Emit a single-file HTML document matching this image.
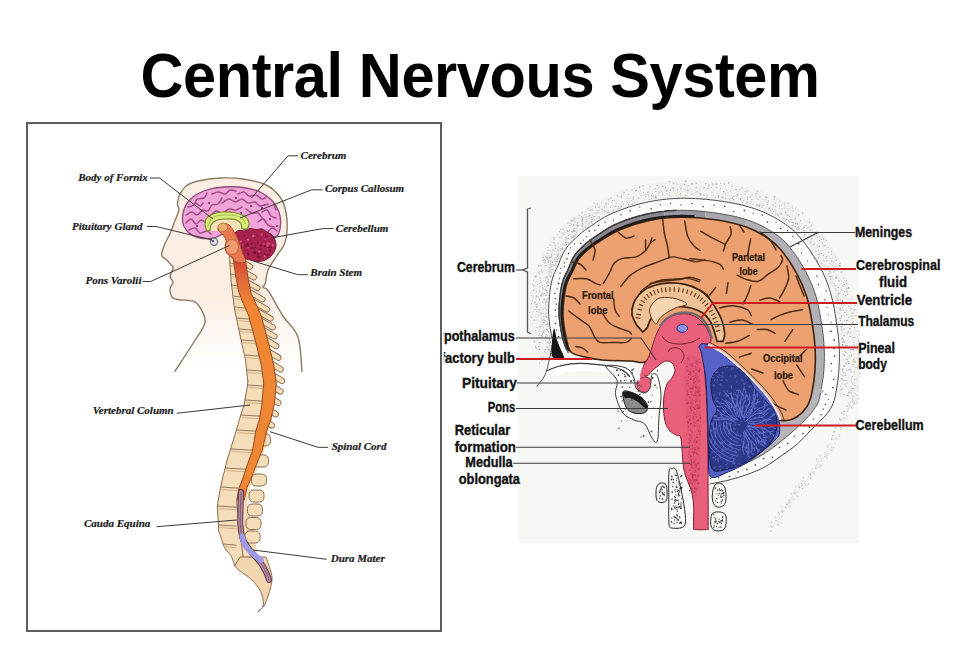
<!DOCTYPE html>
<html><head><meta charset="utf-8">
<style>
html,body{margin:0;padding:0;background:#fff;}
body{width:960px;height:659px;position:relative;overflow:hidden;font-family:"Liberation Sans",sans-serif;}
#title{position:absolute;left:0;top:49.5px;width:960px;text-align:center;font-weight:bold;font-size:59.5px;line-height:59px;letter-spacing:-0.4px;transform:scaleY(1.07);transform-origin:0 96px;color:#000;white-space:nowrap;}
svg{position:absolute;left:0;top:0;}
.li{font-family:"Liberation Serif",serif;font-style:italic;font-weight:bold;font-size:11px;fill:#1a1a1a;stroke:#1a1a1a;stroke-width:0.2px;}
.ri{font-family:"Liberation Sans",sans-serif;font-weight:bold;font-size:14.2px;fill:#111;stroke:#111;stroke-width:0.35px;}
.rs{font-family:"Liberation Sans",sans-serif;font-weight:bold;font-size:11px;fill:#2a1808;stroke:#2a1808;stroke-width:0.25px;}
</style></head>
<body>
<div id="title">Central Nervous System</div>
<svg width="960" height="659" viewBox="0 0 960 659">
<g id="right">
<rect x="518" y="176" width="341" height="367" fill="#f7f8f4"/>
<path d="M539.7 363.1 L539.5 362.6 L539.2 361.8 L538.7 360.6 L538.1 359.0 L537.4 357.2 L536.6 355.0 L535.8 352.7 L535.0 350.1 L534.2 347.3 L533.5 344.4 L532.9 341.8 L532.4 339.4 L531.9 336.8 L531.5 334.2 L531.1 331.5 L530.7 328.8 L530.3 326.1 L530.0 323.3 L529.7 320.5 L529.5 317.7 L529.4 314.8 L529.4 312.0 L529.4 309.3 L529.5 306.8 L529.6 304.3 L529.8 302.0 L530.0 299.8 L530.2 297.7 L530.4 295.8 L530.6 293.9 L530.8 292.0 L531.1 290.0 L531.4 287.9 L531.7 285.8 L532.1 283.7 L532.5 281.6 L533.0 279.4 L533.5 277.1 L534.2 274.8 L534.9 272.4 L535.8 269.7 L536.8 267.2 L537.9 264.8 L538.8 262.8 L539.7 261.0 L540.5 259.6 L541.1 258.3 L541.6 257.4 L542.0 256.6 L542.2 256.1 L542.4 255.6 L542.7 254.9 L543.1 253.9 L543.7 252.5 L544.3 250.9 L545.2 249.0 L546.2 246.7 L547.5 244.3 L549.1 241.6 L550.9 238.9 L552.7 236.4 L554.5 234.2 L556.2 232.3 L557.9 230.5 L559.5 228.8 L561.1 227.3 L562.6 226.0 L564.0 224.7 L565.3 223.6 L566.6 222.5 L568.0 221.3 L569.5 220.1 L571.0 218.9 L572.6 217.7 L574.1 216.5 L575.7 215.4 L577.4 214.3 L579.0 213.2 L580.7 212.1 L582.2 211.1 L583.6 210.2 L585.1 209.2 L586.9 208.0 L588.9 206.7 L591.3 205.2 L593.8 203.7 L596.7 202.1 L599.7 200.5 L603.0 198.8 L606.4 197.2 L609.6 195.9 L612.8 194.6 L616.1 193.3 L619.6 192.0 L623.1 190.7 L626.8 189.5 L630.5 188.4 L634.3 187.3 L638.2 186.2 L642.1 185.3 L645.9 184.4 L649.7 183.7 L653.4 183.0 L657.2 182.4 L661.0 181.9 L664.8 181.4 L668.6 181.0 L672.4 180.7 L676.3 180.5 L680.2 180.3 L684.2 180.2 L688.3 180.2 L692.4 180.3 L696.5 180.4 L700.6 180.6 L704.6 180.9 L708.6 181.2 L712.6 181.6 L716.5 182.0 L720.3 182.4 L724.1 183.0 L727.9 183.5 L731.7 184.0 L735.5 184.7 L739.2 185.3 L742.9 186.1 L746.6 186.9 L750.3 187.8 L753.9 188.7 L757.5 189.8 L761.1 190.9 L764.7 192.2 L768.1 193.5 L771.4 194.8 L774.6 196.2 L777.6 197.6 L780.4 199.0 L783.2 200.4 L785.7 201.8 L788.1 203.1 L790.5 204.4 L792.9 205.9 L795.4 207.4 L798.0 209.2 L800.6 211.1 L803.3 213.2 L805.9 215.5 L808.5 217.8 L810.9 220.2 L813.4 222.8 L815.8 225.5 L818.3 228.3 L820.6 231.2 L822.9 234.1 L825.0 237.1 L827.1 240.1 L829.2 243.2 L831.2 246.2 L833.1 249.3 L835.0 252.4 L836.8 255.5 L838.5 258.6 L840.1 261.7 L841.6 264.8 L843.1 267.9 L844.4 271.0 L845.7 274.1 L846.8 277.1 L847.9 280.2 L849.0 283.3 L850.1 286.6 L851.1 289.9 L851.9 293.2 L852.7 296.3 L853.4 299.3 L854.0 302.2 L854.5 305.0 L855.0 307.6 L855.5 310.2 L856.0 312.8 L856.5 315.6 L857.0 318.6 L857.5 321.6 L858.0 324.8 L858.4 327.9 L858.9 331.1 L859.3 334.3 L859.6 337.6 L859.9 340.8 L860.1 344.0 L860.3 347.0 L860.4 350.0 L860.5 352.9 L860.6 355.8 L860.6 358.7 L860.6 361.6 L860.5 364.5 L860.4 367.4 L860.3 370.3 L860.1 373.2 L859.8 376.3 L859.5 379.4 L859.2 382.5 L858.8 385.6 L858.4 388.7 L858.0 391.7 L857.5 394.7 L857.0 397.7 L856.4 400.6 L835.2 396.3 L835.7 393.8 L836.2 391.1 L836.7 388.4 L837.1 385.7 L837.5 382.9 L837.9 380.1 L838.2 377.2 L838.5 374.4 L838.7 371.7 L838.9 369.1 L839.1 366.5 L839.2 363.9 L839.3 361.3 L839.4 358.7 L839.4 356.1 L839.4 353.5 L839.3 350.8 L839.2 348.1 L839.1 345.4 L838.9 342.5 L838.6 339.5 L838.4 336.5 L838.0 333.5 L837.6 330.5 L837.2 327.5 L836.8 324.6 L836.4 321.7 L835.9 318.8 L835.5 316.1 L835.0 313.6 L834.6 311.1 L834.2 308.6 L833.7 306.0 L833.2 303.4 L832.6 300.7 L831.9 298.0 L831.2 295.2 L830.4 292.4 L829.5 289.5 L828.6 286.8 L827.6 284.0 L826.6 281.3 L825.5 278.6 L824.3 275.8 L823.1 273.1 L821.7 270.3 L820.3 267.6 L818.8 264.8 L817.3 262.1 L815.7 259.3 L813.9 256.6 L812.1 253.8 L810.3 251.0 L808.4 248.2 L806.4 245.5 L804.4 242.9 L802.4 240.3 L800.3 237.9 L798.2 235.5 L796.2 233.4 L794.2 231.4 L792.1 229.5 L790.0 227.7 L787.9 226.1 L785.8 224.5 L783.8 223.1 L781.7 221.8 L779.6 220.5 L777.5 219.3 L775.4 218.1 L773.2 216.9 L770.8 215.6 L768.4 214.4 L765.8 213.2 L763.1 212.0 L760.4 210.9 L757.5 209.8 L754.5 208.7 L751.4 207.7 L748.3 206.7 L745.1 205.9 L741.8 205.0 L738.5 204.3 L735.1 203.6 L731.7 202.9 L728.2 202.3 L724.7 201.7 L721.2 201.2 L717.7 200.7 L714.2 200.2 L710.5 199.8 L706.8 199.4 L703.0 199.1 L699.2 198.8 L695.4 198.6 L691.6 198.4 L687.8 198.3 L684.1 198.2 L680.4 198.3 L676.8 198.4 L673.3 198.6 L669.7 198.8 L666.3 199.2 L662.8 199.5 L659.3 200.0 L655.9 200.5 L652.5 201.1 L649.1 201.7 L645.7 202.5 L642.2 203.3 L638.7 204.2 L635.2 205.1 L631.8 206.2 L628.4 207.2 L625.1 208.4 L621.9 209.5 L618.8 210.7 L615.9 211.8 L613.0 213.0 L610.1 214.3 L607.3 215.7 L604.7 217.1 L602.3 218.5 L600.1 219.9 L598.0 221.2 L596.1 222.5 L594.4 223.7 L592.9 224.7 L591.4 225.7 L589.9 226.7 L588.4 227.8 L586.9 228.8 L585.5 229.8 L584.2 230.8 L582.8 231.8 L581.5 232.9 L580.3 233.9 L579.0 235.0 L577.8 236.0 L576.6 237.1 L575.5 238.2 L574.3 239.3 L573.1 240.4 L571.8 241.7 L570.6 243.0 L569.3 244.4 L568.0 245.9 L566.8 247.5 L565.5 249.3 L564.3 251.2 L563.2 253.1 L562.3 254.9 L561.6 256.7 L560.9 258.2 L560.3 259.7 L559.8 261.0 L559.4 262.2 L559.0 263.2 L558.7 264.1 L558.3 265.0 L557.8 266.0 L557.3 267.1 L556.7 268.3 L556.1 269.6 L555.4 271.1 L554.7 272.7 L553.9 274.4 L553.2 276.3 L552.6 278.2 L552.1 280.1 L551.6 281.9 L551.2 283.7 L550.9 285.5 L550.5 287.3 L550.3 289.1 L550.0 290.9 L549.8 292.7 L549.6 294.4 L549.4 296.2 L549.3 298.0 L549.1 299.8 L549.0 301.7 L548.8 303.6 L548.7 305.6 L548.7 307.7 L548.6 309.9 L548.6 312.1 L548.7 314.4 L548.8 316.7 L549.0 319.1 L549.3 321.5 L549.6 323.9 L549.9 326.3 L550.3 328.7 L550.8 331.1 L551.2 333.4 L551.7 335.7 L552.1 337.9 L552.7 340.0 L553.2 342.3 L553.9 344.5 L554.6 346.6 L555.3 348.6 L556.0 350.4 L556.7 352.1 L557.3 353.5 L557.9 354.8 L558.3 355.7 L558.6 356.4 Z" fill="#f2f2ef" stroke="none"/>
<path d="M552.1 358.8h0.7M549.2 358.8h1.0M555.5 356.6h0.7M552.0 358.2h0.8M548.7 360.4h0.9M539.2 363.1h0.8M553.8 356.7h1.3M554.4 357.4h0.9M548.1 358.2h0.8M546.4 359.6h1.1M549.8 358.3h1.2M553.3 356.6h1.3M544.8 360.5h0.7M551.3 356.8h1.0M555.3 356.4h1.1M541.2 359.9h1.1M547.5 357.9h1.4M549.7 355.7h1.2M547.3 358.4h0.8M551.1 355.1h1.0M552.1 352.6h1.2M552.7 353.2h1.3M553.5 353.4h1.3M542.9 357.1h0.9M551.3 355.3h0.7M551.5 351.3h1.0M545.6 353.0h0.9M549.8 353.6h1.2M547.6 353.9h0.6M540.3 357.1h1.2M548.4 350.1h1.1M551.4 349.0h0.7M548.5 349.6h0.7M551.8 348.8h1.3M544.2 351.7h0.9M547.5 349.3h1.4M546.7 348.3h0.7M548.1 349.2h0.7M552.7 347.6h0.7M544.5 349.6h1.4M538.6 348.7h0.9M550.5 345.7h1.2M547.5 346.9h1.4M539.0 349.7h1.2M549.4 345.6h0.6M549.9 342.6h1.2M535.1 347.9h1.4M535.0 346.4h0.8M548.4 343.6h1.3M537.9 346.6h1.2M549.7 341.6h1.2M539.1 342.5h1.2M547.3 342.4h0.9M546.5 342.1h0.7M548.3 341.7h1.2M549.0 339.6h1.1M546.0 338.4h0.6M533.9 341.7h1.3M545.3 340.1h0.8M546.8 338.4h1.1M546.4 335.9h1.3M545.2 337.1h1.3M545.1 337.1h1.0M541.6 337.3h0.7M549.4 335.6h1.0M538.3 335.4h1.0M542.1 334.3h1.0M545.8 334.8h1.0M541.9 336.0h1.0M540.5 335.3h1.2M542.9 332.3h1.4M539.0 334.0h0.8M541.9 333.3h0.7M547.0 330.8h0.8M547.9 332.2h1.3M546.9 329.6h0.7M534.8 330.6h1.4M543.3 330.7h1.3M546.2 329.3h0.9M545.7 329.8h0.6M540.2 326.6h0.9M539.0 326.9h1.4M536.5 327.4h0.8M547.5 326.2h0.7M543.4 327.9h0.8M546.6 324.5h1.2M545.4 324.6h0.9M547.3 324.5h1.2M547.0 323.4h1.3M541.4 324.9h1.3M543.4 322.0h0.8M545.1 320.9h0.8M543.1 322.5h0.8M540.0 322.0h0.6M543.4 322.4h1.0M544.7 320.3h0.7M533.8 320.2h1.3M542.1 320.0h1.4M543.5 320.0h1.1M541.6 318.7h0.7M546.1 316.4h0.7M546.2 317.6h1.1M543.0 316.6h1.0M544.8 316.4h1.4M530.3 317.2h1.4M542.7 313.5h0.9M540.5 314.0h1.0M545.3 313.6h0.9M544.7 314.1h0.8M538.5 315.1h1.1M536.6 311.8h0.9M529.1 312.5h1.1M546.3 312.9h1.1M536.1 311.3h1.0M540.6 312.7h1.3M539.2 310.0h1.2M543.0 309.0h0.9M545.9 309.9h1.1M538.0 309.6h0.6M534.6 309.5h1.0M536.2 307.6h0.8M545.0 308.0h0.8M536.4 307.1h0.9M540.7 307.8h1.1M536.5 306.5h0.8M535.1 304.9h0.6M545.2 305.8h1.2M536.4 304.8h1.0M539.9 305.9h0.8M531.0 303.4h1.0M534.9 302.2h0.8M545.3 302.7h1.1M545.2 304.2h0.7M534.0 303.1h1.2M545.0 303.2h0.6M546.1 301.3h0.8M545.0 300.9h1.3M546.6 302.1h0.7M532.2 300.8h0.8M542.2 302.0h1.1M542.6 298.6h0.6M546.4 299.0h1.3M543.8 299.3h0.8M543.5 299.8h1.2M539.0 299.5h1.0M535.7 297.0h1.0M536.2 296.0h0.6M531.4 295.9h0.9M544.3 298.3h0.8M537.5 296.8h0.9M544.8 295.1h1.3M540.4 296.0h1.4M541.1 294.7h0.7M542.6 294.9h0.8M540.5 295.5h0.9M542.6 293.3h0.9M546.1 295.0h0.7M541.3 294.0h0.8M544.0 293.6h1.0M532.6 292.9h0.6M547.3 293.0h1.0M538.8 291.0h1.3M535.8 291.5h0.8M545.7 292.2h1.1M532.9 290.4h1.2M542.4 288.7h1.2M546.3 290.4h0.8M546.0 290.6h1.2M545.8 290.4h1.1M542.8 290.0h0.6M544.8 289.1h1.1M534.3 285.8h0.8M533.0 285.6h0.6M542.3 287.5h0.8M539.7 286.5h0.6M544.5 286.5h0.8M537.1 284.6h0.8M532.4 284.5h0.8M546.7 286.0h1.4M541.7 285.1h0.9M540.5 282.4h0.9M547.5 283.9h0.6M547.7 285.7h1.3M539.3 283.7h0.9M547.7 285.1h0.6M539.9 280.8h0.9M546.4 282.4h0.9M533.3 280.5h0.8M545.8 282.9h0.9M548.3 282.8h1.3M547.3 281.6h0.6M545.5 280.6h0.6M547.9 282.0h0.8M539.8 278.2h0.8M534.7 276.9h1.2M546.2 277.5h1.2M536.3 276.3h0.6M547.6 279.7h1.4M545.2 278.1h1.0M535.1 275.9h1.2M539.3 273.9h0.9M547.0 277.0h0.7M549.1 276.4h0.7M550.0 277.0h1.4M538.4 272.8h0.7M550.2 275.6h1.0M548.8 274.9h1.1M541.7 272.0h0.7M538.8 271.1h0.9M540.6 271.3h0.8M551.3 273.1h0.9M548.7 271.8h0.8M541.1 269.8h0.7M547.3 272.0h1.3M550.8 272.5h0.8M538.6 266.0h0.9M540.5 265.7h1.2M538.2 265.6h1.1M550.4 270.1h0.8M550.5 271.0h0.8M552.5 270.2h0.7M549.8 269.2h1.0M551.9 269.5h1.0M544.9 265.6h1.2M548.8 267.6h1.4M551.3 266.8h0.9M543.4 262.2h0.8M544.4 262.8h1.3M550.4 266.1h1.3M548.6 265.1h1.0M548.0 262.4h1.1M551.2 264.6h0.8M549.9 263.4h1.0M545.3 261.0h0.7M542.6 260.1h0.6M542.4 259.9h1.1M543.9 260.8h0.8M552.0 264.5h0.7M553.3 265.1h0.9M553.8 265.9h1.3M555.4 265.2h0.6M544.1 259.3h1.0M548.2 260.9h1.1M551.9 262.6h1.0M555.6 264.7h0.8M547.1 258.9h0.7M550.5 260.7h0.9M555.3 263.6h0.6M548.0 260.6h1.2M549.9 261.2h0.9M542.5 257.3h1.4M548.1 258.1h1.4M552.3 261.4h0.7M547.3 257.3h0.9M546.3 259.2h0.8M545.4 257.3h1.3M554.7 261.5h0.9M555.8 261.4h1.3M549.4 257.8h1.2M556.0 262.1h0.9M545.4 256.2h1.3M557.4 261.2h0.9M546.3 257.7h1.1M554.3 259.6h0.7M546.9 257.8h0.8M551.0 257.0h1.1M553.8 258.0h0.7M550.3 257.0h1.3M556.1 260.0h0.6M557.0 259.2h0.9M556.5 258.2h0.8M550.8 254.9h1.3M555.4 257.1h1.1M546.9 253.5h0.8M558.1 258.7h0.9M551.0 254.8h1.2M557.5 255.5h1.0M554.2 254.6h1.2M558.5 258.0h0.7M557.4 256.6h1.1M548.2 250.3h0.8M559.7 256.0h1.2M559.8 256.0h1.0M550.1 250.8h0.7M556.6 254.4h1.2M552.7 250.1h0.8M554.1 251.4h1.0M558.3 253.7h0.8M547.6 247.5h0.8M552.0 249.7h0.9M549.5 245.1h1.3M554.6 248.4h1.4M557.3 249.8h1.3M557.5 249.8h0.8M559.8 250.2h1.3M560.4 248.5h1.3M558.7 247.2h0.6M554.8 245.4h1.2M562.0 249.4h1.3M553.2 242.8h1.3M553.4 239.2h0.8M561.9 248.1h1.2M557.7 243.5h0.8M562.1 248.0h0.8M560.9 245.2h0.8M563.3 244.2h0.9M553.4 237.6h1.1M564.4 245.7h1.2M562.6 244.0h0.8M554.3 238.9h0.7M565.4 244.7h1.4M566.0 244.2h1.2M565.1 243.1h1.3M565.3 242.4h0.8M559.2 237.6h1.1M567.6 242.8h1.2M561.5 237.3h0.9M557.2 234.7h0.6M565.8 242.4h1.0M565.5 239.7h1.0M565.0 237.5h1.1M566.1 238.3h1.3M563.3 234.7h1.0M561.5 233.1h1.0M559.2 231.6h0.8M564.5 232.6h0.7M568.3 238.5h0.7M567.4 238.7h1.2M570.6 238.6h0.9M560.4 229.6h0.9M570.7 236.7h0.8M567.9 235.6h1.2M565.4 232.3h1.0M570.9 237.7h1.2M562.3 229.0h1.2M569.3 234.6h1.3M566.2 230.3h1.1M567.3 231.1h1.1M572.1 237.5h1.2M567.1 231.5h1.0M568.8 230.9h1.3M573.3 235.8h0.9M571.4 231.3h1.0M573.7 236.3h1.0M573.6 235.9h1.2M571.7 231.5h1.0M573.3 231.5h1.1M573.1 231.5h1.4M572.0 232.2h0.9M574.8 234.9h1.2M573.7 231.0h1.2M567.5 222.9h1.2M573.2 230.4h1.2M569.4 225.5h1.0M576.0 232.5h1.1M571.0 224.2h0.8M572.8 228.9h0.9M569.5 223.5h0.8M574.1 228.7h1.2M575.5 230.8h1.0M576.4 228.8h0.9M571.2 220.4h1.3M571.3 221.0h1.3M573.1 224.9h1.4M573.3 224.8h0.7M579.5 229.1h0.7M572.9 219.9h1.3M576.3 225.4h1.3M574.4 221.8h1.2M577.0 226.0h1.3M577.2 224.2h0.7M577.4 225.5h0.7M578.3 225.6h1.3M582.0 229.6h1.1M577.2 222.9h0.9M573.8 217.5h1.1M582.8 229.0h1.3M582.0 226.4h1.0M574.5 218.8h1.1M581.7 226.0h1.0M581.4 222.4h0.9M581.9 224.9h0.8M577.6 218.4h0.8M582.0 223.5h1.2M582.1 224.9h1.1M581.9 219.5h1.2M578.8 215.4h0.8M584.9 227.4h1.1M581.7 220.8h1.1M581.8 221.0h1.1M581.9 218.9h1.0M580.9 216.7h0.6M582.4 217.4h0.9M581.6 216.5h0.8M585.5 223.2h0.9M585.3 217.2h1.1M587.7 225.1h1.1M581.5 212.6h0.9M585.8 219.8h1.0M585.6 221.5h0.8M588.6 221.8h1.1M590.6 222.2h1.3M588.7 223.4h0.8M584.5 214.8h1.2M586.0 216.5h0.7M588.0 216.3h1.3M591.4 221.4h0.6M591.8 223.2h0.7M590.6 219.7h1.3M587.9 218.1h1.1M591.1 217.2h1.2M591.6 219.1h0.9M591.7 219.4h1.2M589.2 215.4h1.4M589.0 213.9h1.1M587.8 208.6h0.8M593.3 216.6h1.1M591.9 215.2h0.8M594.3 220.2h1.1M589.7 210.3h1.3M591.8 210.2h0.8M591.2 209.7h1.3M594.2 216.6h1.2M596.5 218.8h0.8M593.4 213.1h0.8M598.3 216.7h1.0M599.2 217.9h0.8M596.2 213.0h1.0M596.5 213.0h0.8M598.6 216.5h1.1M599.2 212.4h0.6M593.6 203.0h1.1M595.3 207.7h0.9M597.4 210.6h1.4M595.2 206.3h0.8M598.7 207.0h1.2M599.4 204.9h0.6M602.3 212.9h0.6M601.4 209.5h1.4M596.7 204.0h0.9M606.8 212.4h1.1M603.8 207.1h0.9M603.6 210.4h1.4M604.6 211.6h0.9M601.5 203.0h0.6M605.3 203.1h1.4M608.3 212.3h1.4M605.3 204.8h1.2M608.5 211.0h0.7M606.4 207.0h0.7M607.9 203.6h0.8M612.8 210.0h1.3M608.3 199.1h1.0M612.7 210.9h1.1M610.0 207.2h1.0M611.6 202.1h0.6M611.9 200.5h1.3M614.0 206.9h0.8M610.5 198.3h1.0M614.8 206.2h1.4M618.7 208.4h0.8M615.8 203.2h0.8M617.8 206.2h1.3M617.4 208.6h0.6M614.4 200.7h0.6M617.2 196.3h0.6M617.4 196.0h0.9M616.2 195.2h0.7M621.2 206.4h0.8M620.1 207.0h1.0M623.0 204.1h1.2M621.0 195.1h0.7M621.1 197.6h0.6M620.5 196.4h1.3M621.7 201.9h1.0M623.5 192.7h1.3M625.9 201.4h1.1M627.6 204.7h1.0M627.9 204.8h1.3M627.2 202.0h1.2M631.7 204.4h1.0M629.5 198.5h0.6M626.4 189.6h0.7M631.1 201.0h0.7M627.9 194.4h1.1M632.8 196.8h0.7M631.7 190.2h0.7M633.1 197.2h0.7M632.7 199.1h1.3M634.4 202.3h0.7M636.1 190.6h0.9M635.2 190.4h1.4M635.2 191.3h0.9M637.9 198.1h1.3M636.0 190.2h1.0M639.3 186.6h0.9M639.6 193.5h0.7M640.6 195.6h0.7M638.9 187.8h1.1M639.9 190.9h0.6M643.1 192.7h0.8M644.8 194.3h0.8M643.9 195.3h0.8M644.9 196.7h1.1M642.4 185.8h1.0M646.9 192.6h0.7M648.0 196.4h0.8M648.6 199.4h1.1M647.8 192.2h1.2M647.9 194.8h1.0M651.1 195.3h1.0M651.7 194.0h0.9M649.6 186.7h1.0M652.7 195.8h1.2M651.1 198.3h1.0M655.3 197.5h1.2M654.9 198.3h1.2M655.1 196.7h1.1M655.2 191.3h1.0M654.7 188.9h1.0M658.2 187.8h0.7M656.6 185.7h1.1M659.3 192.2h0.9M658.5 187.2h0.9M658.4 193.2h0.8M662.3 193.0h0.9M662.2 186.4h1.0M662.0 195.0h1.1M661.0 191.1h0.9M662.0 186.2h0.8M666.5 191.3h0.6M665.5 190.9h1.2M666.5 190.6h1.0M665.1 187.7h1.1M666.7 193.7h1.0M669.3 195.5h1.0M669.9 190.5h1.0M669.5 192.7h0.9M669.8 189.7h0.9M669.3 181.5h0.7M672.9 183.7h1.4M672.4 182.5h0.8M672.9 189.7h0.7M673.0 188.0h1.4M671.9 188.0h1.2M677.0 192.1h0.8M676.6 184.3h0.8M676.7 189.9h1.1M677.5 189.9h0.9M676.0 195.6h0.7M679.7 195.1h1.3M680.9 187.3h0.6M679.9 185.7h0.9M679.9 193.7h1.3M680.0 188.7h0.9M684.9 195.5h1.4M684.4 190.6h0.6M684.9 181.4h1.3M683.8 184.4h1.4M685.0 189.7h0.9M687.6 185.8h1.3M688.6 189.9h0.7M687.4 193.2h0.8M687.3 189.2h0.9M687.1 190.9h1.3M691.4 191.9h0.8M690.9 194.2h0.9M692.2 193.9h0.8M691.5 183.8h1.3M691.5 184.3h1.2M696.7 191.7h1.4M695.4 190.2h0.7M695.6 187.5h1.1M695.3 192.6h0.8M695.6 183.3h1.0M700.1 193.7h1.1M699.5 189.3h0.7M700.2 194.6h1.1M699.6 195.3h1.0M698.8 193.2h0.8M703.8 195.2h0.9M705.0 183.7h1.3M702.9 194.7h1.1M703.7 187.8h1.1M703.6 188.0h0.9M707.2 188.2h1.3M708.5 186.0h0.6M706.6 195.3h0.9M706.7 196.9h0.7M708.4 185.2h0.8M711.7 192.3h0.6M712.7 184.8h0.6M712.4 183.9h0.8M711.5 195.9h1.3M711.1 187.4h0.9M716.5 187.0h0.7M716.2 184.1h1.2M716.4 187.9h1.0M714.9 197.2h1.0M715.5 184.1h0.6M720.0 188.3h1.0M720.5 183.2h0.8M717.9 197.6h0.8M717.8 195.7h1.1M717.8 196.2h1.0M723.6 184.0h1.3M721.9 197.3h1.3M723.2 191.5h1.1M722.7 191.8h1.3M721.3 197.6h0.8M724.8 198.2h1.2M725.3 194.0h1.0M725.1 194.7h0.6M728.4 182.8h1.2M728.0 183.1h1.0M729.0 195.2h0.6M731.7 186.1h1.3M729.8 190.9h0.7M729.3 200.2h0.8M729.3 199.0h1.3M733.1 199.8h1.2M732.2 197.9h0.9M733.1 196.4h1.3M731.7 198.5h1.1M735.1 189.5h1.4M737.0 194.8h0.8M736.4 194.3h0.7M737.7 195.4h0.6M736.1 196.8h0.6M739.1 189.5h0.9M740.1 199.3h0.9M739.8 198.8h1.3M741.7 187.9h1.0M740.5 194.4h0.7M739.8 199.6h1.3M746.8 190.8h1.1M744.6 191.4h1.1M743.3 200.7h1.0M744.3 194.0h1.3M741.9 202.6h1.0M746.3 202.5h1.1M747.1 199.2h0.9M745.4 203.3h1.0M746.8 202.1h0.7M747.1 197.2h1.0M749.8 201.6h1.0M750.4 196.9h0.7M751.2 199.7h1.2M751.5 194.9h1.2M749.9 203.3h0.7M757.3 191.2h0.7M755.0 194.1h0.9M752.5 204.4h0.8M755.3 196.7h1.1M756.7 193.4h1.3M756.4 204.7h1.2M759.3 196.8h0.9M760.0 196.9h0.6M757.3 199.1h1.2M756.5 205.8h0.8M759.0 206.6h1.1M757.8 205.8h1.2M759.2 205.5h1.1M759.3 204.4h1.0M762.7 199.5h0.6M762.2 205.3h1.3M765.3 197.0h1.3M765.0 199.9h0.7M766.4 197.5h1.1M761.3 207.4h1.3M766.7 202.2h0.9M766.8 204.5h0.9M764.5 209.1h0.6M767.5 204.0h0.7M767.8 200.9h1.0M768.3 208.8h1.4M773.6 196.5h1.2M773.7 199.1h1.1M768.3 208.1h1.3M774.3 197.1h1.2M774.8 203.1h0.9M772.8 205.2h0.9M772.2 209.2h0.9M770.2 209.9h0.7M770.5 211.8h1.0M775.4 206.4h0.7M773.2 211.2h1.0M779.4 201.1h1.1M771.8 213.0h1.4M774.6 210.0h1.3M774.8 214.9h0.8M774.8 211.9h0.8M779.1 205.9h0.8M779.4 208.1h0.8M780.9 205.8h0.7M784.1 205.2h0.7M777.7 215.3h1.1M784.1 203.0h1.2M781.3 208.7h0.9M776.9 214.5h1.1M780.9 214.4h0.8M781.0 213.4h1.1M787.1 203.6h1.2M780.0 213.6h0.7M784.4 208.2h0.9M785.1 212.8h1.1M785.2 212.2h0.8M787.3 210.5h0.8M788.5 208.7h0.8M785.6 212.2h0.6M786.8 215.5h0.9M792.2 206.6h0.7M782.7 218.4h1.0M786.7 214.7h0.9M783.3 219.1h1.3M785.2 220.4h0.8M795.1 208.1h0.9M792.5 210.9h1.3M786.3 219.4h1.1M788.7 216.5h1.1M791.2 219.7h1.1M788.3 220.4h0.9M788.2 221.3h1.1M790.3 219.5h1.1M789.0 222.2h0.8M797.5 215.1h0.9M794.3 218.9h1.1M794.7 218.1h1.3M791.6 222.3h1.2M797.9 214.4h1.4M792.9 222.8h1.4M792.9 224.8h1.2M791.7 225.5h0.7M795.1 223.5h1.3M802.0 213.1h1.2M800.0 220.6h0.8M796.7 223.1h1.4M797.0 224.5h1.0M794.6 226.2h1.1M795.3 226.7h0.7M798.8 227.8h0.9M798.4 229.0h1.2M797.4 227.2h0.7M796.4 229.1h1.0M798.0 227.2h1.1M803.5 227.3h1.4M809.1 222.1h0.9M802.7 228.2h0.9M801.0 229.5h0.6M805.2 225.6h1.1M803.0 230.5h0.7M811.0 226.0h0.6M807.6 227.6h1.0M803.7 230.7h1.2M810.7 225.3h1.4M804.4 235.3h0.9M810.4 229.7h1.1M809.6 230.4h1.0M804.2 234.4h1.3M807.4 232.6h1.0M805.4 238.3h1.0M809.9 235.3h0.8M806.4 237.7h1.1M815.7 231.6h0.6M808.6 236.7h0.7M807.2 239.7h0.9M816.8 233.9h0.7M811.2 239.0h1.0M812.0 238.3h0.7M814.3 235.6h0.8M811.7 241.4h0.6M810.3 242.0h0.7M816.9 237.5h0.8M818.7 236.7h1.3M810.0 243.5h1.1M813.2 244.3h0.9M819.0 240.7h1.1M820.9 239.4h1.1M822.8 239.1h1.2M814.4 244.1h0.7M822.0 243.3h1.0M825.6 240.5h1.1M817.2 247.1h0.9M818.3 246.2h1.0M818.7 246.3h1.2M817.5 250.2h1.0M825.0 245.3h0.8M815.6 251.2h0.7M824.3 245.4h1.1M823.4 245.9h1.2M820.7 253.6h1.3M827.8 247.5h1.0M817.5 254.6h0.8M818.6 254.2h1.0M821.7 250.9h0.8M830.9 251.7h0.8M818.7 257.1h0.9M822.9 255.3h0.9M828.3 252.6h1.0M818.1 257.8h0.9M826.0 256.7h1.2M822.7 259.9h1.1M825.4 258.0h1.3M820.0 260.8h0.6M831.1 254.2h0.7M835.1 257.0h1.0M830.3 258.6h0.8M832.5 258.2h0.8M821.2 263.7h1.4M825.9 260.8h1.3M831.1 261.0h1.2M823.8 265.8h0.8M829.5 263.0h0.7M836.1 260.3h0.7M835.0 260.6h0.6M828.4 266.8h1.0M824.9 269.3h0.9M832.4 265.6h0.7M839.3 263.4h1.0M826.6 268.4h1.0M839.2 265.5h1.3M833.2 267.8h0.7M828.9 271.5h0.8M838.9 265.8h1.4M829.9 270.7h0.6M830.1 272.8h1.2M828.9 273.7h0.7M833.0 271.9h1.2M834.4 270.6h1.0M827.9 273.7h1.1M831.5 276.4h0.7M830.3 276.6h1.3M841.4 271.5h0.7M840.8 272.1h1.0M828.9 276.5h1.0M835.0 277.4h0.9M830.2 279.1h1.3M836.0 277.1h1.4M835.6 278.3h1.2M831.7 278.9h0.8M830.4 283.0h0.8M843.4 278.2h0.8M838.6 280.7h0.6M832.7 283.3h0.6M838.8 280.8h0.9M843.4 282.5h0.6M846.3 280.5h0.7M833.9 285.4h0.7M834.1 284.0h0.8M835.6 285.7h1.2M837.9 287.4h1.3M843.5 284.5h1.1M845.9 283.7h1.2M835.2 288.4h1.1M842.4 285.8h1.3M848.2 287.9h1.2M840.8 289.9h1.2M846.5 288.4h1.0M848.0 287.9h1.2M836.1 290.3h0.8M838.9 293.0h1.3M844.2 291.7h1.2M846.5 292.1h1.3M837.7 293.6h1.3M837.7 294.2h1.2M834.9 296.3h0.7M847.2 294.5h1.0M837.7 296.2h1.3M842.8 294.5h0.8M844.8 295.2h1.2M836.7 299.0h1.3M836.5 300.7h0.9M838.2 299.9h1.3M839.8 300.0h1.0M851.8 297.0h0.7M841.8 300.8h1.4M842.1 301.2h0.9M836.8 303.4h1.0M841.0 302.8h1.1M836.8 302.6h1.4M840.8 305.0h0.9M843.6 305.0h1.0M841.5 303.8h1.3M846.6 303.5h1.2M851.7 303.2h0.6M839.7 308.4h1.3M838.3 308.0h0.6M842.0 307.6h0.8M848.3 306.1h0.9M854.3 305.7h1.1M842.7 310.3h1.2M839.5 310.3h1.3M849.7 307.8h1.0M851.3 308.6h0.7M839.8 309.6h0.9M855.6 309.7h0.8M853.5 310.1h1.0M838.3 312.8h0.9M854.1 309.7h1.3M844.0 312.5h1.2M840.9 315.6h1.0M846.2 314.9h0.8M843.2 315.1h0.8M846.8 314.7h0.6M851.8 313.2h1.4M840.9 317.1h1.0M850.8 316.4h1.2M839.3 318.5h1.4M848.2 317.5h0.9M855.4 315.5h0.9M851.8 318.7h1.3M846.3 320.5h1.3M840.0 320.2h0.9M846.4 320.6h1.1M844.1 320.1h1.3M852.9 321.7h1.1M851.4 323.3h1.3M851.8 322.8h1.3M841.2 324.4h1.1M841.6 324.0h1.3M842.3 326.2h0.7M851.1 326.4h0.9M849.8 326.4h0.9M840.6 326.4h0.8M840.5 327.2h1.2M841.6 329.3h0.8M849.3 328.7h1.1M843.1 329.3h1.3M853.7 327.6h1.2M840.9 330.0h0.7M850.5 332.3h0.9M847.8 331.9h1.3M859.3 332.1h0.9M857.6 331.1h0.7M846.9 333.0h1.0M844.4 335.6h0.8M843.5 336.1h1.0M843.5 335.4h0.8M849.4 336.4h1.2M858.7 334.9h1.2M841.5 338.2h1.3M853.0 337.7h0.9M843.2 340.1h0.8M841.3 338.9h1.3M854.5 337.2h0.7M843.7 342.1h1.4M858.1 340.9h1.3M842.1 342.3h1.0M843.2 341.1h1.3M853.6 342.3h0.9M853.2 345.0h1.3M842.1 344.5h1.1M845.4 345.6h1.2M846.9 345.6h1.0M842.2 345.4h1.3M848.7 347.1h0.8M857.6 346.3h1.1M842.6 347.8h1.1M851.9 347.4h0.7M852.5 347.3h0.9M852.8 349.8h1.1M852.7 349.6h1.3M849.9 349.8h1.4M844.2 351.2h1.3M852.0 349.4h0.7M860.5 352.0h0.6M845.5 352.8h1.1M859.0 353.8h0.8M842.6 353.9h0.7M860.2 352.3h1.2M843.8 355.3h1.2M858.5 354.8h1.3M850.7 356.0h1.1M851.4 355.1h0.6M849.4 355.8h0.6M853.2 359.4h1.2M847.4 359.0h0.8M846.9 359.7h1.0M845.5 359.2h1.3M855.9 358.4h0.8M853.8 361.7h1.4M853.7 360.7h0.7M853.1 361.5h1.0M847.4 361.7h1.3M854.4 362.3h1.3M852.5 364.7h1.3M848.3 363.5h1.4M848.2 363.6h0.8M845.8 363.3h1.0M860.3 365.4h1.2M857.2 367.7h0.8M844.4 365.8h0.8M858.3 366.9h1.2M855.4 367.7h1.0M843.6 366.3h1.1M846.3 370.4h0.7M849.5 369.7h1.4M847.7 369.9h1.4M842.1 368.9h1.3M841.7 369.7h1.4M843.2 372.4h1.2M854.1 372.3h0.8M842.4 371.4h0.8M859.4 373.4h1.1M850.7 372.1h0.7M841.0 374.5h0.7M842.4 375.7h1.2M844.8 374.3h0.7M844.5 375.4h1.0M852.2 376.6h0.9M854.2 379.6h0.8M856.4 379.4h0.8M840.8 378.4h0.7M851.3 378.9h0.7M841.6 378.6h0.9M850.8 381.0h0.7M841.8 379.7h1.4M845.5 380.2h1.2M843.1 380.7h0.7M843.9 380.3h0.9M852.3 384.2h0.8M844.7 384.1h1.0M854.5 385.5h1.3M841.8 383.4h0.7M846.8 383.2h0.7M845.7 386.4h1.0M840.2 386.0h1.0M856.8 387.6h0.8M852.1 388.5h1.4M853.9 389.0h1.0M841.3 390.0h0.8M839.8 389.9h1.0M850.3 390.6h0.9M841.9 388.9h0.7M857.5 391.0h0.6M849.0 392.3h1.0M851.0 393.1h1.0M848.2 392.4h1.2M856.5 395.2h0.9M854.3 393.7h1.1M853.5 396.6h0.6M843.4 394.7h1.2M847.8 395.6h1.1M839.8 393.8h1.0M846.4 395.5h1.4" stroke="#8a8a88" stroke-width="0.9" opacity="0.7"/>
<path d="M558.6 356.4 L558.3 355.7 L557.9 354.8 L557.3 353.5 L556.7 352.1 L556.0 350.4 L555.3 348.6 L554.6 346.6 L553.9 344.5 L553.2 342.3 L552.7 340.0 L552.1 337.9 L551.7 335.7 L551.2 333.4 L550.8 331.1 L550.3 328.7 L549.9 326.3 L549.6 323.9 L549.3 321.5 L549.0 319.1 L548.8 316.7 L548.7 314.4 L548.6 312.1 L548.6 309.9 L548.7 307.7 L548.7 305.6 L548.8 303.6 L549.0 301.7 L549.1 299.8 L549.3 298.0 L549.4 296.2 L549.6 294.4 L549.8 292.7 L550.0 290.9 L550.3 289.1 L550.5 287.3 L550.9 285.5 L551.2 283.7 L551.6 281.9 L552.1 280.1 L552.6 278.2 L553.2 276.3 L553.9 274.4 L554.7 272.7 L555.4 271.1 L556.1 269.6 L556.7 268.3 L557.3 267.1 L557.8 266.0 L558.3 265.0 L558.7 264.1 L559.0 263.2 L559.4 262.2 L559.8 261.0 L560.3 259.7 L560.9 258.2 L561.6 256.7 L562.3 254.9 L563.2 253.1 L564.3 251.2 L565.5 249.3 L566.8 247.5 L568.0 245.9 L569.3 244.4 L570.6 243.0 L571.8 241.7 L573.1 240.4 L574.3 239.3 L575.5 238.2 L576.6 237.1 L577.8 236.0 L579.0 235.0 L580.3 233.9 L581.5 232.9 L582.8 231.8 L584.2 230.8 L585.5 229.8 L586.9 228.8 L588.4 227.8 L589.9 226.7 L591.4 225.7 L592.9 224.7 L594.4 223.7 L596.1 222.5 L598.0 221.2 L600.1 219.9 L602.3 218.5 L604.7 217.1 L607.3 215.7 L610.1 214.3 L613.0 213.0 L615.9 211.8 L618.8 210.7 L621.9 209.5 L625.1 208.4 L628.4 207.2 L631.8 206.2 L635.2 205.1 L638.7 204.2 L642.2 203.3 L645.7 202.5 L649.1 201.7 L652.5 201.1 L655.9 200.5 L659.3 200.0 L662.8 199.5 L666.3 199.2 L669.7 198.8 L673.3 198.6 L676.8 198.4 L680.4 198.3 L684.1 198.2 L687.8 198.3 L691.6 198.4 L695.4 198.6 L699.2 198.8 L703.0 199.1 L706.8 199.4 L710.5 199.8 L714.2 200.2 L717.7 200.7 L721.2 201.2 L724.7 201.7 L728.2 202.3 L731.7 202.9 L735.1 203.6 L738.5 204.3 L741.8 205.0 L745.1 205.9 L748.3 206.7 L751.4 207.7 L754.5 208.7 L757.5 209.8 L760.4 210.9 L763.1 212.0 L765.8 213.2 L768.4 214.4 L770.8 215.6 L773.2 216.9 L775.4 218.1 L777.5 219.3 L779.6 220.5 L781.7 221.8 L783.8 223.1 L785.8 224.5 L787.9 226.1 L790.0 227.7 L792.1 229.5 L794.2 231.4 L796.2 233.4 L798.2 235.5 L800.3 237.9 L802.4 240.3 L804.4 242.9 L806.4 245.5 L808.4 248.2 L810.3 251.0 L812.1 253.8 L813.9 256.6 L815.7 259.3 L817.3 262.1 L818.8 264.8 L820.3 267.6 L821.7 270.3 L823.1 273.1 L824.3 275.8 L825.5 278.6 L826.6 281.3 L827.6 284.0 L828.6 286.8 L829.5 289.5 L830.4 292.4 L831.2 295.2 L831.9 298.0 L832.6 300.7 L833.2 303.4 L833.7 306.0 L834.2 308.6 L834.6 311.1 L835.0 313.6 L835.5 316.1 L835.9 318.8 L836.4 321.7 L836.8 324.6 L837.2 327.5 L837.6 330.5 L838.0 333.5 L838.4 336.5 L838.6 339.5 L838.9 342.5 L839.1 345.4 L839.2 348.1 L839.3 350.8 L839.4 353.5 L839.4 356.1 L839.4 358.7 L839.3 361.3 L839.2 363.9 L839.1 366.5 L838.9 369.1 L838.7 371.7 L838.5 374.4 L838.2 377.2 L837.9 380.1 L837.5 382.9 L837.1 385.7 L836.7 388.4 L836.2 391.1 L835.7 393.8 L835.2 396.3 L820.5 393.3 L820.9 391.1 L821.4 388.7 L821.8 386.2 L822.2 383.6 L822.6 381.0 L823.0 378.4 L823.3 375.7 L823.6 373.1 L823.8 370.6 L824.0 368.2 L824.1 365.8 L824.2 363.4 L824.3 361.1 L824.4 358.7 L824.4 356.3 L824.4 353.9 L824.3 351.5 L824.2 349.0 L824.1 346.4 L823.9 343.7 L823.7 340.9 L823.5 338.1 L823.1 335.2 L822.8 332.4 L822.4 329.5 L822.0 326.7 L821.5 323.9 L821.1 321.1 L820.7 318.5 L820.2 316.0 L819.8 313.6 L819.4 311.2 L818.9 308.8 L818.5 306.4 L817.9 304.0 L817.4 301.5 L816.7 299.1 L816.0 296.6 L815.2 294.1 L814.4 291.6 L813.5 289.1 L812.6 286.6 L811.6 284.1 L810.5 281.7 L809.4 279.2 L808.3 276.7 L807.0 274.2 L805.8 271.7 L804.4 269.2 L803.0 266.6 L801.4 264.1 L799.8 261.4 L798.1 258.8 L796.4 256.2 L794.7 253.7 L792.8 251.2 L791.0 248.9 L789.2 246.7 L787.4 244.6 L785.7 242.7 L784.0 241.0 L782.4 239.4 L780.7 238.0 L779.0 236.6 L777.3 235.3 L775.6 234.1 L773.9 232.9 L772.1 231.8 L770.2 230.6 L768.2 229.4 L766.2 228.3 L764.1 227.1 L762.0 226.0 L759.8 224.9 L757.5 223.8 L755.0 222.8 L752.5 221.8 L749.9 220.8 L747.2 219.9 L744.4 219.0 L741.6 218.2 L738.6 217.4 L735.5 216.6 L732.3 215.9 L729.1 215.3 L725.9 214.7 L722.6 214.1 L719.3 213.6 L716.0 213.0 L712.6 212.6 L709.1 212.1 L705.6 211.7 L702.0 211.3 L698.4 211.0 L694.7 210.7 L691.1 210.5 L687.5 210.4 L684.0 210.3 L680.5 210.3 L677.1 210.4 L673.8 210.5 L670.5 210.7 L667.2 210.9 L664.0 211.3 L660.8 211.6 L657.6 212.1 L654.4 212.6 L651.2 213.1 L648.0 213.8 L644.8 214.5 L641.5 215.3 L638.3 216.2 L635.1 217.1 L631.9 218.1 L628.8 219.2 L625.7 220.2 L622.8 221.3 L620.1 222.4 L617.4 223.5 L614.8 224.6 L612.4 225.8 L610.1 227.1 L607.9 228.3 L605.9 229.6 L604.0 230.8 L602.2 232.0 L600.5 233.1 L598.9 234.2 L597.3 235.2 L595.8 236.2 L594.4 237.2 L593.1 238.1 L591.8 239.0 L590.6 239.9 L589.4 240.8 L588.2 241.7 L587.1 242.7 L586.0 243.6 L584.9 244.6 L583.8 245.5 L582.7 246.5 L581.6 247.5 L580.5 248.6 L579.4 249.6 L578.4 250.7 L577.3 251.9 L576.3 253.1 L575.3 254.3 L574.4 255.6 L573.5 257.0 L572.7 258.5 L572.0 259.9 L571.4 261.3 L570.8 262.6 L570.3 264.0 L569.8 265.3 L569.3 266.5 L568.8 267.7 L568.3 268.8 L567.8 269.9 L567.3 271.1 L566.7 272.2 L566.1 273.4 L565.5 274.6 L564.9 275.9 L564.3 277.2 L563.7 278.6 L563.2 280.1 L562.7 281.6 L562.2 283.1 L561.8 284.6 L561.5 286.2 L561.2 287.7 L560.9 289.3 L560.6 290.9 L560.4 292.5 L560.2 294.1 L560.0 295.8 L559.8 297.5 L559.6 299.2 L559.5 300.9 L559.3 302.7 L559.2 304.5 L559.1 306.3 L559.0 308.2 L559.0 310.2 L559.0 312.1 L559.0 314.2 L559.1 316.2 L559.3 318.3 L559.5 320.5 L559.8 322.7 L560.1 325.0 L560.5 327.2 L560.8 329.5 L561.2 331.7 L561.7 333.8 L562.1 335.8 L562.5 337.8 L563.0 339.7 L563.6 341.6 L564.2 343.5 L564.9 345.3 L565.5 347.0 L566.1 348.5 L566.7 350.0 L567.2 351.2 L567.7 352.2 L568.0 353.1 Z" fill="#fcfcfa" stroke="none"/>
<path d="M561.6 353.3h0.8M559.0 349.3h0.8M556.3 343.8h1.0M557.7 336.7h1.5M556.0 330.2h1.0M554.8 323.3h1.2M555.4 316.4h0.9M554.7 310.1h1.3M555.6 304.2h1.1M554.9 298.6h1.0M554.2 293.3h1.2M556.7 288.5h0.8M557.8 283.5h1.5M559.1 278.5h0.7M559.6 273.2h1.1M560.1 268.6h0.7M564.0 266.7h0.8M564.0 262.8h1.0M566.3 258.9h1.4M567.8 253.5h1.4M570.2 247.8h0.8M573.9 243.9h1.0M580.0 243.4h1.4M583.2 240.2h0.6M586.3 236.6h0.9M588.5 231.2h1.4M594.3 230.3h1.1M598.0 225.4h1.3M604.5 222.3h1.1M613.0 220.5h0.8M620.4 214.8h1.1M629.5 210.8h1.4M639.4 207.1h0.8M650.4 208.8h1.4M659.9 204.9h0.8M670.0 203.3h0.8M680.5 204.9h0.9M691.4 203.7h1.2M702.4 206.7h1.3M713.5 205.2h1.0M723.9 206.4h1.3M733.3 211.6h1.0M743.7 210.5h1.2M752.7 213.4h0.8M761.6 215.2h1.3M767.1 222.0h1.0M775.6 222.3h0.8M779.8 228.4h1.5M787.3 230.7h0.8M792.5 236.7h0.9M798.0 243.6h1.3M801.2 253.0h0.8M806.9 260.8h0.8M810.5 269.2h0.7M816.4 276.0h1.0M817.9 284.6h1.1M825.6 290.8h1.1M824.5 299.8h1.2M826.7 307.3h0.8M828.3 314.7h0.6M830.7 322.5h0.7M830.2 331.4h1.5M833.5 340.0h1.4M833.3 348.5h1.2M833.9 356.2h1.5M830.7 363.6h1.3M830.8 371.1h0.8M833.1 379.5h1.1M832.1 387.7h1.4" stroke="#333" stroke-width="1.3"/>
<path d="M558.6 356.4 L558.3 355.7 L557.9 354.8 L557.3 353.5 L556.7 352.1 L556.0 350.4 L555.3 348.6 L554.6 346.6 L553.9 344.5 L553.2 342.3 L552.7 340.0 L552.1 337.9 L551.7 335.7 L551.2 333.4 L550.8 331.1 L550.3 328.7 L549.9 326.3 L549.6 323.9 L549.3 321.5 L549.0 319.1 L548.8 316.7 L548.7 314.4 L548.6 312.1 L548.6 309.9 L548.7 307.7 L548.7 305.6 L548.8 303.6 L549.0 301.7 L549.1 299.8 L549.3 298.0 L549.4 296.2 L549.6 294.4 L549.8 292.7 L550.0 290.9 L550.3 289.1 L550.5 287.3 L550.9 285.5 L551.2 283.7 L551.6 281.9 L552.1 280.1 L552.6 278.2 L553.2 276.3 L553.9 274.4 L554.7 272.7 L555.4 271.1 L556.1 269.6 L556.7 268.3 L557.3 267.1 L557.8 266.0 L558.3 265.0 L558.7 264.1 L559.0 263.2 L559.4 262.2 L559.8 261.0 L560.3 259.7 L560.9 258.2 L561.6 256.7 L562.3 254.9 L563.2 253.1 L564.3 251.2 L565.5 249.3 L566.8 247.5 L568.0 245.9 L569.3 244.4 L570.6 243.0 L571.8 241.7 L573.1 240.4 L574.3 239.3 L575.5 238.2 L576.6 237.1 L577.8 236.0 L579.0 235.0 L580.3 233.9 L581.5 232.9 L582.8 231.8 L584.2 230.8 L585.5 229.8 L586.9 228.8 L588.4 227.8 L589.9 226.7 L591.4 225.7 L592.9 224.7 L594.4 223.7 L596.1 222.5 L598.0 221.2 L600.1 219.9 L602.3 218.5 L604.7 217.1 L607.3 215.7 L610.1 214.3 L613.0 213.0 L615.9 211.8 L618.8 210.7 L621.9 209.5 L625.1 208.4 L628.4 207.2 L631.8 206.2 L635.2 205.1 L638.7 204.2 L642.2 203.3 L645.7 202.5 L649.1 201.7 L652.5 201.1 L655.9 200.5 L659.3 200.0 L662.8 199.5 L666.3 199.2 L669.7 198.8 L673.3 198.6 L676.8 198.4 L680.4 198.3 L684.1 198.2 L687.8 198.3 L691.6 198.4 L695.4 198.6 L699.2 198.8 L703.0 199.1 L706.8 199.4 L710.5 199.8 L714.2 200.2 L717.7 200.7 L721.2 201.2 L724.7 201.7 L728.2 202.3 L731.7 202.9 L735.1 203.6 L738.5 204.3 L741.8 205.0 L745.1 205.9 L748.3 206.7 L751.4 207.7 L754.5 208.7 L757.5 209.8 L760.4 210.9 L763.1 212.0 L765.8 213.2 L768.4 214.4 L770.8 215.6 L773.2 216.9 L775.4 218.1 L777.5 219.3 L779.6 220.5 L781.7 221.8 L783.8 223.1 L785.8 224.5 L787.9 226.1 L790.0 227.7 L792.1 229.5 L794.2 231.4 L796.2 233.4 L798.2 235.5 L800.3 237.9 L802.4 240.3 L804.4 242.9 L806.4 245.5 L808.4 248.2 L810.3 251.0 L812.1 253.8 L813.9 256.6 L815.7 259.3 L817.3 262.1 L818.8 264.8 L820.3 267.6 L821.7 270.3 L823.1 273.1 L824.3 275.8 L825.5 278.6 L826.6 281.3 L827.6 284.0 L828.6 286.8 L829.5 289.5 L830.4 292.4 L831.2 295.2 L831.9 298.0 L832.6 300.7 L833.2 303.4 L833.7 306.0 L834.2 308.6 L834.6 311.1 L835.0 313.6 L835.5 316.1 L835.9 318.8 L836.4 321.7 L836.8 324.6 L837.2 327.5 L837.6 330.5 L838.0 333.5 L838.4 336.5 L838.6 339.5 L838.9 342.5 L839.1 345.4 L839.2 348.1 L839.3 350.8 L839.4 353.5 L839.4 356.1 L839.4 358.7 L839.3 361.3 L839.2 363.9 L839.1 366.5 L838.9 369.1 L838.7 371.7 L838.5 374.4 L838.2 377.2 L837.9 380.1 L837.5 382.9 L837.1 385.7 L836.7 388.4 L836.2 391.1 L835.7 393.8 L835.2 396.3" fill="none" stroke="#4a4a4a" stroke-width="1"/>
<path d="M568.0 353.1 L567.7 352.2 L567.2 351.2 L566.7 350.0 L566.1 348.5 L565.5 347.0 L564.9 345.3 L564.2 343.5 L563.6 341.6 L563.0 339.7 L562.5 337.8 L562.1 335.8 L561.7 333.8 L561.2 331.7 L560.8 329.5 L560.5 327.2 L560.1 325.0 L559.8 322.7 L559.5 320.5 L559.3 318.3 L559.1 316.2 L559.0 314.2 L559.0 312.1 L559.0 310.2 L559.0 308.2 L559.1 306.3 L559.2 304.5 L559.3 302.7 L559.5 300.9 L559.6 299.2 L559.8 297.5 L560.0 295.8 L560.2 294.1 L560.4 292.5 L560.6 290.9 L560.9 289.3 L561.2 287.7 L561.5 286.2 L561.8 284.6 L562.2 283.1 L562.7 281.6 L563.2 280.1 L563.7 278.6 L564.3 277.2 L564.9 275.9 L565.5 274.6 L566.1 273.4 L566.7 272.2 L567.3 271.1 L567.8 269.9 L568.3 268.8 L568.8 267.7 L569.3 266.5 L569.8 265.3 L570.3 264.0 L570.8 262.6 L571.4 261.3 L572.0 259.9 L572.7 258.5 L573.5 257.0 L574.4 255.6 L575.3 254.3 L576.3 253.1 L577.3 251.9 L578.4 250.7 L579.4 249.6 L580.5 248.6 L581.6 247.5 L582.7 246.5 L583.8 245.5 L584.9 244.6 L586.0 243.6 L587.1 242.7 L588.2 241.7 L589.4 240.8 L590.6 239.9 L591.8 239.0 L593.1 238.1 L594.4 237.2 L595.8 236.2 L597.3 235.2 L598.9 234.2 L600.5 233.1 L602.2 232.0 L604.0 230.8 L605.9 229.6 L607.9 228.3 L610.1 227.1 L612.4 225.8 L614.8 224.6 L617.4 223.5 L620.1 222.4 L622.8 221.3 L625.7 220.2 L628.8 219.2 L631.9 218.1 L635.1 217.1 L638.3 216.2 L641.5 215.3 L644.8 214.5 L648.0 213.8 L651.2 213.1 L654.4 212.6 L657.6 212.1 L660.8 211.6 L664.0 211.3 L664.7 218.2 L661.6 218.5 L658.5 218.9 L655.5 219.4 L652.4 219.9 L649.4 220.5 L646.3 221.2 L643.2 221.9 L640.1 222.8 L637.0 223.7 L634.0 224.6 L630.9 225.6 L628.0 226.6 L625.2 227.7 L622.5 228.7 L620.0 229.7 L617.6 230.7 L615.4 231.8 L613.2 232.9 L611.2 234.1 L609.3 235.2 L607.4 236.3 L605.6 237.5 L603.9 238.5 L602.3 239.6 L600.7 240.6 L599.2 241.5 L597.8 242.4 L596.5 243.3 L595.2 244.1 L594.1 244.9 L592.9 245.7 L591.8 246.5 L590.8 247.4 L589.7 248.2 L588.6 249.1 L587.5 250.0 L586.4 250.9 L585.4 251.8 L584.3 252.8 L583.3 253.7 L582.3 254.7 L581.4 255.7 L580.5 256.7 L579.6 257.7 L578.8 258.8 L578.0 259.9 L577.4 261.1 L576.7 262.3 L576.1 263.5 L575.5 264.8 L575.0 266.0 L574.5 267.3 L573.9 268.5 L573.4 269.8 L572.8 271.0 L572.2 272.2 L571.6 273.4 L571.0 274.5 L570.3 275.7 L569.7 276.8 L569.1 278.0 L568.5 279.2 L568.0 280.4 L567.5 281.7 L567.0 283.0 L566.6 284.4 L566.2 285.8 L565.8 287.2 L565.5 288.6 L565.2 290.1 L564.9 291.6 L564.7 293.2 L564.4 294.8 L564.2 296.4 L564.0 298.0 L563.8 299.7 L563.6 301.4 L563.4 303.1 L563.3 304.8 L563.1 306.6 L563.0 308.4 L562.9 310.3 L562.9 312.2 L562.9 314.1 L563.0 316.0 L563.1 318.0 L563.3 320.1 L563.5 322.3 L563.8 324.5 L564.1 326.7 L564.5 328.9 L564.8 331.0 L565.2 333.1 L565.6 335.1 L566.0 337.0 L566.4 338.8 L567.0 340.6 L567.5 342.4 L568.1 344.2 L568.7 345.8 L569.3 347.4 L569.8 348.8 L570.3 350.1 L570.7 351.1 L571.0 352.0 Z" fill="#8c8892" stroke="none"/>
<path d="M664.0 211.3 L667.2 210.9 L670.5 210.7 L673.8 210.5 L677.1 210.4 L680.5 210.3 L684.0 210.3 L687.5 210.4 L691.1 210.5 L694.7 210.7 L698.4 211.0 L702.0 211.3 L705.6 211.7 L704.9 218.5 L701.4 218.2 L697.9 217.9 L694.3 217.6 L690.8 217.5 L687.3 217.4 L683.9 217.3 L680.6 217.3 L677.3 217.4 L674.1 217.5 L670.9 217.7 L667.8 217.9 L664.7 218.2 Z" fill="#9a96a0" stroke="none"/>
<path d="M705.6 211.7 L709.1 212.1 L712.6 212.6 L716.0 213.0 L719.3 213.6 L722.6 214.1 L725.9 214.7 L729.1 215.3 L732.3 215.9 L735.5 216.6 L738.6 217.4 L741.6 218.2 L744.4 219.0 L747.2 219.9 L745.0 226.5 L742.4 225.7 L739.6 224.8 L736.8 224.0 L733.9 223.3 L730.8 222.6 L727.7 221.9 L724.6 221.3 L721.4 220.7 L718.2 220.2 L715.0 219.7 L711.7 219.3 L708.4 218.8 L704.9 218.5 Z" fill="#a8a6ac" stroke="none"/>
<path d="M747.2 219.9 L749.9 220.8 L752.5 221.8 L755.0 222.8 L757.5 223.8 L759.8 224.9 L762.0 226.0 L764.1 227.1 L766.2 228.3 L768.2 229.4 L770.2 230.6 L772.1 231.8 L773.9 232.9 L775.6 234.1 L777.3 235.3 L779.0 236.6 L780.7 238.0 L782.4 239.4 L784.0 241.0 L785.7 242.7 L787.4 244.6 L789.2 246.7 L791.0 248.9 L792.8 251.2 L794.7 253.7 L796.4 256.2 L798.1 258.8 L799.8 261.4 L801.4 264.1 L803.0 266.6 L804.4 269.2 L805.8 271.7 L807.0 274.2 L808.3 276.7 L809.4 279.2 L810.5 281.7 L811.6 284.1 L812.6 286.6 L813.5 289.1 L814.4 291.6 L815.2 294.1 L816.0 296.6 L816.7 299.1 L817.4 301.5 L817.9 304.0 L818.5 306.4 L818.9 308.8 L819.4 311.2 L819.8 313.6 L820.2 316.0 L820.7 318.5 L821.1 321.1 L821.5 323.9 L822.0 326.7 L822.4 329.5 L822.8 332.4 L823.1 335.2 L823.5 338.1 L823.7 340.9 L823.9 343.7 L824.1 346.4 L824.2 349.0 L824.3 351.5 L824.4 353.9 L824.4 356.3 L824.4 358.7 L824.3 361.1 L824.2 363.4 L824.1 365.8 L824.0 368.2 L823.8 370.6 L823.6 373.1 L823.3 375.7 L823.0 378.4 L822.6 381.0 L822.2 383.6 L821.8 386.2 L821.4 388.7 L820.9 391.1 L820.5 393.3 L812.1 391.7 L812.5 389.5 L812.9 387.3 L813.3 384.9 L813.7 382.4 L814.0 379.9 L814.3 377.4 L814.6 374.8 L814.8 372.4 L815.0 370.0 L815.1 367.7 L815.3 365.4 L815.3 363.2 L815.4 360.9 L815.4 358.7 L815.4 356.5 L815.3 354.2 L815.3 351.8 L815.1 349.5 L815.0 347.0 L814.8 344.4 L814.6 341.8 L814.3 339.1 L814.0 336.3 L813.7 333.5 L813.3 330.7 L812.9 327.9 L812.5 325.2 L812.1 322.6 L811.7 320.0 L811.3 317.5 L810.9 315.1 L810.5 312.8 L810.1 310.5 L809.6 308.2 L809.1 305.9 L808.6 303.7 L808.0 301.4 L807.4 299.1 L806.7 296.8 L805.9 294.5 L805.1 292.1 L804.2 289.8 L803.3 287.5 L802.4 285.1 L801.4 282.8 L800.3 280.4 L799.1 278.1 L798.0 275.7 L796.7 273.4 L795.4 271.0 L793.9 268.6 L792.4 266.1 L790.8 263.5 L789.2 261.1 L787.5 258.6 L785.8 256.3 L784.2 254.0 L782.6 251.9 L781.0 250.0 L779.5 248.3 L778.1 246.7 L776.6 245.3 L775.2 243.9 L773.8 242.7 L772.4 241.5 L770.9 240.4 L769.4 239.3 L767.7 238.2 L766.0 237.0 L764.2 235.8 L762.3 234.7 L760.4 233.5 L758.5 232.4 L756.4 231.4 L754.3 230.3 L752.2 229.3 L749.9 228.3 L747.5 227.4 L745.0 226.5 Z" fill="#b2b0b4" stroke="none"/>
<path d="M566.7 350.0 L566.1 348.5 L565.5 347.0 L564.9 345.3 L564.2 343.5 L563.6 341.6 L563.0 339.7 L562.5 337.8 L562.1 335.8 L561.7 333.8 L561.2 331.7 L560.8 329.5 L560.5 327.2 L560.1 325.0 L559.8 322.7 L559.5 320.5 L559.3 318.3 L559.1 316.2 L559.0 314.2 L559.0 312.1 L559.0 310.2 L559.0 308.2 L559.1 306.3 L559.2 304.5 L559.3 302.7 L559.5 300.9 L559.6 299.2 L559.8 297.5 L560.0 295.8 L560.2 294.1 L560.4 292.5 L560.6 290.9 L560.9 289.3 L561.2 287.7 L561.5 286.2 L561.8 284.6 L562.2 283.1 L562.7 281.6 L563.2 280.1 L563.7 278.6 L564.3 277.2 L564.9 275.9 L565.5 274.6 L566.1 273.4 L566.7 272.2 L567.3 271.1 L567.8 269.9 L568.3 268.8 L568.8 267.7 L569.3 266.5 L569.8 265.3 L570.3 264.0 L570.8 262.6 L571.4 261.3 L572.0 259.9 L572.7 258.5 L573.5 257.0 L574.4 255.6 L575.3 254.3 L576.3 253.1 L577.3 251.9 L578.4 250.7 L579.4 249.6 L580.5 248.6 L581.6 247.5 L582.7 246.5 L583.8 245.5 L584.9 244.6 L586.0 243.6 L587.1 242.7 L588.2 241.7 L589.4 240.8 L590.6 239.9 L591.8 239.0 L593.1 238.1 L594.4 237.2 L595.8 236.2 L597.3 235.2 L598.9 234.2 L600.5 233.1 L602.2 232.0 L604.0 230.8 L605.9 229.6 L607.9 228.3 L610.1 227.1 L612.4 225.8 L614.8 224.6 L617.4 223.5 L620.1 222.4 L622.8 221.3 L625.7 220.2 L628.8 219.2 L631.9 218.1 L635.1 217.1 L638.3 216.2 L641.5 215.3 L644.8 214.5 L648.0 213.8 L651.2 213.1 L654.4 212.6 L657.6 212.1 L660.8 211.6 L664.0 211.3 L667.2 210.9 L670.5 210.7 L673.8 210.5 L677.1 210.4" fill="none" stroke="#1a1a1a" stroke-width="1.3"/>
<path d="M568.0 353.1 L567.7 352.2 L567.2 351.2 L566.7 350.0 L566.1 348.5 L565.5 347.0 L564.9 345.3 L564.2 343.5 L563.6 341.6 L563.0 339.7 L562.5 337.8 L562.1 335.8 L561.7 333.8 L561.2 331.7 L560.8 329.5 L560.5 327.2 L560.1 325.0 L559.8 322.7 L559.5 320.5 L559.3 318.3 L559.1 316.2 L559.0 314.2 L559.0 312.1 L559.0 310.2 L559.0 308.2 L559.1 306.3 L559.2 304.5 L559.3 302.7 L559.5 300.9 L559.6 299.2 L559.8 297.5 L560.0 295.8 L560.2 294.1 L560.4 292.5 L560.6 290.9 L560.9 289.3 L561.2 287.7 L561.5 286.2 L561.8 284.6 L562.2 283.1 L562.7 281.6 L563.2 280.1 L563.7 278.6 L564.3 277.2 L564.9 275.9 L565.5 274.6 L566.1 273.4 L566.7 272.2 L567.3 271.1 L567.8 269.9 L568.3 268.8 L568.8 267.7 L569.3 266.5 L569.8 265.3 L570.3 264.0 L570.8 262.6 L571.4 261.3 L572.0 259.9 L572.7 258.5 L573.5 257.0 L574.4 255.6 L575.3 254.3 L576.3 253.1 L577.3 251.9 L578.4 250.7 L579.4 249.6 L580.5 248.6 L581.6 247.5 L582.7 246.5 L583.8 245.5 L584.9 244.6 L586.0 243.6 L587.1 242.7 L588.2 241.7 L589.4 240.8 L590.6 239.9 L591.8 239.0 L593.1 238.1 L594.4 237.2 L595.8 236.2 L597.3 235.2 L598.9 234.2 L600.5 233.1 L602.2 232.0 L604.0 230.8 L605.9 229.6 L607.9 228.3 L610.1 227.1 L612.4 225.8 L614.8 224.6 L617.4 223.5 L620.1 222.4 L622.8 221.3 L625.7 220.2 L628.8 219.2 L631.9 218.1 L635.1 217.1 L638.3 216.2 L641.5 215.3 L644.8 214.5 L648.0 213.8 L651.2 213.1 L654.4 212.6 L657.6 212.1 L660.8 211.6 L664.0 211.3 L667.2 210.9 L670.5 210.7 L673.8 210.5 L677.1 210.4 L680.5 210.3 L684.0 210.3 L687.5 210.4 L691.1 210.5 L694.7 210.7 L698.4 211.0 L702.0 211.3 L705.6 211.7 L709.1 212.1 L712.6 212.6 L716.0 213.0 L719.3 213.6 L722.6 214.1 L725.9 214.7 L729.1 215.3 L732.3 215.9 L735.5 216.6 L738.6 217.4 L741.6 218.2 L744.4 219.0 L747.2 219.9 L749.9 220.8 L752.5 221.8 L755.0 222.8 L757.5 223.8 L759.8 224.9 L762.0 226.0 L764.1 227.1 L766.2 228.3 L768.2 229.4 L770.2 230.6 L772.1 231.8 L773.9 232.9 L775.6 234.1 L777.3 235.3 L779.0 236.6 L780.7 238.0 L782.4 239.4 L784.0 241.0 L785.7 242.7 L787.4 244.6 L789.2 246.7 L791.0 248.9 L792.8 251.2 L794.7 253.7 L796.4 256.2 L798.1 258.8 L799.8 261.4 L801.4 264.1 L803.0 266.6 L804.4 269.2 L805.8 271.7 L807.0 274.2 L808.3 276.7 L809.4 279.2 L810.5 281.7 L811.6 284.1 L812.6 286.6 L813.5 289.1 L814.4 291.6 L815.2 294.1 L816.0 296.6 L816.7 299.1 L817.4 301.5 L817.9 304.0 L818.5 306.4 L818.9 308.8 L819.4 311.2 L819.8 313.6 L820.2 316.0 L820.7 318.5 L821.1 321.1 L821.5 323.9 L822.0 326.7 L822.4 329.5 L822.8 332.4 L823.1 335.2 L823.5 338.1 L823.7 340.9 L823.9 343.7 L824.1 346.4 L824.2 349.0 L824.3 351.5 L824.4 353.9 L824.4 356.3 L824.4 358.7 L824.3 361.1 L824.2 363.4 L824.1 365.8 L824.0 368.2 L823.8 370.6 L823.6 373.1 L823.3 375.7 L823.0 378.4 L822.6 381.0 L822.2 383.6 L821.8 386.2 L821.4 388.7 L820.9 391.1 L820.5 393.3" fill="none" stroke="#4a4a4a" stroke-width="0.9"/>
<path d="M857.0 398.5h0.6M856.7 402.2h0.8M853.4 397.1h0.7M857.8 397.1h0.8M853.6 403.0h1.4M851.9 398.8h1.3M858.6 399.0h0.9M855.4 400.2h0.9M853.5 400.9h0.6M850.7 400.3h0.7M854.5 404.0h0.8M855.7 404.2h0.9M851.7 401.9h1.3M852.1 400.9h0.7M853.1 403.2h1.2M849.8 406.1h1.2M846.8 406.3h0.8M851.1 407.9h1.2M847.8 402.9h1.1M850.1 403.2h0.8M848.3 405.0h1.1M845.9 406.0h0.9M847.9 409.3h0.6M849.3 405.8h0.8M847.0 411.3h1.1M848.8 407.9h0.8M847.1 408.3h0.7M844.1 411.9h1.3M846.1 415.9h1.2M843.2 411.4h1.2M841.5 413.5h0.7M841.4 412.8h0.7M846.3 418.4h1.0M841.2 413.1h1.0M843.5 414.8h1.2M843.5 417.7h0.7M839.1 418.4h1.0M840.4 420.4h0.8M840.8 419.1h1.2M844.0 418.3h1.0M843.9 425.8h1.1M838.1 422.5h1.1M839.3 419.6h1.4M843.7 420.2h1.0M840.4 425.0h0.7M841.3 428.3h0.9M836.6 425.7h0.7M842.8 423.3h0.8M839.9 427.4h0.7M835.0 427.6h1.0M840.3 427.7h0.7M839.9 429.5h0.9M833.6 431.8h1.4M833.6 431.9h1.2M839.0 436.4h1.0M839.4 434.3h0.8M834.1 438.8h1.2M831.8 435.1h1.4M831.6 439.5h0.9M832.6 435.5h1.0M835.8 438.5h1.3M831.1 438.7h1.2M831.3 438.8h0.9M834.6 443.5h1.1M826.9 446.6h1.1M833.1 447.9h0.9M832.7 447.0h0.8M829.4 443.9h0.9M827.3 445.7h0.8M831.0 447.8h1.1M830.9 450.2h0.8M831.1 450.6h1.4M827.6 453.8h1.3M824.3 453.1h0.9M828.4 449.4h1.0M824.9 454.2h0.9M826.2 457.9h1.3M821.3 458.5h1.2M825.0 456.5h0.6M826.4 455.8h1.0M820.4 460.9h1.2M824.1 456.9h0.9M819.7 456.1h0.9M818.2 461.0h0.8M816.1 459.2h1.2M817.0 462.0h0.9M821.2 465.4h0.8M820.1 465.0h1.0M819.5 467.2h0.8M819.4 466.1h0.7M817.4 467.9h1.0M816.6 465.0h1.3M815.5 466.8h0.9M813.4 472.0h1.2M811.7 471.7h0.6M815.0 468.3h1.2M811.5 469.1h1.0M814.2 474.0h0.9M810.1 473.7h1.2M810.0 474.7h1.4M809.2 474.3h1.2M812.7 473.0h0.8M808.5 476.7h0.7M810.0 475.1h1.1M804.8 481.3h1.4M807.7 480.2h0.7M810.2 478.5h1.2M809.9 477.2h1.3M802.9 477.8h1.0M807.7 483.9h1.4M805.0 484.2h1.0M802.4 482.0h1.2M802.1 484.8h0.8M801.0 483.5h1.0M802.4 481.2h0.6M801.5 485.6h1.2M798.4 485.3h1.0M798.0 487.7h1.3M798.2 487.6h1.2M802.0 488.5h1.2M796.4 492.4h1.3M794.9 493.1h1.0M795.1 487.0h1.2M799.2 487.5h1.0M796.7 496.5h0.9M797.6 491.2h0.8M793.4 492.3h1.1M794.4 490.6h0.8M790.7 493.8h0.9M793.6 493.7h1.0M793.2 499.2h1.0M796.7 495.7h0.8M792.1 496.4h0.7M788.5 500.3h1.4M790.8 497.9h0.9M790.4 500.2h0.9M786.9 504.4h1.1M785.8 504.3h1.2M788.3 502.8h1.3M788.6 501.4h0.8M787.5 506.0h1.2M790.3 502.4h0.9M789.6 506.9h1.1M788.4 503.8h1.4M785.3 507.3h0.7M782.3 510.8h1.2M781.7 506.8h1.0M785.0 507.0h1.3M781.6 511.7h1.3M783.7 511.3h0.9M781.9 512.2h1.2M781.0 510.5h0.9M779.2 518.2h1.0M778.6 514.1h1.3M777.8 516.6h0.6M778.0 512.2h1.2M775.2 517.2h0.6M776.0 520.8h1.2M780.6 522.3h1.0M780.6 516.3h1.3M774.9 520.6h1.2M777.9 521.9h0.7M778.0 524.5h1.1M778.7 519.5h0.6M770.8 522.5h1.2M774.3 523.1h0.7M771.2 526.6h1.1M776.7 524.8h1.4M771.5 527.2h0.8M770.1 531.3h1.4M773.4 525.7h0.7M769.6 527.0h1.2" stroke="#8a8a88" stroke-width="0.9" opacity="0.6"/>
<path d="M823.0 390.0 C825.2 391.2 822.3 392.0 821.0 395.0 C819.7 398.0 817.8 403.7 815.0 408.0 C812.2 412.3 807.8 417.0 804.0 421.0 C800.2 425.0 796.4 428.2 792.0 432.0 C787.6 435.8 782.8 440.2 777.8 444.0 C772.8 447.8 767.5 451.7 762.0 455.0 C756.5 458.3 750.7 461.3 745.0 463.7 C739.3 466.1 733.5 467.8 728.0 469.5 C722.5 471.2 714.7 478.9 712.0 474.0 C709.3 469.1 700.7 452.3 712.0 440.0 C723.3 427.7 764.0 408.7 780.0 400.0 C796.0 391.3 800.8 389.7 808.0 388.0 C815.2 386.3 820.8 388.8 823.0 390.0 Z" fill="#b6b4b8" stroke="none"/>
<path d="M820.5 393.3 C820.1 394.9 819.4 399.9 818.0 403.0 C816.6 406.1 814.3 409.0 812.0 412.0 C809.7 415.0 807.3 417.7 804.0 421.0 C800.7 424.3 796.4 428.2 792.0 432.0 C787.6 435.8 782.8 440.2 777.8 444.0 C772.8 447.8 767.5 451.7 762.0 455.0 C756.5 458.3 750.7 461.3 745.0 463.7 C739.3 466.1 733.8 467.8 728.0 469.5 C722.2 471.2 713.0 473.2 710.0 474.0 L710.0 484.0 C713.2 483.3 722.8 481.6 729.0 480.0 C735.2 478.4 741.0 476.7 747.0 474.5 C753.0 472.3 759.1 470.1 764.8 467.0 C770.5 463.9 775.6 459.8 781.0 456.0 C786.4 452.2 792.4 448.3 797.4 444.0 C802.4 439.7 806.4 434.7 811.0 430.0 C815.6 425.3 821.5 420.0 825.0 416.0 C828.5 412.0 830.3 409.3 832.0 406.0 C833.7 402.7 834.7 397.9 835.2 396.3 Z" fill="#fcfcfa" stroke="none"/>
<path d="M835.2 396.3 C834.7 397.9 833.7 402.7 832.0 406.0 C830.3 409.3 828.5 412.0 825.0 416.0 C821.5 420.0 815.6 425.3 811.0 430.0 C806.4 434.7 802.4 439.7 797.4 444.0 C792.4 448.3 786.4 452.2 781.0 456.0 C775.6 459.8 770.5 463.9 764.8 467.0 C759.1 470.1 753.0 472.3 747.0 474.5 C741.0 476.7 735.2 478.4 729.0 480.0 C722.8 481.6 713.2 483.3 710.0 484.0" fill="none" stroke="#4a4a4a" stroke-width="1"/>
<path d="M820.5 393.3 C820.1 394.9 819.4 399.9 818.0 403.0 C816.6 406.1 814.3 409.0 812.0 412.0 C809.7 415.0 807.3 417.7 804.0 421.0 C800.7 424.3 796.4 428.2 792.0 432.0 C787.6 435.8 782.8 440.2 777.8 444.0 C772.8 447.8 767.5 451.7 762.0 455.0 C756.5 458.3 750.7 461.3 745.0 463.7 C739.3 466.1 733.8 467.8 728.0 469.5 C722.2 471.2 713.0 473.2 710.0 474.0" fill="none" stroke="#4a4a4a" stroke-width="0.9"/>
<path d="M825.2 394.3h1.2M827.9 399.3h0.7M824.7 404.4h1.4M822.7 409.2h1.1M820.5 414.6h1.2M812.7 419.1h1.1M808.7 427.1h1.5M802.4 433.5h1.2M793.9 436.3h0.9M787.1 443.5h1.3M778.8 447.6h1.4M771.9 457.1h1.2M762.8 458.6h1.4M754.7 465.0h1.3M746.1 469.4h1.4M737.3 471.8h1.6M728.7 476.7h1.5M718.2 477.7h1.0M710.0 478.5h0.9" stroke="#333" stroke-width="1.3"/>
<path d="M571.0 352.0 C567.8 348.7 567.3 343.0 566.0 337.0 C564.7 331.0 563.3 322.5 563.0 316.0 C562.7 309.5 563.3 303.5 564.0 298.0 C564.7 292.5 565.5 287.5 567.0 283.0 C568.5 278.5 570.8 275.0 572.8 271.0 C574.8 267.0 576.2 262.4 578.8 258.8 C581.4 255.2 585.0 252.1 588.6 249.1 C592.2 246.1 595.5 243.8 600.7 240.6 C605.9 237.4 611.9 233.0 620.0 229.7 C628.1 226.3 639.3 222.6 649.4 220.5 C659.5 218.4 669.7 217.4 680.6 217.3 C691.5 217.2 704.3 218.2 715.0 219.7 C725.7 221.2 736.5 223.6 745.0 226.5 C753.5 229.4 760.0 233.1 766.0 237.0 C772.0 240.9 775.9 243.9 781.0 250.0 C786.1 256.1 792.4 265.6 796.7 273.4 C801.0 281.2 804.2 289.0 806.7 296.8 C809.2 304.6 810.3 311.6 811.7 320.0 C813.1 328.4 814.5 338.7 815.0 347.0 C815.5 355.3 815.5 362.2 815.0 370.0 C814.5 377.8 813.1 387.4 811.7 393.6 C810.3 399.8 809.2 403.1 806.7 407.0 C804.2 410.9 800.0 414.8 796.7 417.0 C793.4 419.2 790.7 420.2 786.7 420.5 C782.8 420.8 777.1 420.8 773.0 419.0 C768.9 417.2 765.8 413.5 762.0 410.0 C758.2 406.5 754.5 402.8 750.0 398.0 C745.5 393.2 740.0 387.0 735.0 381.0 C730.0 375.0 724.5 367.3 720.0 362.0 C715.5 356.7 711.7 352.3 708.0 349.0 C704.3 345.7 701.0 343.5 698.0 342.0 C695.0 340.5 694.7 340.3 690.0 340.0 C685.3 339.7 675.8 338.3 670.0 340.0 C664.2 341.7 659.2 346.3 655.0 350.0 C650.8 353.7 649.2 360.2 645.0 362.0 C640.8 363.8 637.2 361.3 630.0 361.0 C622.8 360.7 609.5 360.7 602.0 360.0 C594.5 359.3 590.2 358.3 585.0 357.0 C579.8 355.7 574.2 355.3 571.0 352.0 Z" fill="#eda171" stroke="#3a2210" stroke-width="1.6"/>
<path d="M569.0 350.6 L568.5 349.3 L568.0 347.9 L567.4 346.3 L566.8 344.6 L566.2 342.8 L565.6 341.0 L565.1 339.2 L564.6 337.3 L564.2 335.4 L563.8 333.4 L563.4 331.3 L563.1 329.1 L562.7 326.9 L562.4 324.7 L562.2 322.4 L561.9 320.2 L561.7 318.1 L561.6 316.1 L561.5 314.1 L561.5 312.2 L561.5 310.2 L561.6 308.4 L561.7 306.5 L561.9 304.7 L562.0 302.9 L562.2 301.2 L562.4 299.5 L562.6 297.8 L562.8 296.2 L563.0 294.6 L563.3 293.0 L563.5 291.4 L563.8 289.9 L564.1 288.3 L564.5 286.9 L564.8 285.4 L565.2 284.0 L565.7 282.6 L566.2 281.2 L566.7 279.9 L567.3 278.6 L567.9 277.4 L568.5 276.2 L569.1 275.0 L569.7 273.9 L570.3 272.7 L571.0 271.6 L571.5 270.4 L572.1 269.2 L572.6 268.0 L573.2 266.7 L573.7 265.5 L574.3 264.2 L574.9 262.9 L575.5 261.6 L576.1 260.4 L576.9 259.2 L577.7 258.0 L578.5 256.9 L579.4 255.8 L580.4 254.7 L581.3 253.7 L582.4 252.7 L583.4 251.7 L584.4 250.8 L585.5 249.9 L586.6 248.9 L587.7 248.0 L588.8 247.1 L589.9 246.3 L591.0 245.4 L592.1 244.6 L593.3 243.8 L594.4 243.0 L595.7 242.1 L597.0 241.3 L598.4 240.4 L600.0 239.4 L601.5 238.4 L603.2 237.4 L604.9 236.3 L606.7 235.1 L608.5 234.0 L610.5 232.8 L612.6 231.7 L614.8 230.6 L617.0 229.5 L619.5 228.4 L622.0 227.4 L624.7 226.3 L627.6 225.3 L630.5 224.3 L633.5 223.3 L636.6 222.3 L639.8 221.4 L642.9 220.6 L646.0 219.8 L649.1 219.1 L652.2 218.5 L655.2 218.0 L658.3 217.5 L661.4 217.1 L664.5 216.8 L667.7 216.5 L670.9 216.3 L674.1 216.1 L677.3 216.0 L680.6 215.9 L683.9 215.9 L687.4 216.0 L690.9 216.1 L694.4 216.2" fill="none" stroke="#1a1a1a" stroke-width="2.2"/>
<path d="M573.8 278.8 C575.8 278.8 582.6 278.0 586.2 278.8 C589.9 279.5 593.3 282.4 595.6 283.4 C597.9 284.4 599.5 284.7 600.3 285.0" fill="none" stroke="#4a2a10" stroke-width="1.45" stroke-linecap="round"/>
<path d="M603.4 283.4 C604.5 281.6 607.9 275.9 609.7 272.5 C611.5 269.1 612.3 265.4 614.4 263.0 C616.5 260.6 618.6 259.4 622.2 258.4 C625.8 257.4 632.4 258.2 636.2 256.9 C640.1 255.6 643.3 252.9 645.6 250.6 C647.9 248.2 649.2 244.9 650.3 242.8 C651.3 240.7 651.6 238.8 651.9 238.0" fill="none" stroke="#4a2a10" stroke-width="1.45" stroke-linecap="round"/>
<path d="M650.3 242.8 C651.1 242.3 654.2 240.2 655.0 239.7" fill="none" stroke="#4a2a10" stroke-width="1.45" stroke-linecap="round"/>
<path d="M645.6 250.6 C645.6 248.8 645.6 241.8 645.6 240.0" fill="none" stroke="#4a2a10" stroke-width="1.45" stroke-linecap="round"/>
<path d="M620.6 286.6 C622.2 284.8 626.4 278.7 630.0 275.6 C633.6 272.5 638.3 269.9 642.5 267.8 C646.7 265.7 650.8 264.6 655.0 263.0 C659.2 261.4 664.4 259.4 667.5 258.4 C670.6 257.4 670.4 256.6 673.8 256.9 C677.1 257.2 684.2 259.2 687.8 260.0 C691.4 260.8 692.7 261.6 695.6 261.6 C698.5 261.6 703.4 260.3 705.0 260.0" fill="none" stroke="#4a2a10" stroke-width="1.45" stroke-linecap="round"/>
<path d="M662.8 219.4 C663.1 221.7 663.6 229.0 664.4 233.4 C665.2 237.8 666.7 242.0 667.5 245.9 C668.3 249.8 668.8 255.1 669.0 256.9" fill="none" stroke="#4a2a10" stroke-width="1.45" stroke-linecap="round"/>
<path d="M684.7 221.0 C685.2 223.6 686.2 232.4 687.8 236.6 C689.3 240.8 691.9 243.7 694.0 246.0 C696.1 248.3 699.2 249.8 700.3 250.6" fill="none" stroke="#4a2a10" stroke-width="1.45" stroke-linecap="round"/>
<path d="M650.3 283.4 C652.6 283.0 659.4 281.6 664.4 281.0 C669.4 280.4 675.8 280.1 680.0 279.5 C684.2 278.9 686.1 277.1 689.4 277.2 C692.7 277.3 698.2 279.5 700.0 280.0" fill="none" stroke="#4a2a10" stroke-width="1.45" stroke-linecap="round"/>
<path d="M568.7 311.0 C570.5 312.4 576.2 316.7 579.6 319.2 C583.0 321.7 586.5 323.0 589.0 326.0 C591.5 329.0 592.8 334.3 594.6 337.0 C596.4 339.7 597.0 341.5 600.0 342.4 C603.0 343.3 608.1 342.4 612.4 342.4 C616.7 342.4 622.8 343.1 626.0 342.4 C629.2 341.7 630.6 339.0 631.5 338.3" fill="none" stroke="#4a2a10" stroke-width="1.45" stroke-linecap="round"/>
<path d="M602.8 313.7 C603.9 315.3 606.6 320.8 609.6 323.3 C612.6 325.8 617.4 327.4 620.6 328.7 C623.8 330.0 627.0 330.5 628.8 331.4 C630.6 332.3 631.0 333.6 631.5 334.0" fill="none" stroke="#4a2a10" stroke-width="1.45" stroke-linecap="round"/>
<path d="M613.7 298.7 C613.9 300.5 614.1 306.7 615.0 309.6 C615.9 312.6 618.5 315.3 619.2 316.4" fill="none" stroke="#4a2a10" stroke-width="1.45" stroke-linecap="round"/>
<path d="M575.5 346.5 C576.6 346.7 580.2 346.9 582.3 347.8 C584.3 348.7 586.9 351.3 587.8 352.0" fill="none" stroke="#4a2a10" stroke-width="1.45" stroke-linecap="round"/>
<path d="M590.0 240.0 C590.8 241.7 594.5 246.7 595.0 250.0 C595.5 253.3 593.3 258.3 593.0 260.0" fill="none" stroke="#4a2a10" stroke-width="1.45" stroke-linecap="round"/>
<path d="M618.0 232.0 C619.3 233.0 623.3 237.3 626.0 238.0 C628.7 238.7 632.7 236.3 634.0 236.0" fill="none" stroke="#4a2a10" stroke-width="1.45" stroke-linecap="round"/>
<path d="M572.0 262.0 C573.3 262.3 577.7 262.7 580.0 264.0 C582.3 265.3 585.0 269.0 586.0 270.0" fill="none" stroke="#4a2a10" stroke-width="1.45" stroke-linecap="round"/>
<path d="M566.0 296.0 C567.3 296.3 571.7 296.7 574.0 298.0 C576.3 299.3 579.0 303.0 580.0 304.0" fill="none" stroke="#4a2a10" stroke-width="1.45" stroke-linecap="round"/>
<path d="M700.6 231.2 C702.4 232.2 707.9 235.5 711.2 237.3 C714.5 239.1 718.0 240.6 720.3 241.9 C722.6 243.2 724.4 243.4 724.9 244.9 C725.4 246.4 723.6 250.0 723.4 251.0" fill="none" stroke="#4a2a10" stroke-width="1.45" stroke-linecap="round"/>
<path d="M724.9 244.9 C725.9 243.1 730.1 237.3 731.0 234.3 C731.9 231.3 730.3 228.0 730.2 226.7" fill="none" stroke="#4a2a10" stroke-width="1.45" stroke-linecap="round"/>
<path d="M690.0 258.5 C692.0 258.8 698.2 259.5 702.0 260.0 C705.8 260.5 709.8 260.8 712.8 261.6 C715.8 262.4 718.5 263.3 720.3 264.6 C722.1 265.9 722.9 268.4 723.4 269.2" fill="none" stroke="#4a2a10" stroke-width="1.45" stroke-linecap="round"/>
<path d="M750.7 238.8 C750.5 240.1 749.7 243.6 749.2 246.4 C748.7 249.2 747.9 254.0 747.6 255.5" fill="none" stroke="#4a2a10" stroke-width="1.45" stroke-linecap="round"/>
<path d="M737.0 275.2 C738.8 276.0 744.1 278.8 747.6 279.8 C751.1 280.8 754.8 282.3 758.3 281.3 C761.8 280.3 765.6 276.0 768.9 273.7 C772.2 271.4 775.7 269.9 778.0 267.6 C780.3 265.3 782.0 262.0 782.5 260.0 C783.0 258.0 781.2 256.2 781.0 255.5" fill="none" stroke="#4a2a10" stroke-width="1.45" stroke-linecap="round"/>
<path d="M787.0 266.0 C787.3 268.1 789.1 274.2 788.6 278.3 C788.1 282.4 785.5 287.1 784.0 290.4 C782.5 293.7 780.2 296.7 779.5 298.0" fill="none" stroke="#4a2a10" stroke-width="1.45" stroke-linecap="round"/>
<path d="M728.0 282.8 C727.7 284.6 726.7 291.6 726.4 293.4" fill="none" stroke="#4a2a10" stroke-width="1.45" stroke-linecap="round"/>
<path d="M750.7 285.8 C750.2 287.3 748.9 292.0 747.6 295.0 C746.3 298.0 743.8 302.5 743.0 304.0" fill="none" stroke="#4a2a10" stroke-width="1.45" stroke-linecap="round"/>
<path d="M715.8 287.4 C714.8 288.7 710.7 293.7 709.7 295.0" fill="none" stroke="#4a2a10" stroke-width="1.45" stroke-linecap="round"/>
<path d="M760.0 232.0 C761.7 233.3 767.3 237.0 770.0 240.0 C772.7 243.0 775.0 248.3 776.0 250.0" fill="none" stroke="#4a2a10" stroke-width="1.45" stroke-linecap="round"/>
<path d="M740.0 226.0 C740.7 227.0 743.3 231.0 744.0 232.0" fill="none" stroke="#4a2a10" stroke-width="1.45" stroke-linecap="round"/>
<path d="M796.0 276.0 C796.7 277.7 798.7 282.7 800.0 286.0 C801.3 289.3 803.3 294.3 804.0 296.0" fill="none" stroke="#4a2a10" stroke-width="1.45" stroke-linecap="round"/>
<path d="M700.0 290.0 C701.3 291.0 706.0 293.3 708.0 296.0 C710.0 298.7 711.3 304.3 712.0 306.0" fill="none" stroke="#4a2a10" stroke-width="1.45" stroke-linecap="round"/>
<path d="M719.7 307.8 C722.0 307.5 728.9 305.5 733.5 305.8 C738.1 306.1 744.4 308.1 747.4 309.7 C750.4 311.3 750.6 314.7 751.3 315.7" fill="none" stroke="#4a2a10" stroke-width="1.45" stroke-linecap="round"/>
<path d="M771.0 319.6 C772.3 319.0 775.7 317.0 779.0 315.7 C782.3 314.4 786.9 312.7 790.8 311.7 C794.7 310.7 800.6 310.0 802.6 309.7" fill="none" stroke="#4a2a10" stroke-width="1.45" stroke-linecap="round"/>
<path d="M757.2 329.5 C758.8 329.5 764.0 328.9 767.0 329.5 C770.0 330.1 773.7 332.8 775.0 333.4" fill="none" stroke="#4a2a10" stroke-width="1.45" stroke-linecap="round"/>
<path d="M792.8 329.5 C791.5 331.5 786.2 339.3 784.9 341.3" fill="none" stroke="#4a2a10" stroke-width="1.45" stroke-linecap="round"/>
<path d="M725.7 343.3 C727.7 343.0 733.6 342.6 737.5 341.3 C741.4 340.0 747.3 336.4 749.3 335.4" fill="none" stroke="#4a2a10" stroke-width="1.45" stroke-linecap="round"/>
<path d="M739.5 357.0 C741.5 356.4 749.3 353.8 751.3 353.2" fill="none" stroke="#4a2a10" stroke-width="1.45" stroke-linecap="round"/>
<path d="M751.3 369.0 C753.2 369.7 761.0 372.3 763.0 373.0" fill="none" stroke="#4a2a10" stroke-width="1.45" stroke-linecap="round"/>
<path d="M783.0 380.8 C784.0 382.4 786.2 388.3 788.8 390.6 C791.4 392.9 797.1 393.9 798.7 394.6" fill="none" stroke="#4a2a10" stroke-width="1.45" stroke-linecap="round"/>
<path d="M796.7 365.0 C798.0 367.0 803.3 374.8 804.6 376.8" fill="none" stroke="#4a2a10" stroke-width="1.45" stroke-linecap="round"/>
<path d="M806.6 349.2 C805.5 350.3 801.1 354.9 800.0 356.0" fill="none" stroke="#4a2a10" stroke-width="1.45" stroke-linecap="round"/>
<path d="M760.0 300.0 C761.7 299.7 766.7 297.7 770.0 298.0 C773.3 298.3 778.3 301.3 780.0 302.0" fill="none" stroke="#4a2a10" stroke-width="1.45" stroke-linecap="round"/>
<path d="M730.0 322.0 C732.0 321.7 738.3 319.7 742.0 320.0 C745.7 320.3 750.3 323.3 752.0 324.0" fill="none" stroke="#4a2a10" stroke-width="1.45" stroke-linecap="round"/>
<path d="M766.0 395.0 C767.3 396.5 770.7 401.5 774.0 404.0 C777.3 406.5 784.0 409.0 786.0 410.0" fill="none" stroke="#4a2a10" stroke-width="1.45" stroke-linecap="round"/>
<path d="M632.0 309.5 C632.5 308.0 633.2 303.4 635.0 300.3 C636.8 297.2 639.5 293.5 642.8 291.0 C646.1 288.5 650.5 286.6 655.0 285.2 C659.5 283.8 665.0 283.0 670.0 282.9 C675.0 282.8 680.2 283.3 685.0 284.4 C689.8 285.5 695.2 287.5 699.0 289.7 C702.8 291.9 705.2 294.2 708.0 297.3 C710.8 300.4 713.3 304.2 715.6 308.0 C717.9 311.8 720.2 315.7 721.7 320.0 C723.2 324.3 724.5 330.1 724.7 333.7 C724.9 337.2 723.3 340.0 723.0 341.3 L717.0 341.3 C716.5 339.5 715.2 334.2 714.0 330.7 C712.8 327.1 711.5 323.0 709.5 320.0 C707.5 317.0 705.1 314.5 702.0 312.5 C698.9 310.5 695.0 309.0 691.0 308.0 C687.0 307.0 682.0 306.4 677.7 306.4 C673.5 306.4 669.0 307.0 665.5 308.0 C662.0 309.0 658.9 310.5 656.4 312.5 C653.9 314.5 651.8 317.5 650.3 320.0 C648.8 322.5 647.8 326.4 647.3 327.7 L642.8 332.0 C641.7 330.7 637.8 326.8 636.0 324.0 C634.2 321.2 632.7 316.5 632.0 315.0 Z" fill="#f0c396" stroke="#3a2210" stroke-width="1.7"/>
<path d="M635.7 317.6 L640.3 318.4 M636.4 314.1 L640.9 314.9 M637.4 309.0 L641.8 310.1 M638.9 304.1 L643.1 305.9 M641.0 300.3 L644.8 302.8 M643.6 297.0 L647.0 300.1 M646.6 294.2 L649.4 297.8 M649.9 291.9 L652.2 295.9 M653.5 290.1 L655.3 294.4 M657.4 288.8 L658.6 293.2 M661.4 287.9 L662.2 292.4 M665.7 287.4 L666.0 292.0 M670.0 287.2 L670.0 291.8 M674.4 287.2 L674.2 291.8 M679.0 287.5 L678.4 292.1 M683.5 288.3 L682.5 292.7 M687.9 289.5 L686.5 293.8 M692.2 291.1 L690.4 295.3 M696.1 293.0 L693.9 297.0 M699.6 295.2 L697.0 299.0 M702.8 297.7 L699.8 301.2 M705.6 300.4 L702.4 303.6 M708.3 303.3 L704.8 306.3 M710.8 306.4 L707.0 309.1 M713.0 309.8 L709.0 312.2 M715.0 313.5 L710.9 315.5 M716.7 317.3 L712.5 319.1 M718.2 321.3 L713.8 322.7 M719.4 325.9 L714.9 326.9 M720.2 330.4 L715.7 331.3" stroke="#6a3c1c" stroke-width="1.2" fill="none"/>
<path d="M649.6 309.6 C650.0 307.0 652.0 304.0 654.0 302.0 C656.0 300.0 657.7 298.2 661.4 297.7 C665.1 297.1 671.8 297.6 676.0 298.7 C680.2 299.8 686.9 302.6 686.9 304.1 C686.9 305.6 679.5 306.3 676.0 307.8 C672.5 309.3 668.7 311.4 666.0 313.2 C663.3 315.0 661.3 316.9 659.6 318.7 C657.9 320.5 657.4 324.2 656.0 324.1 C654.6 324.0 652.5 320.2 651.4 317.8 C650.3 315.4 649.2 312.2 649.6 309.6 Z" fill="#f6d6b2" stroke="#5a3418" stroke-width="1"/>
<path d="M640.0 292.0 C641.8 290.7 646.8 286.1 650.5 284.1 C654.2 282.1 657.8 280.9 662.0 280.0 C666.2 279.1 671.5 279.2 676.0 279.0 C680.5 278.8 684.7 278.1 688.7 278.6 C692.7 279.1 698.1 281.4 700.0 282.0" fill="none" stroke="#4a2a10" stroke-width="1.3"/>
<path d="M658.0 330.7 C659.8 327.2 661.5 324.5 664.0 322.0 C666.5 319.5 669.0 316.8 673.0 315.5 C677.0 314.2 683.4 313.2 688.0 314.0 C692.6 314.8 697.1 317.2 700.4 320.0 C703.7 322.8 706.2 327.1 708.0 330.7 C709.8 334.2 711.5 338.9 711.0 341.3 C710.5 343.7 706.4 343.2 705.0 345.0 C703.6 346.8 702.6 347.8 702.5 352.0 C702.4 356.2 703.8 362.0 704.5 370.0 C705.2 378.0 706.0 390.0 706.5 400.0 C707.0 410.0 707.2 420.0 707.5 430.0 C707.8 440.0 707.9 445.0 708.0 460.0 C708.1 475.0 708.2 508.7 708.2 520.0 C708.2 531.3 708.3 526.4 708.2 528.0 C708.1 529.6 709.8 529.2 707.5 529.5 C705.2 529.8 696.8 529.8 694.5 529.5 C692.2 529.2 693.8 529.6 693.6 528.0 C693.5 526.4 693.6 523.8 693.6 520.0 C693.6 516.2 694.0 509.9 693.6 505.0 C693.2 500.1 692.8 496.2 691.2 490.4 C689.6 484.6 685.7 478.6 684.0 470.0 C682.3 461.4 682.2 444.8 681.0 439.0 C679.8 433.2 678.8 436.8 677.0 435.5 C675.2 434.2 671.9 433.1 670.0 431.0 C668.1 428.9 666.6 426.5 665.5 423.0 C664.4 419.5 663.8 414.5 663.5 410.0 C663.2 405.5 663.4 400.3 664.0 396.0 C664.6 391.7 665.7 387.0 667.0 384.0 C668.3 381.0 670.7 380.3 672.0 378.0 C673.3 375.7 675.0 372.5 675.0 370.0 C675.0 367.5 673.5 364.5 672.0 363.0 C670.5 361.5 668.2 360.7 666.0 361.0 C663.8 361.3 661.3 363.3 659.0 365.0 C656.7 366.7 654.0 369.2 652.0 371.0 C650.0 372.8 648.7 375.7 647.0 376.0 C645.3 376.3 642.5 374.8 642.0 373.0 C641.5 371.2 642.8 367.8 644.0 365.0 C645.2 362.2 647.4 359.7 649.0 356.0 C650.6 352.3 651.9 347.0 653.4 342.8 C654.9 338.6 656.2 334.2 658.0 330.7 Z" fill="#e8607c" stroke="#7a2030" stroke-width="1"/>
<circle cx="644.6" cy="384.6" r="7.8" fill="#e8607c" stroke="#7a2030" stroke-width="1"/>
<path d="M641 377 L646 366" stroke="#e8607c" stroke-width="4"/>
<ellipse cx="682.2" cy="328.4" rx="5.3" ry="3.9" fill="#8a94e4" stroke="#2a2a80" stroke-width="1"/>
<path d="M660.0 326.0 C661.0 324.8 663.5 321.0 666.0 319.0 C668.5 317.0 671.3 315.1 675.0 314.0 C678.7 312.9 683.8 312.0 688.0 312.5 C692.2 313.0 696.7 314.6 700.0 317.0 C703.3 319.4 706.0 323.3 708.0 327.0 C710.0 330.7 711.3 337.0 712.0 339.0" fill="none" stroke="#6a6a78" stroke-width="2.2"/>
<path d="M668.0 352.0 C668.7 351.3 670.0 348.5 672.0 348.0 C674.0 347.5 678.0 347.7 680.0 349.0 C682.0 350.3 683.8 353.7 684.0 356.0 C684.2 358.3 681.5 361.8 681.0 363.0" fill="none" stroke="#7a2030" stroke-width="1"/>
<path d="M662.0 336.0 C663.0 337.0 665.0 340.7 668.0 342.0 C671.0 343.3 676.0 344.0 680.0 344.0 C684.0 344.0 688.7 343.0 692.0 342.0 C695.3 341.0 698.7 338.7 700.0 338.0" fill="none" stroke="#7a2030" stroke-width="1"/>
<path d="M686.0 358.0 C687.2 352.3 690.0 355.7 692.0 356.0 C694.0 356.3 696.5 354.3 698.0 360.0 C699.5 365.7 700.5 378.3 701.0 390.0 C701.5 401.7 701.2 416.7 701.0 430.0 C700.8 443.3 700.7 459.2 700.0 470.0 C699.3 480.8 698.2 490.8 697.0 495.0 C695.8 499.2 694.2 499.2 693.0 495.0 C691.8 490.8 691.0 480.8 690.0 470.0 C689.0 459.2 687.8 443.3 687.0 430.0 C686.2 416.7 685.2 402.0 685.0 390.0 C684.8 378.0 684.8 363.7 686.0 358.0 Z" fill="#dc5272" opacity="0.55"/>
<path d="M695.9 480.0h1.3M697.9 468.9h1.3M696.6 401.0h0.9M689.6 440.5h1.4M689.9 424.0h1.4M699.0 369.2h1.3M696.7 378.1h1.2M693.9 480.5h1.0M688.9 484.0h1.3M689.9 371.9h0.8M692.4 475.6h1.3M696.2 392.6h1.2M692.9 371.2h1.3M695.2 387.0h0.9M698.9 408.0h1.5M692.3 492.7h1.2M695.6 467.1h1.1M692.0 474.6h1.5M687.7 421.8h1.3M695.5 377.6h0.7M693.4 491.4h1.3M694.9 375.7h1.0M697.4 391.6h0.7M687.2 422.5h1.4M688.3 478.6h1.1M696.1 421.3h1.3M699.1 404.3h0.8M697.4 376.4h0.8M693.0 383.1h1.0M699.0 380.1h1.1M690.5 464.1h1.4M698.7 387.9h1.2M695.7 489.1h1.2M698.0 429.9h1.1M698.8 371.3h1.3M695.4 450.1h0.9M697.5 420.5h1.5M689.6 482.6h1.2M691.7 432.8h0.8M692.6 376.5h1.1M691.1 394.2h1.1M693.9 460.9h0.8M691.7 477.6h1.5M689.4 490.5h1.2M691.9 488.5h1.1M686.4 400.4h0.9M690.0 374.7h1.2M699.3 434.0h1.2M699.3 406.9h1.2M698.1 431.3h1.2M694.5 406.6h0.9M690.4 488.8h1.5M686.1 366.7h1.1M693.1 385.8h0.8M694.7 471.0h1.2M697.9 483.1h1.2M688.0 454.3h0.7M699.6 415.6h1.0M686.1 434.7h1.0M693.9 479.8h1.4M688.8 359.8h0.8M689.0 470.4h1.4M698.3 394.1h1.1M699.5 401.7h1.0M688.7 452.2h1.4M689.1 490.5h1.3M688.1 394.5h1.0M697.5 447.3h1.5M694.2 492.1h1.2M696.2 379.8h1.1M698.6 406.5h0.9M688.2 377.1h0.8M697.2 437.5h0.8M694.0 425.9h1.1M693.6 413.7h0.7M691.9 365.8h0.9M690.4 460.2h1.4M687.3 390.6h1.1M690.7 410.3h1.3M695.4 388.0h1.4M693.0 419.1h1.4M688.5 439.5h0.8M690.6 369.1h0.8M692.2 445.6h0.9M699.1 427.1h0.9M690.3 378.9h1.0M695.1 480.8h1.0M686.6 380.4h0.8M694.5 472.4h0.8M688.6 442.4h1.1M687.4 403.3h1.3M693.1 454.8h0.8M692.3 448.4h1.2M698.6 370.3h0.7M691.6 388.1h0.9M695.6 369.9h1.5M689.7 403.2h1.2M691.6 388.0h1.3M688.2 416.1h0.8M699.9 431.3h1.4M693.0 371.5h1.1M695.4 384.2h1.1M690.9 467.2h1.4M692.7 468.0h0.8M687.8 423.3h1.2M693.8 452.2h1.5M696.0 364.1h1.3M690.5 373.2h0.7M696.1 436.7h1.0M691.7 451.9h1.3M699.7 395.4h1.1M687.3 358.5h1.3M694.4 474.7h0.8M695.2 475.7h0.8M695.4 409.4h0.7M691.0 363.7h1.4M691.2 492.5h1.4M696.7 464.1h1.2M694.4 488.9h1.5M688.8 434.4h1.1M690.7 423.2h1.0M694.2 426.9h0.9M693.0 395.5h1.1M695.3 414.5h0.8M689.9 429.8h1.3M695.8 453.0h1.1M699.0 391.6h1.1M690.1 408.6h1.0M696.2 453.7h1.1M690.1 456.7h1.1M690.3 406.3h1.0M695.3 459.9h0.9M697.0 389.6h1.2M694.4 449.3h1.3M686.9 394.8h1.0M699.5 362.4h1.1M697.7 448.5h1.3M690.7 389.0h0.8M695.4 465.4h1.1M689.8 407.9h1.1M697.0 454.1h1.4M692.4 475.1h1.0M699.6 400.4h0.8M689.9 379.3h1.4M691.3 473.1h1.4M692.3 478.2h0.9M691.7 462.3h0.8M692.4 479.9h1.0M689.6 438.4h0.7M691.3 410.7h0.7M696.7 408.2h1.0M694.2 449.7h0.9M695.4 360.8h1.2M688.8 397.7h1.4M690.3 480.8h1.2M690.5 435.6h0.7M695.0 401.9h1.2M687.7 426.9h0.9M691.8 400.0h1.0M689.2 479.8h1.5M698.0 390.5h0.9M691.3 437.3h0.7M696.1 465.5h0.9M692.8 462.8h1.5M691.3 365.3h0.9M695.8 442.4h1.4M691.4 432.0h1.3M689.6 372.1h1.3M699.9 417.5h0.8M689.0 420.4h0.7M687.3 370.6h1.0M693.1 416.4h0.9M693.2 452.8h1.5M693.1 380.8h1.1M698.1 408.2h0.9M691.6 476.5h1.0M693.6 441.0h0.9M699.4 369.4h1.0M695.2 373.4h1.1M690.6 402.2h1.4M691.8 403.7h1.5M691.6 406.7h0.8M694.6 447.4h1.1M689.3 412.8h1.3M697.6 419.7h1.0M688.3 457.0h0.9M694.8 487.7h1.2M692.6 425.1h0.9M695.0 381.4h1.3M695.0 392.9h0.8M689.7 440.8h1.1M693.7 400.4h0.8M694.6 423.3h0.8M695.5 399.7h1.1M695.8 441.3h1.2M692.2 388.0h1.4M696.5 434.5h1.0M699.6 418.5h1.4M689.1 446.1h1.2M699.1 362.5h1.5M690.7 456.3h1.4M697.6 381.9h1.1M698.5 360.1h1.1M694.9 470.1h1.1M690.0 474.4h1.4M686.4 403.7h1.0M687.0 366.9h1.2M688.2 374.3h0.9M698.9 395.6h1.4M697.9 475.5h1.1M690.8 465.4h1.4M695.3 467.4h0.9M699.0 370.4h1.1M696.6 440.7h0.8M692.6 452.4h1.3M688.8 419.6h1.5M696.4 396.0h1.4M695.7 391.5h1.0M689.0 388.3h1.5M693.1 407.7h1.1M696.5 361.6h1.3M691.6 476.3h0.9M696.3 404.9h1.2M693.3 412.8h0.8M692.7 482.0h1.1M690.0 464.2h1.3M697.4 405.7h0.8M694.9 395.3h1.1M694.1 408.9h0.9M686.0 417.0h1.3M697.6 392.3h1.1M694.8 439.2h0.8M690.9 462.9h1.4M694.8 464.2h1.4M695.4 417.0h1.5M687.4 383.5h1.0M688.1 426.8h0.9M691.9 475.0h0.8M694.1 382.7h0.9M693.5 422.1h1.1M697.7 426.0h0.7M690.0 483.5h0.7M693.7 461.6h1.1M696.9 387.4h0.9M690.3 456.1h1.2M691.7 445.5h1.1M695.0 366.8h1.3M693.7 378.7h1.3M697.7 371.6h1.4M689.5 364.8h0.8M687.2 392.1h1.1M690.2 391.8h1.1M697.0 408.2h1.3M689.1 373.4h0.7M687.5 402.5h1.3M698.0 463.3h0.9M696.6 363.0h1.0M691.9 483.7h0.9M699.3 367.8h1.1M692.1 417.5h1.3" stroke="#a02848" stroke-width="0.9" opacity="0.75"/>
<path d="M699.1 346.4 C699.9 344.9 701.8 342.6 706.0 344.1 C710.2 345.6 718.1 350.9 724.2 355.5 C730.3 360.1 736.7 366.1 742.4 371.4 C748.1 376.7 753.8 382.5 758.3 387.4 C762.8 392.3 766.5 396.4 769.7 401.0 C772.9 405.6 776.1 409.4 777.7 414.7 C779.3 420.0 780.1 428.6 779.5 433.0 C778.9 437.4 776.4 438.3 774.0 441.0 C771.6 443.7 769.7 445.4 765.2 449.0 C760.7 452.6 753.1 458.8 747.0 462.6 C740.9 466.4 734.8 469.4 728.7 471.7 C722.6 474.0 713.9 480.1 710.5 476.5 C707.1 472.9 709.0 460.2 708.5 450.0 C708.0 439.8 707.9 426.5 707.5 415.0 C707.1 403.5 707.0 391.3 706.0 381.0 C705.0 370.7 702.5 359.0 701.4 353.2 C700.2 347.4 698.3 347.9 699.1 346.4 Z" fill="#5662c8" stroke="#1a2060" stroke-width="1"/>
<path d="M708.0 344.5 C710.7 346.1 718.5 349.8 724.2 354.0 C729.9 358.2 736.7 364.7 742.4 370.0 C748.1 375.3 753.8 381.1 758.3 386.0 C762.8 390.9 766.4 395.0 769.7 399.6 C773.0 404.2 776.3 410.1 778.0 413.5 C779.7 416.9 779.7 418.9 780.0 420.0" fill="none" stroke="#e6e4e8" stroke-width="2.2"/>
<path d="M710.0 342.5 C712.7 344.1 720.3 347.8 726.0 352.0 C731.7 356.2 738.3 362.7 744.0 368.0 C749.7 373.3 755.3 379.0 760.0 384.0 C764.7 389.0 768.5 393.3 772.0 398.0 C775.5 402.7 779.0 408.3 781.0 412.0 C783.0 415.7 783.5 418.7 784.0 420.0" fill="none" stroke="#3a2a2a" stroke-width="0.9"/>
<path d="M712.0 378.0 C713.2 374.8 715.3 371.0 718.0 369.0 C720.7 367.0 724.7 366.2 728.0 366.0 C731.3 365.8 734.8 366.3 738.0 368.0 C741.2 369.7 744.3 372.7 747.0 376.0 C749.7 379.3 751.0 384.0 754.0 388.0 C757.0 392.0 761.8 396.1 765.2 400.0 C768.6 403.9 772.3 407.4 774.3 411.4 C776.3 415.4 777.0 419.7 777.0 424.0 C777.0 428.3 775.8 433.0 774.0 437.0 C772.2 441.0 769.7 444.5 766.0 448.0 C762.3 451.5 756.7 455.0 752.0 458.0 C747.3 461.0 742.7 464.0 738.0 466.0 C733.3 468.0 728.2 469.3 724.0 470.0 C719.8 470.7 715.4 472.5 713.0 470.0 C710.6 467.5 710.1 461.3 709.5 455.0 C708.9 448.7 708.9 438.2 709.4 432.0 C709.9 425.8 711.2 421.7 712.5 418.0 C713.8 414.3 716.9 413.0 717.0 410.0 C717.1 407.0 714.0 403.7 713.0 400.0 C712.0 396.3 711.2 391.7 711.0 388.0 C710.8 384.3 710.8 381.2 712.0 378.0 Z" fill="#2c3888" stroke="#141a50" stroke-width="1"/>
<clipPath id="cbclip"><path d="M712.0 378.0 C713.2 374.8 715.3 371.0 718.0 369.0 C720.7 367.0 724.7 366.2 728.0 366.0 C731.3 365.8 734.8 366.3 738.0 368.0 C741.2 369.7 744.3 372.7 747.0 376.0 C749.7 379.3 751.0 384.0 754.0 388.0 C757.0 392.0 761.8 396.1 765.2 400.0 C768.6 403.9 772.3 407.4 774.3 411.4 C776.3 415.4 777.0 419.7 777.0 424.0 C777.0 428.3 775.8 433.0 774.0 437.0 C772.2 441.0 769.7 444.5 766.0 448.0 C762.3 451.5 756.7 455.0 752.0 458.0 C747.3 461.0 742.7 464.0 738.0 466.0 C733.3 468.0 728.2 469.3 724.0 470.0 C719.8 470.7 715.4 472.5 713.0 470.0 C710.6 467.5 710.1 461.3 709.5 455.0 C708.9 448.7 708.9 438.2 709.4 432.0 C709.9 425.8 711.2 421.7 712.5 418.0 C713.8 414.3 716.9 413.0 717.0 410.0 C717.1 407.0 714.0 403.7 713.0 400.0 C712.0 396.3 711.2 391.7 711.0 388.0 C710.8 384.3 710.8 381.2 712.0 378.0 Z"/></clipPath>
<g clip-path="url(#cbclip)"><path d="M774.5 375.8l1.6 2.3M709.4 404.5l2.1 0.9M709.1 380.3l1.1 0.9M714.5 385.0l-0.1 1.5M767.1 409.0l1.2 1.2M768.5 369.1l-1.0 1.0M776.0 408.1l-0.9 3.0M715.2 370.9l-1.4 2.0M759.9 394.0l0.0 1.6M739.5 394.4l-0.5 1.8M727.8 433.4l2.9 0.8M743.7 388.7l2.2 0.8M744.3 441.7l0.8 1.9M772.3 393.6l-3.2 0.2M779.3 465.9l2.1 2.2M752.1 386.0l-2.6 0.0M766.3 424.3l3.0 0.8M720.6 392.0l-0.6 1.5M741.3 441.1l2.5 0.8M715.5 415.4l-1.2 2.4M711.1 384.6l-2.0 0.3M738.6 404.5l-1.6 2.3M754.8 407.5l-0.5 2.3M721.5 466.5l-2.9 0.3M779.5 414.3l-1.5 0.8M761.5 441.2l-3.0 0.6M771.3 392.9l-1.8 1.4M730.5 403.8l-2.5 1.8M768.8 436.3l1.3 0.8M748.9 386.9l0.7 1.2M719.1 441.4l2.3 2.0M731.7 455.7l1.0 1.5M736.4 365.3l0.4 2.0M708.9 457.0l0.5 1.1M777.1 388.7l0.9 0.9M715.2 440.7l-0.6 2.2M725.7 395.0l-2.0 0.2M779.2 459.8l2.8 1.2M709.5 440.8l-2.3 1.5M747.6 451.8l2.1 1.1M727.1 407.1l2.3 1.6M749.3 448.2l-1.0 2.3M774.4 451.7l-0.4 1.9M774.8 404.1l1.8 0.6M758.9 464.6l-1.2 2.4M775.5 448.0l0.4 2.2M762.7 398.3l2.4 0.9M766.2 390.8l-1.7 2.7M717.2 378.7l0.0 1.9M776.4 471.6l0.5 2.9M753.5 382.7l-1.6 0.1M713.5 412.9l2.3 0.1M737.7 467.1l0.8 3.0M764.1 427.3l1.4 1.3M743.4 406.7l-1.0 2.1M731.3 429.5l-1.6 0.0M732.2 365.3l1.3 0.4M738.4 454.3l-1.9 2.7M768.3 427.3l-0.3 1.2M735.6 392.3l-0.5 1.2M747.0 404.6l0.1 2.1M715.4 443.0l-2.0 1.5M716.3 428.7l-3.1 1.3M762.6 368.9l-2.5 1.0M727.9 463.4l-2.7 1.6M725.8 426.3l0.7 1.7M762.8 430.6l1.2 2.1M774.8 425.2l-2.4 0.7M779.4 367.1l0.3 2.4M760.3 468.6l-0.9 2.1M753.7 421.6l-2.0 2.6M709.0 398.6l-1.2 0.5M764.9 367.3l-1.3 2.6M725.1 405.2l2.1 1.8M746.1 429.4l1.3 2.1M776.7 448.2l-1.7 0.3M745.2 405.7l1.4 2.6M720.6 424.3l-2.5 2.1M709.3 393.2l0.1 3.3M719.7 454.8l0.8 2.3M774.8 370.9l0.8 1.3M717.6 396.8l-1.5 2.0M716.8 450.6l-0.0 1.5M767.1 452.6l2.5 2.1M766.3 388.7l3.1 0.0M767.5 374.5l-2.2 1.9M753.6 453.9l-1.9 0.1M768.0 463.5l1.5 2.3M757.3 455.7l-0.4 1.8M726.1 422.6l2.8 1.3M772.0 390.2l-1.6 2.2M716.8 448.1l-1.4 1.3M715.1 394.4l-1.7 1.5M766.7 381.2l1.9 0.6M771.4 381.5l2.8 0.7M714.6 436.1l1.7 0.5M755.8 458.3l0.6 2.1M710.2 400.8l2.1 2.0M759.4 448.7l-0.3 2.7M717.2 405.6l1.1 1.4M761.2 387.1l0.9 1.6M770.2 433.0l0.1 2.0M774.4 465.5l0.4 2.4M770.1 391.7l1.0 1.0M744.1 447.0l1.9 1.0M779.3 416.0l1.1 2.8M772.2 404.6l2.4 1.0M761.3 463.7l-0.9 1.6M745.1 395.1l0.4 2.2M773.7 461.8l-2.2 0.5M777.4 379.0l-2.5 0.6M770.8 408.6l-1.3 0.0M769.0 452.5l1.2 2.8M723.4 445.3l0.2 2.1M722.2 450.4l-0.9 1.0M778.4 387.9l0.8 2.0M749.5 460.1l-2.6 0.4M734.3 375.6l2.3 0.5M750.0 412.3l-2.1 0.1M733.3 409.2l2.8 1.7M750.6 422.6l0.4 1.7M730.7 417.3l0.6 3.3M748.5 386.4l1.5 0.3M732.9 448.5l-1.6 0.6M764.2 411.7l-0.3 2.4M711.1 371.1l-1.4 2.3M735.4 463.3l-1.6 1.0M712.8 423.8l-0.8 1.5M711.2 416.6l2.8 0.3M753.0 394.2l0.3 1.7M721.4 383.6l-1.8 1.2M759.5 401.5l-2.1 1.4M755.1 406.4l-0.3 1.6M778.1 436.6l-0.3 2.6M715.2 400.1l2.3 2.0M708.9 412.0l-2.7 1.2M759.8 396.6l2.0 1.8M729.5 442.1l1.3 2.6M749.3 452.1l-2.0 0.1M779.0 365.1l-1.2 0.5M747.3 405.9l-1.4 1.3M723.0 448.7l-0.5 2.8M743.2 368.0l-1.3 1.1M742.0 364.1l1.8 1.9M763.0 432.7l0.5 2.8M756.2 386.2l-0.3 2.5M760.5 385.4l1.1 1.6M714.9 401.6l-1.6 1.9M720.5 443.0l2.7 1.0M718.6 374.4l1.6 1.7M727.4 459.5l-1.8 0.4M762.0 439.1l-0.3 1.7M776.4 467.3l1.9 0.1M731.1 385.4l0.7 3.1M709.7 454.3l0.7 1.0M772.8 393.4l1.1 0.9M734.4 376.9l1.5 0.9M749.6 412.2l1.4 1.9M763.7 442.2l1.5 2.8M765.0 424.7l0.1 1.9M717.7 459.6l-0.5 1.3M774.6 459.8l2.7 0.3M725.2 421.8l-1.7 1.0M743.9 435.9l2.1 1.5M738.6 470.1l2.3 1.5M711.0 393.6l1.4 0.6M746.0 382.8l-1.1 0.8M752.9 457.0l1.5 0.6M763.1 414.8l-1.9 0.4M736.7 467.4l1.6 2.9M772.2 385.6l-0.5 3.2M716.5 455.7l-2.2 1.9M751.3 374.8l-1.4 0.2M764.4 442.1l1.5 2.3M737.6 445.1l3.2 0.4M735.7 450.7l0.3 3.0M729.7 422.9l2.3 0.2M713.7 456.8l-1.1 1.8M778.1 466.2l-1.4 0.2M758.7 442.6l-0.4 1.2M774.5 411.4l-0.9 2.9M727.8 367.2l-1.7 0.4M711.0 378.8l-2.8 0.0M723.1 379.8l-2.5 0.8M750.0 378.2l0.9 3.2M708.2 409.3l3.3 0.6M715.5 467.0l-2.5 1.3M711.0 439.1l0.1 2.3M718.5 419.3l-1.2 0.9M771.1 409.4l1.2 1.3M741.1 433.9l-0.7 3.1M744.8 419.4l-1.7 0.1M709.2 399.5l0.8 1.2M738.1 367.7l-2.2 0.6M771.3 439.3l-1.9 2.2M729.7 442.7l1.9 1.5M750.9 447.8l1.7 1.0M767.3 450.9l-1.5 0.1M723.1 375.5l-1.8 2.2M754.7 448.2l-0.1 2.4M774.3 434.0l-1.2 2.2M743.6 445.7l-0.3 1.4M738.7 409.5l0.5 2.4M734.0 406.2l0.5 2.0M778.0 373.8l2.8 0.1M736.5 412.5l-0.6 1.9M725.2 365.7l-3.0 1.3M728.6 414.2l0.7 1.1M772.3 454.3l1.3 1.2M758.3 450.0l0.2 2.0M724.8 450.2l-2.8 1.3M716.2 428.1l-2.8 0.1M741.1 379.7l2.8 0.5M712.9 451.4l-1.1 1.9M772.2 464.7l-0.5 1.3M750.4 409.5l2.3 2.3M760.6 377.1l1.5 1.3M749.3 399.1l0.6 2.9M721.1 441.8l1.7 2.8M776.5 399.4l-0.5 1.4M737.6 431.3l-0.8 1.8M710.4 377.4l-0.3 1.5M730.0 430.8l-2.2 0.7M726.3 427.3l1.9 2.2M719.2 392.3l0.6 3.1M719.9 384.8l1.5 0.7M731.9 406.7l-1.5 1.4M742.2 406.8l-2.4 2.1M738.6 463.5l2.4 2.4M745.8 437.7l0.7 1.7M717.7 459.6l1.2 2.5M741.2 420.9l1.3 1.0M732.2 437.6l-0.2 1.2M759.2 410.8l1.7 0.4M723.2 452.9l-0.3 1.9M725.9 395.4l1.3 1.5M764.9 449.2l-1.8 2.6M755.1 376.3l1.5 0.2M726.6 421.1l-2.1 1.3M738.9 390.2l-2.9 0.2M732.6 369.0l-1.8 0.1M769.0 376.7l-0.9 1.8M772.0 396.1l1.6 0.5M766.0 469.7l-1.2 2.4M728.3 393.4l3.2 0.9M711.1 430.1l0.7 1.4M739.4 464.5l1.1 1.1M753.3 435.0l-0.1 1.6M770.9 376.0l1.5 0.9M745.0 415.4l-0.5 2.8M772.4 414.6l3.0 0.4M709.3 398.3l2.3 1.1M764.3 377.9l1.8 2.5M757.6 375.7l-1.6 2.5M737.4 380.8l-0.9 1.7M717.6 381.8l0.4 1.4M735.7 423.6l-0.3 2.1M765.6 373.5l1.7 2.8M770.2 463.4l-1.8 1.6M764.7 425.8l1.6 0.6M715.0 458.5l1.1 1.8M746.8 374.9l-1.8 2.4M765.3 459.2l0.8 1.3M762.8 438.9l0.8 1.8M719.1 453.8l0.4 3.0M732.5 398.7l-0.1 2.8M771.6 402.2l-1.2 1.7M770.0 446.1l-0.3 2.0M727.7 459.6l-1.5 1.1M714.1 385.1l-1.3 0.1M766.3 421.1l-0.4 2.4M737.5 424.2l3.1 0.9M715.4 379.0l-1.3 2.2M766.1 438.8l-1.3 0.3M708.8 389.6l-1.2 1.0M746.3 447.2l2.1 1.1M772.9 444.7l0.7 2.1M728.0 467.7l-2.1 1.7M729.9 443.0l0.1 3.0M734.2 459.2l-1.2 1.8M748.5 450.9l-0.3 3.3M708.5 460.9l-1.4 1.8M769.2 380.1l1.4 2.4M767.3 404.3l-2.6 0.0M711.3 377.3l2.4 0.6M731.2 392.2l0.2 1.4M773.4 454.5l-0.4 2.1M730.2 429.1l1.5 3.0M776.8 442.5l-1.2 0.7M716.9 401.3l2.0 0.8M779.0 454.1l-1.7 0.2M724.0 366.5l0.9 1.0M746.0 396.5l-1.3 2.1M751.0 396.4l-1.8 2.0M759.4 414.9l0.2 1.8M710.9 414.3l-0.6 1.5M769.9 458.9l-2.7 1.3M743.2 383.0l1.9 2.1M778.9 376.0l2.0 0.0M733.1 428.5l2.9 1.1M732.3 462.1l1.0 1.6M720.7 468.3l-0.8 2.9M712.5 422.6l-2.2 2.5M775.4 375.2l1.3 3.1M746.5 467.4l0.9 0.9M776.1 392.5l-0.4 2.0M749.6 464.9l-3.1 0.5M726.5 452.7l2.1 0.1M776.0 391.5l1.0 2.3M725.0 440.5l-0.6 1.3M774.2 371.7l-1.1 1.6M718.3 372.4l-3.0 0.0M741.0 449.8l-3.2 0.3M746.3 393.7l-0.2 3.4M760.6 436.3l-1.8 1.0M748.2 455.7l2.5 1.8M709.8 422.0l-0.4 1.5M774.4 411.5l1.8 1.2M750.6 410.3l1.4 0.0M759.4 378.2l2.1 2.1M770.0 459.2l1.0 0.6M762.3 428.7l0.5 1.1M739.1 389.6l-0.9 3.2M723.1 372.1l-0.8 1.2M724.1 411.4l-1.9 0.1M730.7 415.3l1.8 1.0M758.4 399.0l-1.3 1.0M715.3 431.7l0.5 3.2M715.6 444.6l-1.0 1.7M717.2 430.1l-1.6 1.5M742.0 438.1l-0.7 2.0M721.4 414.1l-0.5 3.1M779.6 424.1l0.9 1.5M753.4 443.8l1.9 1.9M779.9 406.3l-2.1 0.4M755.0 457.6l1.6 1.2M778.9 371.0l1.3 1.8M761.6 432.1l-2.6 0.6M708.1 371.7l2.1 0.2M709.9 420.8l-0.7 1.5M769.6 408.7l-2.0 0.2M752.6 422.5l2.0 2.1M708.3 391.0l1.7 2.7M744.0 367.9l1.5 2.1M766.2 375.8l-1.6 1.3M745.7 409.5l0.6 3.3M774.2 463.1l-1.8 2.0M718.2 367.8l-2.3 1.4M753.4 397.8l2.2 2.4M746.3 366.1l0.9 1.7M712.9 469.6l-2.9 0.9M708.3 409.1l2.6 1.0M766.3 449.3l-1.2 0.9M709.0 374.0l-2.7 1.4M745.2 389.3l-1.3 0.6M731.4 364.2l-2.1 0.1M763.5 450.6l-0.8 3.3M763.8 464.1l-1.4 0.2M762.0 388.4l1.0 1.7M779.2 370.5l0.3 1.5M779.8 417.6l-1.4 1.9M763.2 400.3l0.8 2.7M758.6 459.9l1.7 2.5M761.1 425.9l0.7 2.3M713.5 374.5l0.8 1.2M711.5 441.4l-1.7 1.9M722.8 442.0l-2.2 1.3M724.4 425.0l0.6 1.7M718.7 457.4l-1.3 3.0M720.4 392.5l-0.0 1.3M729.8 422.3l0.2 3.2M749.6 432.9l-0.8 2.8M734.4 364.1l-2.9 0.2M717.1 376.1l2.0 1.7M717.4 366.2l0.0 1.2M726.6 405.3l1.0 0.7M726.7 390.3l1.1 1.8M733.9 399.0l3.0 0.2M761.2 417.2l1.7 0.0M772.8 413.4l2.4 1.8M772.2 377.2l-0.0 2.4M716.4 398.5l-1.0 2.5M753.2 431.0l0.5 1.3M709.2 454.5l-2.9 1.3M713.5 447.1l1.7 1.0M722.4 456.9l-2.6 1.6M735.5 465.1l1.7 1.8M756.5 389.2l0.5 1.3M765.4 383.9l1.6 0.8M754.1 432.8l-0.2 3.1M762.2 386.7l-0.2 1.6M725.4 379.9l1.9 0.5M771.8 434.9l1.6 0.5M750.6 421.2l1.4 0.1M748.7 428.9l2.8 0.7M725.3 427.6l-0.2 1.9M776.1 406.7l0.6 2.3M768.5 470.7l-1.8 1.6M759.6 432.9l-3.3 0.4M762.7 387.4l-0.5 2.1M724.6 448.4l2.1 1.8M743.2 410.1l-1.7 2.2M779.3 471.9l-1.4 1.0M756.2 417.5l-2.1 0.4M733.7 366.8l0.2 2.4M730.2 375.4l0.1 1.4M720.4 411.9l1.1 2.0M746.2 406.0l1.1 0.5M748.3 468.8l1.3 1.5M731.0 444.2l0.1 3.0M708.4 378.3l1.6 1.2M736.8 405.6l-2.2 0.2M749.4 468.1l-1.1 2.3M767.6 400.1l3.3 0.4M746.5 426.9l2.8 0.6M734.9 433.4l2.0 2.5M734.6 393.8l-1.6 0.6M727.5 416.6l-1.5 0.1M723.1 449.9l2.1 0.5M764.4 441.0l-1.2 0.9" stroke="#5c6abe" stroke-width="1.1" fill="none" opacity="0.8"/>
<path d="M735.9 422.6 C735.0 422.2 732.4 420.9 730.5 420.3 C728.7 419.8 726.8 419.3 724.9 419.2 C722.9 419.2 720.8 420.0 718.8 420.1 C716.9 420.2 714.1 419.7 713.1 419.6 M724.7 420.0 l-3.8 -3.3 M719.1 418.7 l-4.8 1.4 M734.6 420.7 C733.7 420.3 731.1 418.9 729.1 418.4 C727.2 418.0 725.0 418.2 723.0 418.0 C721.0 417.8 718.9 418.1 717.1 417.3 C715.2 416.6 712.8 414.1 711.9 413.4 M723.2 417.2 l-3.4 -3.6 M717.6 415.2 l-4.9 0.9 M736.5 420.1 C735.5 419.7 732.6 418.2 730.5 417.4 C728.5 416.6 726.2 416.4 724.3 415.4 C722.4 414.4 720.6 413.0 719.0 411.3 C717.4 409.7 715.5 406.3 714.7 405.3 M725.0 413.9 l-2.7 -4.2 M719.4 410.6 l-5.0 0.0 M737.8 420.5 C736.8 419.9 733.7 418.2 731.7 416.8 C729.7 415.5 727.7 414.2 726.0 412.3 C724.4 410.5 723.3 407.9 721.7 405.9 C720.2 403.8 717.8 401.1 717.0 400.2 M726.6 411.5 l-2.1 -4.5 M721.0 406.9 l-5.0 -0.7 M738.7 420.6 C737.9 419.7 735.3 417.5 733.8 415.6 C732.4 413.7 731.3 411.5 730.2 409.4 C729.0 407.3 728.3 404.8 726.8 403.0 C725.3 401.2 722.1 399.3 721.2 398.6 M729.8 409.7 l-1.2 -4.8 M725.3 404.4 l-4.7 -1.6 M736.8 416.9 C736.5 416.1 735.3 413.8 734.7 412.1 C734.1 410.5 733.9 408.5 733.1 407.0 C732.4 405.5 731.3 404.1 730.0 402.9 C728.7 401.8 726.1 400.6 725.3 400.1 M732.0 407.8 l-0.5 -5.0 M729.3 403.5 l-4.4 -2.3 M738.8 417.4 C738.4 416.1 737.4 412.2 736.5 409.7 C735.6 407.2 734.8 404.6 733.4 402.4 C732.0 400.2 729.7 398.4 728.0 396.4 C726.3 394.3 724.0 391.2 723.2 390.2 M732.3 403.0 l0.2 -5.0 M729.0 395.8 l-4.1 -2.8 M740.7 419.0 C740.4 417.9 739.9 414.4 739.1 412.2 C738.3 410.0 737.2 407.9 736.0 405.9 C734.9 403.8 733.2 402.1 732.4 399.9 C731.6 397.7 731.4 394.0 731.2 392.8 M736.3 405.8 l0.8 -4.9 M734.2 399.1 l-3.7 -3.4 M741.4 416.1 C741.2 415.1 740.7 412.1 740.1 410.1 C739.5 408.2 738.3 406.4 737.8 404.4 C737.3 402.5 737.0 400.5 737.1 398.4 C737.3 396.3 738.5 393.0 738.8 391.9 M739.2 404.1 l1.7 -4.7 M738.3 398.1 l-3.0 -4.0 M742.2 416.4 C742.0 415.1 741.3 411.4 741.0 409.0 C740.7 406.5 740.2 404.0 740.4 401.5 C740.7 399.0 741.8 396.5 742.4 394.0 C743.1 391.5 744.1 387.9 744.4 386.6 M741.8 401.5 l2.4 -4.4 M741.7 394.0 l-2.4 -4.4 M742.2 417.4 C742.2 416.2 741.8 412.9 742.0 410.6 C742.3 408.4 742.9 406.1 743.5 403.9 C744.2 401.7 745.5 399.7 745.9 397.4 C746.2 395.2 745.7 391.7 745.6 390.6 M743.5 403.9 l2.7 -4.2 M744.0 397.2 l-2.0 -4.6 M743.2 418.0 C743.5 417.0 744.2 413.9 745.0 412.0 C745.8 410.1 747.2 408.4 748.0 406.4 C748.8 404.5 749.6 402.6 749.8 400.4 C750.0 398.3 749.3 394.8 749.2 393.6 M746.9 406.0 l3.6 -3.5 M748.5 400.0 l-1.0 -4.9 M744.1 418.6 C744.8 417.4 746.9 413.9 748.2 411.6 C749.6 409.2 751.3 407.1 752.2 404.5 C753.1 402.0 753.4 398.9 753.8 396.1 C754.3 393.3 754.7 389.1 754.9 387.6 M750.9 403.8 l4.1 -2.9 M754.2 396.3 l-0.3 -5.0 M745.7 418.1 C746.4 417.1 749.0 414.2 750.3 411.9 C751.6 409.6 752.6 407.1 753.5 404.6 C754.3 402.0 754.4 399.0 755.4 396.5 C756.5 394.1 759.0 391.0 759.7 389.9 M753.3 404.5 l4.4 -2.4 M757.3 397.7 l0.3 -5.0 M747.1 418.3 C747.6 417.6 749.4 415.5 750.3 413.8 C751.2 412.2 751.6 410.1 752.5 408.5 C753.4 406.8 754.2 405.1 755.5 403.9 C756.9 402.6 759.8 401.5 760.6 401.1 M753.4 409.2 l4.7 -1.8 M756.7 404.9 l1.0 -4.9 M745.6 421.4 C746.5 420.5 749.4 417.7 751.3 415.7 C753.2 413.8 754.7 411.5 756.8 410.0 C758.9 408.4 761.5 407.4 764.0 406.3 C766.4 405.3 770.3 404.2 771.6 403.7 M757.8 411.2 l5.0 -0.7 M763.9 406.2 l2.1 -4.5 M746.2 421.1 C747.1 420.4 749.5 417.9 751.4 416.6 C753.3 415.3 755.3 414.2 757.4 413.4 C759.5 412.6 762.0 412.5 764.1 411.6 C766.2 410.7 768.9 408.6 769.8 408.0 M757.6 413.7 l5.0 -0.2 M763.3 410.0 l2.5 -4.3 M747.3 421.2 C748.2 420.8 750.8 419.4 752.6 418.8 C754.4 418.3 756.5 418.4 758.4 418.0 C760.3 417.6 762.2 417.5 763.9 416.5 C765.5 415.5 767.7 412.8 768.4 412.0 M758.1 417.1 l5.0 0.6 M763.3 414.8 l3.2 -3.8 M747.2 422.3 C748.6 422.2 752.6 421.5 755.2 421.3 C757.9 421.0 760.6 421.4 763.2 420.7 C765.8 420.0 768.4 418.6 770.8 417.2 C773.2 415.7 776.7 412.9 777.8 412.0 M762.9 418.8 l4.8 1.4 M770.7 416.9 l3.8 -3.3 M748.0 423.5 C749.0 423.6 752.0 424.0 753.9 424.0 C755.9 423.9 757.9 423.6 759.8 423.0 C761.8 422.4 763.6 420.8 765.5 420.2 C767.4 419.6 770.4 419.4 771.4 419.2 M759.8 422.4 l4.6 2.0 M765.7 421.8 l4.2 -2.8 M747.4 425.2 C748.6 425.4 752.1 426.4 754.5 426.5 C756.9 426.6 759.3 425.9 761.8 425.8 C764.2 425.6 766.6 425.0 768.9 425.6 C771.3 426.1 774.6 428.4 775.8 429.0 M761.7 426.8 l4.0 2.9 M768.7 427.8 l4.7 -1.8 M747.5 426.1 C748.7 426.3 752.4 427.1 754.8 427.5 C757.3 427.8 759.8 427.5 762.2 428.2 C764.6 428.9 766.9 430.1 769.0 431.5 C771.2 432.9 774.2 435.9 775.2 436.8 M761.8 429.9 l3.6 3.5 M768.9 432.1 l4.9 -1.2 M746.4 425.8 C747.3 426.1 750.2 426.6 752.0 427.2 C753.8 427.9 755.7 428.5 757.4 429.6 C759.0 430.7 760.4 432.6 762.1 433.8 C763.7 435.0 766.3 436.3 767.2 436.8 M757.1 430.3 l3.2 3.8 M762.5 432.6 l5.0 -0.7 M749.0 427.9 C749.8 428.3 752.4 429.4 753.8 430.6 C755.2 431.8 756.4 433.6 757.7 435.0 C759.0 436.4 760.1 438.2 761.7 439.1 C763.3 440.1 766.3 440.3 767.3 440.6 M758.1 434.4 l2.6 4.3 M762.7 437.4 l5.0 0.2 M748.1 428.7 C748.7 429.4 750.8 431.6 752.0 433.2 C753.3 434.8 754.2 436.9 755.6 438.3 C757.0 439.6 758.7 440.7 760.5 441.6 C762.3 442.4 765.5 443.0 766.6 443.3 M756.6 437.0 l1.9 4.6 M761.0 441.0 l4.9 0.9 M746.5 429.0 C747.1 430.0 748.8 433.0 750.1 434.8 C751.4 436.6 752.7 438.4 754.5 439.8 C756.2 441.2 758.5 442.0 760.4 443.2 C762.2 444.5 764.7 446.6 765.6 447.3 M755.2 439.1 l1.3 4.8 M759.5 444.1 l4.8 1.5 M745.6 431.8 C746.0 432.7 747.0 435.5 748.0 437.1 C749.1 438.8 750.7 440.1 752.0 441.6 C753.3 443.0 755.0 444.1 756.0 445.8 C756.9 447.6 757.3 450.9 757.5 451.9 M751.6 441.8 l0.2 5.0 M754.3 447.0 l4.3 2.6 M744.0 430.1 C744.4 431.0 745.6 433.7 746.6 435.4 C747.6 437.1 749.1 438.5 750.0 440.2 C750.8 441.9 751.5 443.8 751.8 445.9 C752.1 447.9 751.7 451.3 751.7 452.3 M748.8 440.8 l-0.4 5.0 M751.0 446.3 l4.0 3.0 M744.0 432.5 C744.5 433.5 745.9 436.2 746.6 438.1 C747.3 440.0 748.1 441.9 748.3 443.9 C748.5 446.0 747.9 448.3 747.9 450.5 C747.8 452.6 748.0 455.7 748.0 456.7 M747.2 444.3 l-1.1 4.9 M748.8 450.2 l3.5 3.6 M743.2 431.8 C743.3 432.7 744.1 435.4 744.2 437.3 C744.3 439.2 743.9 441.2 743.7 443.2 C743.4 445.1 742.6 447.0 742.7 448.9 C742.8 450.8 744.0 453.6 744.3 454.5 M743.9 443.1 l-1.9 4.6 M744.5 448.8 l2.9 4.1" stroke="#6a78d4" stroke-width="0.9" fill="none" opacity="0.9"/>
<path d="M739.9 435.8 A 12.0 12.0 0 0 1 730.0 423.0 M739.3 439.2 A 15.4 15.4 0 0 1 726.7 422.7 M738.7 442.5 A 18.8 18.8 0 0 1 723.3 422.4 M738.1 445.9 A 22.2 22.2 0 0 1 719.9 422.1 M737.6 449.2 A 25.6 25.6 0 0 1 716.5 421.8 M737.0 452.6 A 29.0 29.0 0 0 1 713.1 421.5 M736.4 455.9 A 32.4 32.4 0 0 1 709.7 421.2 M735.8 459.3 A 35.8 35.8 0 0 1 706.3 420.9 M735.2 462.6 A 39.2 39.2 0 0 1 702.9 420.6" stroke="#6674cc" stroke-width="0.9" fill="none"/></g>
<path d="M548.0 362.0 C553.3 359.3 569.7 360.0 580.0 360.0 C590.3 360.0 601.0 360.7 610.0 362.0 C619.0 363.3 629.0 365.0 634.0 368.0 C639.0 371.0 640.7 378.3 640.0 380.0 C639.3 381.7 636.7 379.3 630.0 378.0 C623.3 376.7 610.0 373.0 600.0 372.0 C590.0 371.0 578.7 371.3 570.0 372.0 C561.3 372.7 551.7 377.7 548.0 376.0 C544.3 374.3 542.7 364.7 548.0 362.0 Z" fill="#fdfdfc" stroke="none"/>
<path d="M606.0 366.0 C604.5 368.0 615.4 375.2 617.0 380.0 C618.6 384.8 614.5 389.1 615.5 394.6 C616.5 400.1 619.7 408.8 622.8 413.0 C625.9 417.2 630.4 418.2 634.0 420.0 C637.6 421.8 641.6 420.8 644.6 423.8 C647.6 426.8 649.9 435.1 652.0 438.0 C654.1 440.9 656.2 444.6 657.4 441.0 C658.6 437.4 658.4 424.2 659.0 416.5 C659.6 408.8 661.3 401.3 661.0 394.6 C660.7 387.9 658.9 379.7 657.4 376.4 C655.9 373.1 653.2 372.7 652.0 374.6 C650.8 376.5 651.3 384.9 650.0 388.0 C648.7 391.1 646.3 393.0 644.0 393.0 C641.7 393.0 637.7 390.5 636.0 388.0 C634.3 385.5 635.7 381.3 634.0 378.0 C632.3 374.7 630.7 370.0 626.0 368.0 C621.3 366.0 607.5 364.0 606.0 366.0 Z" fill="#fbfbf9" stroke="#3a3a3a" stroke-width="1"/>
<path d="M623.0 392.0 C624.0 389.6 628.8 391.5 632.0 392.5 C635.2 393.5 639.4 395.8 642.0 398.0 C644.6 400.2 647.0 403.6 647.5 406.0 C648.0 408.4 647.2 411.3 645.0 412.5 C642.8 413.7 637.2 413.9 634.0 413.0 C630.8 412.1 627.8 410.5 626.0 407.0 C624.2 403.5 622.0 394.4 623.0 392.0 Z" fill="#8a8a8a" stroke="#1a1a1a" stroke-width="1"/>
<path d="M623.0 392.0 C624.2 391.1 628.8 391.5 632.0 392.5 C635.2 393.5 639.4 395.8 642.0 398.0 C644.6 400.2 647.0 404.3 647.5 406.0 C648.0 407.7 646.6 408.7 645.0 408.0 C643.4 407.3 640.5 403.7 638.0 402.0 C635.5 400.3 632.2 398.7 630.0 398.0 C627.8 397.3 626.2 399.0 625.0 398.0 C623.8 397.0 621.8 392.9 623.0 392.0 Z" fill="#1a1a1a"/>
<g fill="#4a4a4a"><circle cx="632.0" cy="373.0" r="0.99"/><circle cx="624.5" cy="380.5" r="0.79"/><circle cx="620.6" cy="370.1" r="0.80"/><circle cx="616.9" cy="370.3" r="1.02"/><circle cx="626.3" cy="380.1" r="0.59"/><circle cx="624.6" cy="374.6" r="0.56"/><circle cx="620.7" cy="380.9" r="0.93"/><circle cx="625.2" cy="376.5" r="1.02"/><circle cx="633.2" cy="376.3" r="0.53"/><circle cx="631.7" cy="370.3" r="0.64"/><circle cx="618.5" cy="375.2" r="0.85"/><circle cx="624.3" cy="374.6" r="0.58"/><circle cx="628.9" cy="375.5" r="0.69"/><circle cx="631.0" cy="381.1" r="1.05"/><circle cx="633.7" cy="369.0" r="0.73"/><circle cx="624.1" cy="371.6" r="0.95"/><circle cx="632.3" cy="369.9" r="0.80"/><circle cx="633.4" cy="380.4" r="0.77"/><circle cx="622.2" cy="401.0" r="0.66"/><circle cx="649.4" cy="382.7" r="0.54"/><circle cx="657.4" cy="370.8" r="0.71"/><circle cx="621.8" cy="421.0" r="0.61"/><circle cx="655.0" cy="385.2" r="0.84"/><circle cx="627.1" cy="373.2" r="0.44"/><circle cx="621.0" cy="396.4" r="0.89"/><circle cx="632.2" cy="418.7" r="0.42"/><circle cx="638.6" cy="406.7" r="0.45"/><circle cx="641.2" cy="400.3" r="0.56"/><circle cx="651.2" cy="417.0" r="0.46"/><circle cx="622.2" cy="373.6" r="0.53"/><circle cx="643.5" cy="435.9" r="0.88"/><circle cx="652.6" cy="378.5" r="0.80"/><circle cx="648.5" cy="402.1" r="0.90"/><circle cx="642.0" cy="378.0" r="0.51"/><circle cx="623.2" cy="411.5" r="0.71"/><circle cx="652.3" cy="370.7" r="0.40"/><circle cx="656.9" cy="387.8" r="0.53"/><circle cx="652.7" cy="377.6" r="0.80"/><circle cx="653.9" cy="408.2" r="0.70"/><circle cx="618.2" cy="411.3" r="0.71"/><circle cx="648.8" cy="405.2" r="0.46"/><circle cx="626.9" cy="414.4" r="0.44"/><circle cx="622.3" cy="387.1" r="0.80"/><circle cx="639.9" cy="394.3" r="0.88"/><circle cx="641.2" cy="386.2" r="0.68"/><circle cx="652.2" cy="395.1" r="0.62"/><circle cx="641.1" cy="437.1" r="0.72"/><circle cx="625.2" cy="409.6" r="0.56"/><circle cx="636.9" cy="418.5" r="0.41"/><circle cx="638.3" cy="391.4" r="0.70"/><circle cx="650.8" cy="401.8" r="0.71"/><circle cx="629.5" cy="387.4" r="0.66"/><circle cx="639.3" cy="385.2" r="0.78"/><circle cx="638.0" cy="394.2" r="0.53"/><circle cx="651.5" cy="431.3" r="0.87"/><circle cx="627.9" cy="374.8" r="0.72"/><circle cx="619.0" cy="428.2" r="0.74"/><circle cx="631.5" cy="400.0" r="0.74"/></g>
<path d="M546.0 371.0 C548.3 370.2 554.3 367.3 560.0 366.0 C565.7 364.7 571.4 363.2 580.0 363.3 C588.6 363.4 604.1 365.2 611.4 366.5 C618.7 367.8 620.7 369.2 623.8 371.0 C626.9 372.8 629.0 376.0 630.0 377.0" fill="none" stroke="#3a3a3a" stroke-width="1.2"/>
<path d="M552.0 345.0 C551.6 347.3 550.7 353.7 549.5 358.7 C548.3 363.7 547.1 370.3 545.0 375.0 C542.9 379.7 538.1 384.8 536.7 386.7" fill="none" stroke="#5a5a5a" stroke-width="1"/>
<path d="M554.0 328.6 C554.9 327.8 555.8 336.4 557.0 340.0 C558.2 343.6 559.8 347.0 561.0 350.0 C562.2 353.0 564.5 356.5 564.0 358.0 C563.5 359.5 560.0 359.3 558.0 359.0 C556.0 358.7 553.0 358.3 552.0 356.0 C551.0 353.7 551.5 349.6 551.8 345.0 C552.1 340.4 553.1 329.4 554.0 328.6 Z" fill="#141414"/>
<path d="M657.0 486.0 C657.8 484.3 659.5 483.2 661.0 483.0 C662.5 482.8 665.0 483.0 666.0 484.5 C667.0 486.0 666.9 489.4 667.0 492.0 C667.1 494.6 667.3 498.2 666.5 500.0 C665.7 501.8 663.6 502.4 662.0 502.5 C660.4 502.6 658.0 502.1 657.0 500.5 C656.0 498.9 656.0 495.4 656.0 493.0 C656.0 490.6 656.2 487.7 657.0 486.0 Z" fill="#fbfbf9" stroke="#2a2a2a" stroke-width="1"/><path d="M659.5 491.1h1.2M662.6 494.2h0.8M659.8 489.6h0.7M662.3 494.0h1.3M661.8 498.9h1.0M661.6 489.9h1.0M664.1 492.8h0.7M660.6 488.8h1.1M661.6 492.7h1.3M663.1 487.2h0.7M662.7 494.4h1.1M661.5 486.5h1.0M663.5 494.4h0.7M659.2 498.7h1.0M659.5 495.9h1.3M663.7 495.0h1.2M659.0 492.5h1.2M660.5 488.0h1.2M662.7 486.1h0.7M661.8 499.4h1.1M663.8 487.5h1.0M659.6 490.6h0.8" stroke="#303030" stroke-width="1.3"/>
<path d="M669.0 472.0 C669.5 466.8 670.8 468.8 672.0 468.5 C673.2 468.2 674.7 467.2 676.0 470.0 C677.3 472.8 678.7 479.2 680.0 485.0 C681.3 490.8 683.1 498.8 684.0 505.0 C684.9 511.2 685.8 518.2 685.5 522.0 C685.2 525.8 684.2 526.5 682.0 527.5 C679.8 528.5 674.2 528.6 672.0 528.0 C669.8 527.4 669.5 528.7 669.0 524.0 C668.5 519.3 668.8 508.7 668.8 500.0 C668.8 491.3 668.5 477.2 669.0 472.0 Z" fill="#fbfbf9" stroke="#2a2a2a" stroke-width="1"/><path d="M675.8 475.4h1.1M677.9 520.0h1.2M671.4 518.2h1.0M681.3 498.6h0.7M678.6 482.0h1.3M676.7 519.9h1.0M674.3 507.4h1.1M675.8 487.3h1.0M678.7 484.9h0.8M676.1 507.2h0.7M673.6 523.5h0.9M679.4 488.9h0.8M676.1 518.2h1.2M671.1 509.6h1.1M676.0 507.6h1.0M672.6 509.2h0.8M674.1 517.3h1.0M676.4 509.9h1.0M674.9 501.7h0.7M674.5 475.1h1.3M680.9 507.0h0.8M680.3 487.7h1.2M678.0 504.5h1.1M673.6 516.4h1.0M679.2 516.7h0.9M675.2 491.8h0.7M680.6 508.7h1.0M676.8 518.7h0.7M674.6 508.7h1.0M676.2 486.5h0.8M678.2 490.7h1.3M680.9 523.5h0.9M676.4 478.4h0.9M671.4 499.1h1.3M679.3 491.9h0.9M681.2 475.7h1.2M680.3 476.6h1.3M677.9 493.2h1.0M677.5 500.4h1.2M680.8 490.0h0.7M679.5 506.7h1.1M671.4 476.9h1.2M674.7 497.6h1.3M672.7 506.0h0.7M677.0 511.4h0.8M679.2 523.4h1.2M679.6 522.3h1.1M676.8 515.9h1.2M677.7 507.8h0.8M674.4 489.9h1.2M679.5 488.1h1.3M671.2 476.2h0.9M671.4 522.4h0.9M675.0 517.5h1.0M677.8 495.9h1.0M681.5 487.4h1.0M676.0 480.3h0.8M676.3 514.5h1.0M671.2 521.6h0.8M680.7 475.3h1.1M672.2 486.5h1.0M679.2 495.6h1.0M675.1 500.1h0.9M681.5 482.9h0.8M676.8 491.3h1.1M671.0 508.2h0.9M681.2 488.6h1.0M674.2 500.7h0.9M678.2 494.4h1.1M673.9 496.7h1.0M678.8 506.9h1.0M671.5 478.8h0.8M672.6 482.5h1.1M674.4 520.2h0.8M673.3 482.5h0.8M678.3 503.1h0.9M679.8 508.1h1.0M677.5 507.1h1.0M671.6 492.0h1.3M674.8 506.2h0.8M679.4 517.9h0.9M674.8 499.7h0.9M672.9 479.7h1.1M676.4 522.7h1.3M680.6 522.1h1.2M670.8 479.7h1.3M680.5 505.0h1.1M675.5 495.1h0.8M676.8 487.3h0.8M680.5 502.9h1.2M673.9 503.0h0.9M680.1 483.9h1.1M676.9 489.9h0.7M676.1 500.2h1.2M672.8 482.6h0.9" stroke="#303030" stroke-width="1.3"/>
<path d="M713.0 490.0 C713.6 487.3 714.7 485.1 716.0 484.0 C717.3 482.9 719.5 483.0 721.0 483.7 C722.5 484.4 724.2 485.4 725.0 488.0 C725.8 490.6 726.3 496.0 726.0 499.0 C725.7 502.0 724.7 504.8 723.0 506.0 C721.3 507.2 717.8 507.5 716.0 506.5 C714.2 505.5 713.0 502.8 712.5 500.0 C712.0 497.2 712.4 492.7 713.0 490.0 Z" fill="#fbfbf9" stroke="#2a2a2a" stroke-width="1"/><path d="M721.7 490.9h1.1M714.8 488.4h1.1M719.0 488.9h1.0M723.0 493.6h1.0M718.3 495.6h0.7M722.4 496.9h0.9M717.1 490.2h1.3M722.1 493.4h1.1M719.5 490.4h0.7M721.1 489.8h1.0M714.7 487.4h0.8M720.4 497.4h1.3M720.4 495.9h0.7M723.1 495.3h1.2M714.9 501.2h1.0M716.5 493.9h0.7M719.7 490.7h1.1M716.1 498.7h1.1M720.9 503.2h0.9M720.6 493.8h1.2M721.9 500.0h1.1M716.9 502.4h1.3M723.0 492.7h1.2M720.6 501.3h1.2M718.6 493.7h1.2M720.4 496.2h1.2" stroke="#303030" stroke-width="1.3"/>
<path d="M711.0 518.0 C711.3 515.8 711.5 514.0 713.0 513.0 C714.5 512.0 717.9 511.7 720.0 512.0 C722.1 512.3 724.5 513.0 725.5 515.0 C726.5 517.0 726.4 521.5 726.0 524.0 C725.6 526.5 724.8 528.9 723.0 530.0 C721.2 531.1 717.0 531.2 715.0 530.5 C713.0 529.8 711.7 528.1 711.0 526.0 C710.3 523.9 710.7 520.2 711.0 518.0 Z" fill="#fbfbf9" stroke="#2a2a2a" stroke-width="1"/><path d="M713.3 514.7h1.0M714.0 525.9h0.8M722.3 517.5h0.8M720.9 523.6h0.9M719.3 522.0h1.3M718.3 521.8h1.0M717.3 523.8h0.8M720.3 527.0h1.2M718.7 519.3h0.8M714.0 521.8h1.2M722.1 517.0h1.1M721.5 521.0h1.2M715.0 519.0h1.0M720.6 520.6h0.9M722.1 519.8h1.0M715.3 521.0h1.1M716.8 523.4h1.0M713.1 527.5h0.9M718.7 527.4h0.8M713.7 517.3h0.8M721.9 521.5h0.7M715.9 521.4h0.8M716.2 526.7h1.0M715.4 522.6h0.8" stroke="#303030" stroke-width="1.3"/>
<path d="M531 208 L527.5 209 L527.5 268 L523 270 L527.5 272 L527.5 332 L530.5 334" fill="none" stroke="#555" stroke-width="1.3"/>
<line x1="516" y1="270" x2="523" y2="270" stroke="#555" stroke-width="1.2"/>
<path d="M516 338 L641 338 L656 360" fill="none" stroke="#3a3a3a" stroke-width="1.1"/>
<line x1="516" y1="359" x2="592" y2="359" stroke="#d01a22" stroke-width="2"/>
<line x1="517" y1="383" x2="639" y2="383" stroke="#3a3a3a" stroke-width="1.1"/>
<line x1="516" y1="408.5" x2="668" y2="408.5" stroke="#3a3a3a" stroke-width="1.1"/>
<line x1="516" y1="447.2" x2="690" y2="447.2" stroke="#3a3a3a" stroke-width="1.1"/>
<line x1="513" y1="463.2" x2="690" y2="463.2" stroke="#3a3a3a" stroke-width="1.1"/>
<path d="M855 232.5 L760 232.5 M818 232.5 L790 247" fill="none" stroke="#3a3a3a" stroke-width="1.1"/>
<line x1="801.5" y1="269" x2="856" y2="269" stroke="#d01a22" stroke-width="2"/>
<path d="M857 303 L713 303 L701 318" fill="none" stroke="#d01a22" stroke-width="2"/>
<line x1="697" y1="324.5" x2="858" y2="324.5" stroke="#3a3a3a" stroke-width="1.1"/>
<line x1="705" y1="347.5" x2="858" y2="347.5" stroke="#d01a22" stroke-width="2"/>
<line x1="755" y1="425.4" x2="856" y2="425.4" stroke="#d01a22" stroke-width="2"/>
<text class="ri" x="427.8" y="340.6" textLength="87.0" lengthAdjust="spacingAndGlyphs">Hypothalamus</text>
<text class="ri" x="427.0" y="362.6" textLength="87.8" lengthAdjust="spacingAndGlyphs">Olfactory bulb</text>
<text class="ri" x="457.0" y="272.0" textLength="58.0" lengthAdjust="spacingAndGlyphs">Cerebrum</text>
<text class="ri" x="462.0" y="388.3" textLength="54.9" lengthAdjust="spacingAndGlyphs">Pituitary</text>
<text class="ri" x="487.7" y="412.3" textLength="27.6" lengthAdjust="spacingAndGlyphs">Pons</text>
<text class="ri" x="454.7" y="434.8" textLength="55.5" lengthAdjust="spacingAndGlyphs">Reticular</text>
<text class="ri" x="454.7" y="451.5" textLength="61.3" lengthAdjust="spacingAndGlyphs">formation</text>
<text class="ri" x="465.3" y="467.0" textLength="47.4" lengthAdjust="spacingAndGlyphs">Medulla</text>
<text class="ri" x="458.8" y="483.8" textLength="61.2" lengthAdjust="spacingAndGlyphs">oblongata</text>
<text class="ri" x="854.9" y="237.2" textLength="57.2" lengthAdjust="spacingAndGlyphs">Meninges</text>
<text class="ri" x="856.0" y="269.8" textLength="84.4" lengthAdjust="spacingAndGlyphs">Cerebrospinal</text>
<text class="ri" x="879.0" y="286.5" textLength="28.0" lengthAdjust="spacingAndGlyphs">fluid</text>
<text class="ri" x="856.8" y="305.0" textLength="55.4" lengthAdjust="spacingAndGlyphs">Ventricle</text>
<text class="ri" x="858.2" y="326.2" textLength="56.0" lengthAdjust="spacingAndGlyphs">Thalamus</text>
<text class="ri" x="858.2" y="352.6" textLength="36.8" lengthAdjust="spacingAndGlyphs">Pineal</text>
<text class="ri" x="858.2" y="369.0" textLength="28.7" lengthAdjust="spacingAndGlyphs">body</text>
<text class="ri" x="855.6" y="429.6" textLength="68.1" lengthAdjust="spacingAndGlyphs">Cerebellum</text>
<text class="rs" x="582.0" y="299.0" textLength="31.5" lengthAdjust="spacingAndGlyphs">Frontal</text>
<text class="rs" x="588.0" y="313.6" textLength="19.5" lengthAdjust="spacingAndGlyphs">lobe</text>
<text class="rs" x="732.0" y="261.0" textLength="33.0" lengthAdjust="spacingAndGlyphs">Parietal</text>
<text class="rs" x="739.5" y="274.6" textLength="18.2" lengthAdjust="spacingAndGlyphs">lobe</text>
<text class="rs" x="763.0" y="362.0" textLength="39.6" lengthAdjust="spacingAndGlyphs">Occipital</text>
<text class="rs" x="774.0" y="378.5" textLength="19.0" lengthAdjust="spacingAndGlyphs">lobe</text>
<rect x="441" y="325" width="2.8" height="45" fill="#fff"/>
</g>
<g id="left">
<rect x="27" y="123" width="414" height="508" fill="#fff" stroke="#5e5e5e" stroke-width="2"/>
<defs><linearGradient id="skin" x1="0" y1="0" x2="0" y2="1"><stop offset="0" stop-color="#fdeee3"/><stop offset="0.6" stop-color="#fdeee3"/><stop offset="0.9" stop-color="#fffcfa"/><stop offset="1" stop-color="#ffffff"/></linearGradient></defs>
<path d="M174.5 371.9 C177.6 367.1 188.2 351.2 193.3 343.0 C198.4 334.8 203.7 328.6 204.9 322.8 C206.1 317.0 202.4 312.0 200.5 308.4 C198.6 304.8 196.9 302.6 193.3 301.2 C189.7 299.8 182.5 300.4 178.9 299.7 C175.3 299.0 173.1 298.7 171.7 296.8 C170.2 294.9 170.0 290.6 170.2 288.2 C170.4 285.8 173.1 284.3 173.1 282.4 C173.1 280.5 170.2 279.0 170.2 276.6 C170.2 274.2 173.1 270.2 173.1 268.0 C173.1 265.8 171.4 265.1 170.2 263.6 C169.0 262.2 167.3 260.7 165.9 259.3 C164.5 257.9 161.8 257.4 161.6 255.0 C161.3 252.6 163.0 248.5 164.4 244.9 C165.8 241.3 168.5 237.2 170.2 233.3 C171.9 229.5 173.1 225.7 174.5 221.8 C175.9 218.0 178.4 213.1 178.9 210.2 C179.4 207.3 177.4 206.8 177.4 204.4 C177.4 202.0 177.5 198.9 178.9 195.8 C180.3 192.7 182.8 188.5 186.0 186.0 C189.2 183.5 192.3 182.3 198.0 181.0 C203.7 179.7 212.5 178.3 220.0 178.0 C227.5 177.7 235.3 177.8 243.0 179.0 C250.7 180.2 259.8 182.0 266.0 185.0 C272.2 188.0 276.7 192.5 280.0 197.0 C283.3 201.5 284.8 206.3 286.0 212.0 C287.2 217.7 287.3 225.7 287.0 231.0 C286.7 236.3 286.2 239.7 284.4 244.0 C282.6 248.3 278.7 252.7 276.0 257.0 C273.3 261.3 269.8 265.7 268.0 270.0 C266.2 274.3 266.2 280.1 265.4 283.0 C264.6 285.9 262.5 286.2 263.0 287.5 C263.5 288.8 265.1 286.2 268.4 291.0 C271.7 295.8 278.1 308.3 283.0 316.0 C287.9 323.7 294.8 327.7 298.0 337.0 C301.2 346.3 301.3 366.2 302.0 372.0 Z" fill="url(#skin)"/>
<path d="M178.9 195.8 C178.7 197.2 177.4 202.0 177.4 204.4 C177.4 206.8 179.4 207.3 178.9 210.2 C178.4 213.1 175.9 218.0 174.5 221.8 C173.1 225.7 171.9 229.5 170.2 233.3 C168.5 237.2 165.8 241.3 164.4 244.9 C163.0 248.5 161.3 252.6 161.6 255.0 C161.8 257.4 164.5 257.9 165.9 259.3 C167.3 260.7 169.0 262.2 170.2 263.6 C171.4 265.1 173.1 265.8 173.1 268.0 C173.1 270.2 170.2 274.2 170.2 276.6 C170.2 279.0 173.1 280.5 173.1 282.4 C173.1 284.3 170.4 285.8 170.2 288.2 C170.0 290.6 170.2 294.9 171.7 296.8 C173.1 298.7 175.3 299.0 178.9 299.7 C182.5 300.4 189.7 299.8 193.3 301.2 C196.9 302.6 198.6 304.8 200.5 308.4 C202.4 312.0 206.1 317.0 204.9 322.8 C203.7 328.6 198.4 334.8 193.3 343.0 C188.2 351.2 177.6 367.1 174.5 371.9" fill="none" stroke="#8a7c66" stroke-width="1.4"/>
<path d="M178.9 195.8 C180.1 194.2 182.8 188.5 186.0 186.0 C189.2 183.5 192.3 182.3 198.0 181.0 C203.7 179.7 212.5 178.3 220.0 178.0 C227.5 177.7 235.3 177.8 243.0 179.0 C250.7 180.2 259.8 182.0 266.0 185.0 C272.2 188.0 276.7 192.5 280.0 197.0 C283.3 201.5 284.8 206.3 286.0 212.0 C287.2 217.7 287.3 225.7 287.0 231.0 C286.7 236.3 286.2 239.7 284.4 244.0 C282.6 248.3 278.7 252.7 276.0 257.0 C273.3 261.3 269.8 265.7 268.0 270.0 C266.2 274.3 266.2 280.1 265.4 283.0 C264.6 285.9 262.5 286.2 263.0 287.5 C263.5 288.8 265.1 286.2 268.4 291.0 C271.7 295.8 278.1 308.3 283.0 316.0 C287.9 323.7 294.8 327.7 298.0 337.0 C301.2 346.3 301.3 366.2 302.0 372.0" fill="none" stroke="#8a7c66" stroke-width="1.4"/>
<path d="M229.5 256.0 C229.6 256.8 229.7 259.3 229.8 261.0 C229.9 262.7 230.0 264.3 230.1 266.0 C230.2 267.7 230.3 269.3 230.4 271.0 C230.5 272.7 230.6 274.3 230.8 276.0 C230.9 277.7 231.0 279.3 231.1 281.0 C231.3 282.7 231.5 284.3 231.7 286.0 C231.9 287.7 232.1 289.3 232.3 291.0 C232.5 292.7 232.7 294.3 232.9 296.0 C233.1 297.7 233.3 299.3 233.5 301.0 C233.7 302.7 233.8 304.3 234.1 306.0 C234.3 307.7 234.6 309.3 234.9 311.0 C235.3 312.7 235.6 314.3 236.0 316.0 C236.3 317.7 236.7 319.3 237.0 321.0 C237.4 322.7 237.7 324.3 238.1 326.0 C238.4 327.7 238.8 329.3 239.1 331.0 C239.5 332.7 239.8 334.3 240.2 336.0 C240.5 337.7 240.9 339.3 241.3 341.0 C241.7 342.7 242.0 344.3 242.4 346.0 C242.8 347.7 243.1 349.3 243.5 351.0 C243.9 352.7 244.3 354.3 244.6 356.0 C245.0 357.7 245.4 359.3 245.6 361.0 C245.9 362.7 246.0 364.3 246.2 366.0 C246.3 367.7 246.5 369.3 246.7 371.0 C246.9 372.7 247.1 374.3 247.2 376.0 C247.4 377.7 247.7 379.3 247.8 381.0 C247.8 382.7 247.7 384.3 247.5 386.0 C247.2 387.7 246.8 389.3 246.5 391.0 C246.2 392.7 245.9 394.3 245.6 396.0 C245.3 397.7 245.1 399.3 244.7 401.0 C244.4 402.7 244.1 404.3 243.7 406.0 C243.2 407.7 242.6 409.3 242.1 411.0 C241.5 412.7 241.0 414.3 240.5 416.0 C240.0 417.7 239.4 419.3 238.9 421.0 C238.4 422.7 238.0 424.3 237.5 426.0 C237.0 427.7 236.5 429.3 236.0 431.0 C235.6 432.7 235.1 434.3 234.6 436.0 C234.1 437.7 233.6 439.3 233.0 441.0 C232.5 442.7 232.0 444.3 231.5 446.0 C230.9 447.7 230.4 449.3 229.9 451.0 C229.4 452.7 228.8 454.3 228.3 456.0 C227.8 457.7 227.3 459.3 226.9 461.0 C226.4 462.7 226.1 464.3 225.6 466.0 C225.2 467.7 224.8 469.3 224.4 471.0 C224.0 472.7 223.5 474.3 223.1 476.0 C222.7 477.7 222.2 479.3 221.9 481.0 C221.5 482.7 221.2 484.3 220.9 486.0 C220.5 487.7 220.2 489.3 219.9 491.0 C219.6 492.7 219.3 494.3 219.0 496.0 C218.7 497.7 218.3 499.3 218.0 501.0 C217.8 502.7 217.4 504.3 217.4 506.0 C217.3 507.7 217.6 509.3 217.6 511.0 C217.7 512.7 217.8 514.3 217.9 516.0 C218.0 517.7 218.1 519.3 218.2 521.0 C218.3 522.7 218.4 524.3 218.5 526.0 C218.6 527.7 218.5 529.3 218.8 531.0 C219.1 532.7 219.9 534.3 220.5 536.0 C221.0 537.7 221.6 539.3 222.2 541.0 C222.7 542.7 223.0 544.3 223.8 546.0 C224.6 547.7 225.8 549.3 227.0 551.0 C228.2 552.7 230.1 554.3 231.2 556.0 C232.2 557.7 232.6 559.3 233.2 561.0 C233.7 562.7 234.4 565.2 234.6 566.0 L234.6 566.0 C235.6 566.9 237.5 569.0 240.4 571.3 C243.3 573.6 248.6 576.6 252.0 580.0 C255.4 583.4 258.7 587.7 260.6 591.5 C262.5 595.3 263.3 600.2 263.5 603.0 C263.7 605.8 263.0 606.5 262.0 608.0 C261.0 609.5 258.4 611.1 257.7 611.7 L257.7 611.7 C258.8 610.8 262.5 608.0 264.0 606.0 C265.5 604.0 265.6 602.4 266.5 600.0 C267.4 597.6 268.6 594.8 269.5 591.5 C270.4 588.2 271.8 583.4 272.0 580.0 C272.2 576.6 271.7 574.8 270.7 571.0 C269.7 567.2 266.8 559.3 266.0 557.0 L258.4 557.0 C258.2 556.2 257.7 553.7 257.4 552.0 C257.1 550.3 256.7 548.7 256.4 547.0 C256.1 545.3 255.7 543.7 255.4 542.0 C255.1 540.3 254.7 538.7 254.4 537.0 C254.1 535.3 253.7 533.7 253.4 532.0 C253.1 530.3 252.7 528.7 252.4 527.0 C252.1 525.3 251.7 523.7 251.4 522.0 C251.1 520.3 250.7 518.7 250.4 517.0 C250.1 515.3 249.7 513.7 249.4 512.0 C249.1 510.3 248.7 508.7 248.4 507.0 C248.1 505.3 247.4 503.7 247.4 502.0 C247.4 500.3 248.0 498.7 248.3 497.0 C248.6 495.3 248.9 493.7 249.3 492.0 C249.6 490.3 249.9 488.7 250.4 487.0 C251.0 485.3 251.9 483.7 252.6 482.0 C253.2 480.3 253.8 478.7 254.5 477.0 C255.1 475.3 255.7 473.7 256.3 472.0 C256.9 470.3 257.5 468.7 258.1 467.0 C258.7 465.3 259.3 463.7 259.9 462.0 C260.5 460.3 261.1 458.7 261.8 457.0 C262.4 455.3 263.2 453.7 263.7 452.0 C264.3 450.3 264.7 448.7 265.1 447.0 C265.5 445.3 265.8 443.7 266.1 442.0 C266.4 440.3 266.8 438.7 267.1 437.0 C267.4 435.3 267.7 433.7 268.1 432.0 C268.5 430.3 269.0 428.7 269.6 427.0 C270.1 425.3 270.8 423.7 271.3 422.0 C271.8 420.3 272.2 418.7 272.6 417.0 C273.0 415.3 273.3 413.7 273.6 412.0 C273.9 410.3 274.3 408.7 274.6 407.0 C274.9 405.3 275.1 403.7 275.3 402.0 C275.5 400.3 275.6 398.7 275.7 397.0 C275.9 395.3 276.0 393.7 276.2 392.0 C276.3 390.3 276.5 388.7 276.6 387.0 C276.7 385.3 276.9 383.7 276.9 382.0 C276.8 380.3 276.4 378.7 276.2 377.0 C275.9 375.3 275.7 373.7 275.5 372.0 C275.2 370.3 275.1 368.7 274.8 367.0 C274.5 365.3 274.1 363.7 273.8 362.0 C273.4 360.3 273.0 358.7 272.6 357.0 C272.2 355.3 271.8 353.7 271.4 352.0 C271.0 350.3 270.6 348.7 270.2 347.0 C269.8 345.3 269.4 343.7 269.0 342.0 C268.6 340.3 268.1 338.7 267.7 337.0 C267.2 335.3 266.8 333.7 266.3 332.0 C265.9 330.3 265.4 328.7 265.0 327.0 C264.5 325.3 264.1 323.7 263.6 322.0 C263.2 320.3 262.8 318.7 262.3 317.0 C261.7 315.3 261.0 313.7 260.3 312.0 C259.6 310.3 258.8 308.7 258.1 307.0 C257.4 305.3 256.6 303.7 255.9 302.0 C255.2 300.3 254.4 298.7 253.7 297.0 C253.1 295.3 252.3 293.7 251.8 292.0 C251.3 290.3 251.2 288.7 250.8 287.0 C250.5 285.3 250.2 283.7 249.9 282.0 C249.5 280.3 249.2 278.7 248.9 277.0 C248.6 275.3 248.3 273.7 248.1 272.0 C247.9 270.3 247.7 268.7 247.4 267.0 C247.2 265.3 247.0 263.7 246.8 262.0 C246.6 260.3 246.2 257.8 246.1 257.0 Z" fill="#f5ddb9" stroke="none"/>
<line x1="241.8" y1="262.0" x2="250.3" y2="266.6" stroke="#8a6e52" stroke-width="6.0" stroke-linecap="round"/>
<line x1="243.0" y1="271.5" x2="253.9" y2="277.4" stroke="#8a6e52" stroke-width="6.0" stroke-linecap="round"/>
<line x1="244.7" y1="281.0" x2="257.5" y2="288.0" stroke="#8a6e52" stroke-width="6.0" stroke-linecap="round"/>
<line x1="246.5" y1="290.5" x2="262.5" y2="299.3" stroke="#8a6e52" stroke-width="6.0" stroke-linecap="round"/>
<line x1="250.0" y1="300.0" x2="267.1" y2="309.3" stroke="#8a6e52" stroke-width="6.0" stroke-linecap="round"/>
<line x1="254.2" y1="309.5" x2="270.6" y2="318.5" stroke="#8a6e52" stroke-width="6.0" stroke-linecap="round"/>
<line x1="257.8" y1="319.0" x2="272.9" y2="327.3" stroke="#8a6e52" stroke-width="6.0" stroke-linecap="round"/>
<line x1="260.4" y1="328.5" x2="274.6" y2="336.3" stroke="#8a6e52" stroke-width="6.0" stroke-linecap="round"/>
<line x1="262.9" y1="338.0" x2="276.1" y2="346.1" stroke="#8a6e52" stroke-width="6.4" stroke-linecap="round"/>
<line x1="265.9" y1="350.0" x2="278.3" y2="357.6" stroke="#8a6e52" stroke-width="6.4" stroke-linecap="round"/>
<line x1="268.8" y1="362.0" x2="280.5" y2="369.2" stroke="#8a6e52" stroke-width="6.4" stroke-linecap="round"/>
<line x1="270.8" y1="374.0" x2="281.9" y2="380.8" stroke="#8a6e52" stroke-width="6.4" stroke-linecap="round"/>
<line x1="271.7" y1="386.0" x2="280.5" y2="391.4" stroke="#8a6e52" stroke-width="6.4" stroke-linecap="round"/>
<line x1="270.6" y1="398.0" x2="278.3" y2="402.7" stroke="#8a6e52" stroke-width="6.4" stroke-linecap="round"/>
<line x1="269.0" y1="410.0" x2="275.8" y2="414.2" stroke="#8a6e52" stroke-width="6.4" stroke-linecap="round"/>
<line x1="266.3" y1="422.0" x2="271.9" y2="425.4" stroke="#8a6e52" stroke-width="6.4" stroke-linecap="round"/>
<rect x="255.5" y="434.0" width="15" height="12" rx="4.5" fill="#f5ddb9" stroke="#8a6e52" stroke-width="1"/>
<rect x="253.5" y="455.0" width="15" height="12" rx="4.5" fill="#f5ddb9" stroke="#8a6e52" stroke-width="1"/>
<rect x="251.5" y="474.0" width="15" height="12" rx="4.5" fill="#f5ddb9" stroke="#8a6e52" stroke-width="1"/>
<rect x="249.0" y="490.0" width="15" height="12" rx="4.5" fill="#f5ddb9" stroke="#8a6e52" stroke-width="1"/>
<rect x="247.5" y="504.0" width="15" height="12" rx="4.5" fill="#f5ddb9" stroke="#8a6e52" stroke-width="1"/>
<rect x="246.0" y="517.5" width="15" height="12" rx="4.5" fill="#f5ddb9" stroke="#8a6e52" stroke-width="1"/>
<rect x="245.0" y="531.0" width="15" height="12" rx="4.5" fill="#f5ddb9" stroke="#8a6e52" stroke-width="1"/>
<line x1="241.8" y1="262.0" x2="250.3" y2="266.6" stroke="#f5ddb9" stroke-width="4.2" stroke-linecap="round"/>
<line x1="243.0" y1="271.5" x2="253.9" y2="277.4" stroke="#f5ddb9" stroke-width="4.2" stroke-linecap="round"/>
<line x1="244.7" y1="281.0" x2="257.5" y2="288.0" stroke="#f5ddb9" stroke-width="4.2" stroke-linecap="round"/>
<line x1="246.5" y1="290.5" x2="262.5" y2="299.3" stroke="#f5ddb9" stroke-width="4.2" stroke-linecap="round"/>
<line x1="250.0" y1="300.0" x2="267.1" y2="309.3" stroke="#f5ddb9" stroke-width="4.2" stroke-linecap="round"/>
<line x1="254.2" y1="309.5" x2="270.6" y2="318.5" stroke="#f5ddb9" stroke-width="4.2" stroke-linecap="round"/>
<line x1="257.8" y1="319.0" x2="272.9" y2="327.3" stroke="#f5ddb9" stroke-width="4.2" stroke-linecap="round"/>
<line x1="260.4" y1="328.5" x2="274.6" y2="336.3" stroke="#f5ddb9" stroke-width="4.2" stroke-linecap="round"/>
<line x1="262.9" y1="338.0" x2="276.1" y2="346.1" stroke="#f5ddb9" stroke-width="4.6" stroke-linecap="round"/>
<line x1="265.9" y1="350.0" x2="278.3" y2="357.6" stroke="#f5ddb9" stroke-width="4.6" stroke-linecap="round"/>
<line x1="268.8" y1="362.0" x2="280.5" y2="369.2" stroke="#f5ddb9" stroke-width="4.6" stroke-linecap="round"/>
<line x1="270.8" y1="374.0" x2="281.9" y2="380.8" stroke="#f5ddb9" stroke-width="4.6" stroke-linecap="round"/>
<line x1="271.7" y1="386.0" x2="280.5" y2="391.4" stroke="#f5ddb9" stroke-width="4.6" stroke-linecap="round"/>
<line x1="270.6" y1="398.0" x2="278.3" y2="402.7" stroke="#f5ddb9" stroke-width="4.6" stroke-linecap="round"/>
<line x1="269.0" y1="410.0" x2="275.8" y2="414.2" stroke="#f5ddb9" stroke-width="4.6" stroke-linecap="round"/>
<line x1="266.3" y1="422.0" x2="271.9" y2="425.4" stroke="#f5ddb9" stroke-width="4.6" stroke-linecap="round"/>
<path d="M229.5 256.0 C229.6 256.8 229.7 259.3 229.8 261.0 C229.9 262.7 230.0 264.3 230.1 266.0 C230.2 267.7 230.3 269.3 230.4 271.0 C230.5 272.7 230.6 274.3 230.8 276.0 C230.9 277.7 231.0 279.3 231.1 281.0 C231.3 282.7 231.5 284.3 231.7 286.0 C231.9 287.7 232.1 289.3 232.3 291.0 C232.5 292.7 232.7 294.3 232.9 296.0 C233.1 297.7 233.3 299.3 233.5 301.0 C233.7 302.7 233.8 304.3 234.1 306.0 C234.3 307.7 234.6 309.3 234.9 311.0 C235.3 312.7 235.6 314.3 236.0 316.0 C236.3 317.7 236.7 319.3 237.0 321.0 C237.4 322.7 237.7 324.3 238.1 326.0 C238.4 327.7 238.8 329.3 239.1 331.0 C239.5 332.7 239.8 334.3 240.2 336.0 C240.5 337.7 240.9 339.3 241.3 341.0 C241.7 342.7 242.0 344.3 242.4 346.0 C242.8 347.7 243.1 349.3 243.5 351.0 C243.9 352.7 244.3 354.3 244.6 356.0 C245.0 357.7 245.4 359.3 245.6 361.0 C245.9 362.7 246.0 364.3 246.2 366.0 C246.3 367.7 246.5 369.3 246.7 371.0 C246.9 372.7 247.1 374.3 247.2 376.0 C247.4 377.7 247.7 379.3 247.8 381.0 C247.8 382.7 247.7 384.3 247.5 386.0 C247.2 387.7 246.8 389.3 246.5 391.0 C246.2 392.7 245.9 394.3 245.6 396.0 C245.3 397.7 245.1 399.3 244.7 401.0 C244.4 402.7 244.1 404.3 243.7 406.0 C243.2 407.7 242.6 409.3 242.1 411.0 C241.5 412.7 241.0 414.3 240.5 416.0 C240.0 417.7 239.4 419.3 238.9 421.0 C238.4 422.7 238.0 424.3 237.5 426.0 C237.0 427.7 236.5 429.3 236.0 431.0 C235.6 432.7 235.1 434.3 234.6 436.0 C234.1 437.7 233.6 439.3 233.0 441.0 C232.5 442.7 232.0 444.3 231.5 446.0 C230.9 447.7 230.4 449.3 229.9 451.0 C229.4 452.7 228.8 454.3 228.3 456.0 C227.8 457.7 227.3 459.3 226.9 461.0 C226.4 462.7 226.1 464.3 225.6 466.0 C225.2 467.7 224.8 469.3 224.4 471.0 C224.0 472.7 223.5 474.3 223.1 476.0 C222.7 477.7 222.2 479.3 221.9 481.0 C221.5 482.7 221.2 484.3 220.9 486.0 C220.5 487.7 220.2 489.3 219.9 491.0 C219.6 492.7 219.3 494.3 219.0 496.0 C218.7 497.7 218.3 499.3 218.0 501.0 C217.8 502.7 217.4 504.3 217.4 506.0 C217.3 507.7 217.6 509.3 217.6 511.0 C217.7 512.7 217.8 514.3 217.9 516.0 C218.0 517.7 218.1 519.3 218.2 521.0 C218.3 522.7 218.4 524.3 218.5 526.0 C218.6 527.7 218.5 529.3 218.8 531.0 C219.1 532.7 219.9 534.3 220.5 536.0 C221.0 537.7 221.6 539.3 222.2 541.0 C222.7 542.7 223.0 544.3 223.8 546.0 C224.6 547.7 225.8 549.3 227.0 551.0 C228.2 552.7 230.1 554.3 231.2 556.0 C232.2 557.7 232.6 559.3 233.2 561.0 C233.7 562.7 234.4 565.2 234.6 566.0 L244.0 565.0 C243.9 564.2 243.6 561.7 243.4 560.0 C243.2 558.3 243.0 556.7 242.8 555.0 C242.6 553.3 242.4 551.7 242.2 550.0 C242.0 548.3 241.8 546.7 241.6 545.0 C241.4 543.3 241.2 541.7 241.0 540.0 C240.8 538.3 240.6 536.7 240.4 535.0 C240.2 533.3 240.0 531.7 239.8 530.0 C239.6 528.3 239.4 526.7 239.2 525.0 C239.0 523.3 238.8 521.7 238.6 520.0 C238.4 518.3 238.2 516.7 238.0 515.0 C237.8 513.3 237.6 511.7 237.4 510.0 C237.2 508.3 236.9 506.7 236.8 505.0 C236.7 503.3 236.6 501.7 236.8 500.0 C236.9 498.3 237.4 496.7 237.7 495.0 C238.0 493.3 238.2 491.7 238.6 490.0 C239.1 488.3 239.7 486.7 240.3 485.0 C240.9 483.3 241.7 481.7 242.4 480.0 C243.0 478.3 243.6 476.7 244.2 475.0 C244.8 473.3 245.4 471.7 246.0 470.0 C246.6 468.3 247.2 466.7 247.8 465.0 C248.4 463.3 249.0 461.7 249.6 460.0 C250.3 458.3 250.9 456.7 251.6 455.0 C252.2 453.3 253.0 451.7 253.5 450.0 C254.0 448.3 254.2 446.7 254.5 445.0 C254.8 443.3 255.2 441.7 255.5 440.0 C255.8 438.3 256.2 436.7 256.5 435.0 C256.8 433.3 257.0 431.7 257.5 430.0 C258.0 428.3 258.7 426.7 259.2 425.0 C259.8 423.3 260.5 421.7 261.0 420.0 C261.5 418.3 261.7 416.7 262.0 415.0 C262.3 413.3 262.7 411.7 263.0 410.0 C263.3 408.3 263.8 406.7 264.0 405.0 C264.2 403.3 264.3 401.7 264.5 400.0 C264.6 398.3 264.8 396.7 264.9 395.0 C265.1 393.3 265.2 391.7 265.4 390.0 C265.5 388.3 265.8 386.7 265.8 385.0 C265.9 383.3 265.7 381.7 265.6 380.0 C265.4 378.3 265.1 376.7 264.9 375.0 C264.7 373.3 264.4 371.7 264.2 370.0 C264.0 368.3 263.8 366.7 263.5 365.0 C263.2 363.3 262.7 361.7 262.3 360.0 C261.9 358.3 261.5 356.7 261.1 355.0 C260.7 353.3 260.3 351.7 259.9 350.0 C259.5 348.3 259.1 346.7 258.7 345.0 C258.3 343.3 257.9 341.7 257.5 340.0 C257.0 338.3 256.6 336.7 256.1 335.0 C255.7 333.3 255.2 331.7 254.8 330.0 C254.3 328.3 253.9 326.7 253.4 325.0 C253.0 323.3 252.6 321.7 252.1 320.0 C251.6 318.3 251.2 316.7 250.6 315.0 C250.0 313.3 249.1 311.7 248.4 310.0 C247.7 308.3 246.9 306.7 246.2 305.0 C245.5 303.3 244.8 301.7 244.0 300.0 C243.3 298.3 242.5 296.7 241.9 295.0 C241.3 293.3 240.8 291.7 240.4 290.0 C240.0 288.3 239.8 286.7 239.4 285.0 C239.1 283.3 238.8 281.7 238.5 280.0 C238.1 278.3 237.8 276.7 237.5 275.0 C237.2 273.3 237.1 271.7 236.8 270.0 C236.6 268.3 236.4 266.7 236.2 265.0 C236.0 263.3 235.6 260.8 235.5 260.0 Z" fill="#f5ddb9" stroke="#8a6e52" stroke-width="1"/>
<path d="M234.6 566.0 C235.6 566.9 237.5 569.0 240.4 571.3 C243.3 573.6 248.6 576.6 252.0 580.0 C255.4 583.4 258.7 587.7 260.6 591.5 C262.5 595.3 263.3 600.2 263.5 603.0 C263.7 605.8 263.0 606.5 262.0 608.0 C261.0 609.5 258.4 611.1 257.7 611.7 L257.7 611.7 C258.8 610.8 262.5 608.0 264.0 606.0 C265.5 604.0 265.6 602.4 266.5 600.0 C267.4 597.6 268.6 594.8 269.5 591.5 C270.4 588.2 271.8 583.4 272.0 580.0 C272.2 576.6 271.7 574.8 270.7 571.0 C269.7 567.2 266.8 559.3 266.0 557.0 L 240 557 Z" fill="#f2d6b0" stroke="#8a6e52" stroke-width="1"/>
<line x1="229.9" y1="263.0" x2="235.9" y2="264.2" stroke="#8a6e52" stroke-width="0.9"/>
<line x1="230.9" y1="265.6" x2="235.9" y2="266.8" stroke="#c9a67e" stroke-width="0.8"/>
<line x1="230.6" y1="274.0" x2="237.4" y2="275.2" stroke="#8a6e52" stroke-width="0.9"/>
<line x1="231.6" y1="276.6" x2="237.4" y2="277.8" stroke="#c9a67e" stroke-width="0.8"/>
<line x1="231.6" y1="285.0" x2="239.4" y2="286.2" stroke="#8a6e52" stroke-width="0.9"/>
<line x1="232.6" y1="287.6" x2="239.4" y2="288.8" stroke="#c9a67e" stroke-width="0.8"/>
<line x1="232.9" y1="296.0" x2="242.3" y2="297.2" stroke="#8a6e52" stroke-width="0.9"/>
<line x1="233.9" y1="298.6" x2="242.3" y2="299.8" stroke="#c9a67e" stroke-width="0.8"/>
<line x1="234.2" y1="307.0" x2="247.1" y2="308.2" stroke="#8a6e52" stroke-width="0.9"/>
<line x1="235.2" y1="309.6" x2="247.1" y2="310.8" stroke="#c9a67e" stroke-width="0.8"/>
<line x1="236.4" y1="318.0" x2="251.5" y2="319.2" stroke="#8a6e52" stroke-width="0.9"/>
<line x1="237.4" y1="320.6" x2="251.5" y2="321.8" stroke="#c9a67e" stroke-width="0.8"/>
<line x1="238.7" y1="329.0" x2="254.5" y2="330.2" stroke="#8a6e52" stroke-width="0.9"/>
<line x1="239.7" y1="331.6" x2="254.5" y2="332.8" stroke="#c9a67e" stroke-width="0.8"/>
<line x1="241.1" y1="340.0" x2="257.5" y2="341.2" stroke="#8a6e52" stroke-width="0.9"/>
<line x1="242.1" y1="342.6" x2="257.5" y2="343.8" stroke="#c9a67e" stroke-width="0.8"/>
<line x1="244.4" y1="355.0" x2="261.1" y2="356.2" stroke="#8a6e52" stroke-width="0.9"/>
<line x1="245.4" y1="357.6" x2="261.1" y2="358.8" stroke="#c9a67e" stroke-width="0.8"/>
<line x1="246.6" y1="370.0" x2="264.2" y2="371.2" stroke="#8a6e52" stroke-width="0.9"/>
<line x1="247.6" y1="372.6" x2="264.2" y2="373.8" stroke="#c9a67e" stroke-width="0.8"/>
<line x1="247.6" y1="385.0" x2="265.8" y2="386.2" stroke="#8a6e52" stroke-width="0.9"/>
<line x1="248.6" y1="387.6" x2="265.8" y2="388.8" stroke="#c9a67e" stroke-width="0.8"/>
<line x1="244.9" y1="400.0" x2="264.5" y2="401.2" stroke="#8a6e52" stroke-width="0.9"/>
<line x1="245.9" y1="402.6" x2="264.5" y2="403.8" stroke="#c9a67e" stroke-width="0.8"/>
<line x1="240.8" y1="415.0" x2="262.0" y2="416.2" stroke="#8a6e52" stroke-width="0.9"/>
<line x1="241.8" y1="417.6" x2="262.0" y2="418.8" stroke="#c9a67e" stroke-width="0.8"/>
<line x1="236.3" y1="430.0" x2="257.5" y2="431.2" stroke="#8a6e52" stroke-width="0.9"/>
<line x1="237.3" y1="432.6" x2="257.5" y2="433.8" stroke="#c9a67e" stroke-width="0.8"/>
<line x1="230.5" y1="449.0" x2="253.7" y2="450.2" stroke="#8a6e52" stroke-width="0.9"/>
<line x1="231.5" y1="451.6" x2="253.7" y2="452.8" stroke="#c9a67e" stroke-width="0.8"/>
<line x1="225.1" y1="468.0" x2="246.7" y2="469.2" stroke="#8a6e52" stroke-width="0.9"/>
<line x1="226.1" y1="470.6" x2="246.7" y2="471.8" stroke="#c9a67e" stroke-width="0.8"/>
<line x1="220.7" y1="487.0" x2="239.4" y2="488.2" stroke="#8a6e52" stroke-width="0.9"/>
<line x1="221.7" y1="489.6" x2="239.4" y2="490.8" stroke="#c9a67e" stroke-width="0.8"/>
<line x1="217.4" y1="506.0" x2="236.4" y2="507.2" stroke="#8a6e52" stroke-width="0.9"/>
<line x1="218.4" y1="508.6" x2="236.4" y2="509.8" stroke="#c9a67e" stroke-width="0.8"/>
<line x1="218.5" y1="525.0" x2="236.4" y2="526.2" stroke="#8a6e52" stroke-width="0.9"/>
<line x1="219.5" y1="527.6" x2="236.4" y2="528.8" stroke="#c9a67e" stroke-width="0.8"/>
<line x1="223.2" y1="544.0" x2="236.4" y2="545.2" stroke="#8a6e52" stroke-width="0.9"/>
<line x1="224.2" y1="546.6" x2="236.4" y2="547.8" stroke="#c9a67e" stroke-width="0.8"/>
<defs><linearGradient id="cordg" x1="0" y1="252" x2="0" y2="305" gradientUnits="userSpaceOnUse"><stop offset="0" stop-color="#cc3a2c"/><stop offset="0.5" stop-color="#e0663a"/><stop offset="1" stop-color="#ee8634"/></linearGradient></defs>
<path d="M233.0 252.0 C233.0 252.7 232.9 254.7 233.0 256.0 C233.1 257.3 233.4 258.7 233.5 260.0 C233.7 261.3 233.9 262.7 234.1 264.0 C234.2 265.3 234.4 266.7 234.6 268.0 C234.8 269.3 234.9 270.7 235.1 272.0 C235.3 273.3 235.5 274.7 235.7 276.0 C235.9 277.3 236.2 278.7 236.5 280.0 C236.7 281.3 237.0 282.7 237.2 284.0 C237.5 285.3 237.8 286.7 238.0 288.0 C238.3 289.3 238.4 290.7 238.8 292.0 C239.2 293.3 239.8 294.7 240.3 296.0 C240.8 297.3 241.3 298.7 241.8 300.0 C242.3 301.3 243.0 302.7 243.5 304.0 C244.1 305.3 244.7 306.7 245.3 308.0 C245.9 309.3 246.4 310.7 247.0 312.0 C247.6 313.3 248.3 314.7 248.8 316.0 C249.2 317.3 249.5 318.7 249.8 320.0 C250.2 321.3 250.5 322.7 250.9 324.0 C251.3 325.3 251.6 326.7 252.0 328.0 C252.3 329.3 252.7 330.7 253.1 332.0 C253.4 333.3 253.8 334.7 254.1 336.0 C254.5 337.3 254.9 338.7 255.2 340.0 C255.6 341.3 255.9 342.7 256.2 344.0 C256.6 345.3 256.9 346.7 257.2 348.0 C257.5 349.3 257.8 350.7 258.1 352.0 C258.5 353.3 258.8 354.7 259.1 356.0 C259.4 357.3 259.7 358.7 260.1 360.0 C260.4 361.3 260.7 362.7 261.0 364.0 C261.3 365.3 261.5 366.7 261.7 368.0 C261.9 369.3 262.0 370.7 262.2 372.0 C262.4 373.3 262.6 374.7 262.8 376.0 C263.0 377.3 263.2 378.7 263.3 380.0 C263.5 381.3 263.7 382.7 263.7 384.0 C263.7 385.3 263.4 386.7 263.3 388.0 C263.2 389.3 263.1 390.7 262.9 392.0 C262.8 393.3 262.7 394.7 262.6 396.0 C262.4 397.3 262.3 398.7 262.2 400.0 C262.1 401.3 262.1 402.7 262.0 404.0 C261.8 405.3 261.6 406.7 261.4 408.0 C261.2 409.3 260.9 410.7 260.7 412.0 C260.4 413.3 260.2 414.7 260.0 416.0 C259.8 417.3 259.6 418.7 259.3 420.0 C259.0 421.3 258.4 422.7 258.0 424.0 C257.6 425.3 257.1 426.7 256.7 428.0 C256.3 429.3 256.0 430.7 255.7 432.0 C255.5 433.3 255.3 434.7 255.0 436.0 C254.8 437.3 254.6 438.7 254.3 440.0 C254.1 441.3 253.9 442.7 253.7 444.0 C253.4 445.3 253.3 446.7 253.0 448.0 C252.7 449.3 252.3 450.7 251.9 452.0 C251.5 453.3 250.9 454.7 250.5 456.0 C250.0 457.3 249.5 458.7 249.0 460.0 C248.6 461.3 248.1 462.7 247.7 464.0 C247.2 465.3 246.8 466.7 246.3 468.0 C245.9 469.3 245.5 470.7 245.0 472.0 C244.6 473.3 244.1 474.7 243.7 476.0 C243.2 477.3 242.8 478.7 242.3 480.0 C241.8 481.3 241.3 482.7 240.8 484.0 C240.3 485.3 239.5 486.7 239.2 488.0 C238.8 489.3 238.7 490.7 238.5 492.0 C238.3 493.3 238.1 494.7 237.9 496.0 C237.7 497.3 237.4 499.3 237.3 500.0 L244.3 500.0 C244.4 499.3 244.8 497.3 245.1 496.0 C245.4 494.7 245.7 493.3 246.0 492.0 C246.3 490.7 246.4 489.3 246.8 488.0 C247.3 486.7 248.1 485.3 248.7 484.0 C249.3 482.7 249.9 481.3 250.4 480.0 C251.0 478.7 251.5 477.3 252.0 476.0 C252.5 474.7 253.0 473.3 253.5 472.0 C254.1 470.7 254.6 469.3 255.1 468.0 C255.6 466.7 256.2 465.3 256.7 464.0 C257.2 462.7 257.7 461.3 258.2 460.0 C258.8 458.7 259.3 457.3 259.9 456.0 C260.4 454.7 261.1 453.3 261.5 452.0 C262.0 450.7 262.5 449.3 262.8 448.0 C263.2 446.7 263.4 445.3 263.7 444.0 C264.0 442.7 264.3 441.3 264.6 440.0 C265.0 438.7 265.3 437.3 265.6 436.0 C265.9 434.7 266.1 433.3 266.5 432.0 C266.8 430.7 267.2 429.3 267.7 428.0 C268.1 426.7 268.7 425.3 269.2 424.0 C269.7 422.7 270.3 421.3 270.7 420.0 C271.1 418.7 271.3 417.3 271.6 416.0 C271.9 414.7 272.2 413.3 272.5 412.0 C272.8 410.7 273.1 409.3 273.4 408.0 C273.7 406.7 274.0 405.3 274.2 404.0 C274.4 402.7 274.6 401.3 274.7 400.0 C274.8 398.7 274.9 397.3 275.1 396.0 C275.2 394.7 275.3 393.3 275.4 392.0 C275.6 390.7 275.7 389.3 275.8 388.0 C275.9 386.7 276.2 385.3 276.2 384.0 C276.2 382.7 276.0 381.3 275.8 380.0 C275.7 378.7 275.5 377.3 275.3 376.0 C275.1 374.7 274.9 373.3 274.7 372.0 C274.5 370.7 274.4 369.3 274.2 368.0 C274.0 366.7 273.8 365.3 273.5 364.0 C273.2 362.7 272.9 361.3 272.6 360.0 C272.2 358.7 271.9 357.3 271.6 356.0 C271.3 354.7 271.0 353.3 270.6 352.0 C270.3 350.7 270.0 349.3 269.7 348.0 C269.4 346.7 269.1 345.3 268.7 344.0 C268.4 342.7 268.1 341.3 267.7 340.0 C267.4 338.7 267.0 337.3 266.6 336.0 C266.3 334.7 265.9 333.3 265.6 332.0 C265.2 330.7 264.8 329.3 264.5 328.0 C264.1 326.7 263.8 325.3 263.4 324.0 C263.0 322.7 262.7 321.3 262.3 320.0 C262.0 318.7 261.7 317.3 261.2 316.0 C260.8 314.7 260.1 313.3 259.5 312.0 C258.9 310.7 258.4 309.3 257.8 308.0 C257.2 306.7 256.6 305.3 256.0 304.0 C255.5 302.7 254.9 301.3 254.3 300.0 C253.7 298.7 252.9 297.3 252.3 296.0 C251.7 294.7 251.2 293.3 250.8 292.0 C250.4 290.7 250.3 289.3 250.0 288.0 C249.8 286.7 249.5 285.3 249.2 284.0 C249.0 282.7 248.7 281.3 248.5 280.0 C248.2 278.7 247.9 277.3 247.7 276.0 C247.5 274.7 247.3 273.3 247.1 272.0 C246.9 270.7 246.8 269.3 246.6 268.0 C246.4 266.7 246.2 265.3 246.1 264.0 C245.9 262.7 245.7 261.3 245.5 260.0 C245.4 258.7 245.1 257.3 245.0 256.0 C244.9 254.7 245.0 252.7 245.0 252.0 Z" fill="url(#cordg)" stroke="#9a4a22" stroke-width="1"/>
<path d="M241.0 492.0 C240.9 495.3 240.5 506.5 240.4 512.0 C240.3 517.5 240.0 520.4 240.4 525.0 C240.8 529.6 241.3 535.3 243.0 539.6 C244.7 543.9 247.6 547.1 250.5 551.0 C253.4 554.9 258.0 559.2 260.6 562.7 C263.2 566.2 264.6 569.1 266.0 572.0 C267.4 574.9 268.5 578.7 269.0 580.0" fill="none" stroke="#5a3040" stroke-width="6" stroke-linecap="round"/>
<path d="M241.0 492.0 C240.9 495.3 240.5 506.5 240.4 512.0 C240.3 517.5 240.0 520.4 240.4 525.0 C240.8 529.6 241.3 535.3 243.0 539.6 C244.7 543.9 247.6 547.1 250.5 551.0 C253.4 554.9 258.0 559.2 260.6 562.7 C263.2 566.2 264.6 569.1 266.0 572.0 C267.4 574.9 268.5 578.7 269.0 580.0" fill="none" stroke="#b48ca4" stroke-width="4" stroke-linecap="round"/>
<path d="M241.0 492.0 C240.9 495.3 240.5 506.5 240.4 512.0 C240.3 517.5 240.0 520.4 240.4 525.0 C240.8 529.6 241.3 535.3 243.0 539.6 C244.7 543.9 247.6 547.1 250.5 551.0 C253.4 554.9 258.0 559.2 260.6 562.7 C263.2 566.2 264.6 569.1 266.0 572.0 C267.4 574.9 268.5 578.7 269.0 580.0" fill="none" stroke="#7a4a5a" stroke-width="0.8"/>
<path d="M242.0 536.0 C242.5 537.5 243.5 542.3 245.0 545.0 C246.5 547.7 249.0 550.0 251.0 552.0 C253.0 554.0 255.3 555.7 257.0 557.0 C258.7 558.3 260.3 559.5 261.0 560.0" fill="none" stroke="#9e9ae6" stroke-width="5.5" stroke-linecap="round"/>
<path d="M182.7 222.0 C182.1 218.0 182.8 212.2 184.5 208.0 C186.2 203.8 189.2 200.0 193.0 197.0 C196.8 194.0 201.8 191.7 207.0 190.0 C212.2 188.3 218.0 187.4 224.0 187.0 C230.0 186.6 237.0 186.7 243.0 187.5 C249.0 188.3 255.2 189.8 260.0 192.0 C264.8 194.2 268.8 197.2 272.0 200.5 C275.2 203.8 277.6 207.9 279.0 212.0 C280.4 216.1 280.8 221.0 280.5 225.0 C280.2 229.0 279.1 234.0 277.0 236.0 C274.9 238.0 271.5 237.5 268.0 237.0 C264.5 236.5 260.7 234.3 256.0 233.0 C251.3 231.7 244.7 229.3 240.0 229.0 C235.3 228.7 232.3 229.5 228.0 231.0 C223.7 232.5 219.0 236.9 214.0 238.0 C209.0 239.1 202.3 238.5 198.0 237.5 C193.7 236.5 190.6 234.6 188.0 232.0 C185.4 229.4 183.3 226.0 182.7 222.0 Z" fill="#f0a4da" stroke="#8e4a78" stroke-width="1.3"/>
<path d="M188.0 207.0 C189.0 206.7 192.5 206.3 194.0 205.0 C195.5 203.7 195.3 200.2 197.0 199.0 C198.7 197.8 202.3 199.0 204.0 198.0 C205.7 197.0 206.5 193.8 207.0 193.0" fill="none" stroke="#a44c8a" stroke-width="1.5" stroke-linecap="round"/>
<path d="M186.0 215.0 C187.0 214.5 190.2 212.0 192.0 212.0 C193.8 212.0 195.2 215.3 197.0 215.0 C198.8 214.7 201.2 210.7 203.0 210.0 C204.8 209.3 206.5 211.8 208.0 211.0 C209.5 210.2 210.3 206.2 212.0 205.0 C213.7 203.8 216.3 205.2 218.0 204.0 C219.7 202.8 221.3 199.0 222.0 198.0" fill="none" stroke="#a44c8a" stroke-width="1.5" stroke-linecap="round"/>
<path d="M212.0 194.0 C213.0 193.7 215.8 192.0 218.0 192.0 C220.2 192.0 223.0 194.3 225.0 194.0 C227.0 193.7 228.2 190.5 230.0 190.0 C231.8 189.5 235.0 190.8 236.0 191.0" fill="none" stroke="#a44c8a" stroke-width="1.5" stroke-linecap="round"/>
<path d="M238.0 194.0 C239.0 193.7 242.2 191.7 244.0 192.0 C245.8 192.3 247.0 195.5 249.0 196.0 C251.0 196.5 253.8 194.5 256.0 195.0 C258.2 195.5 260.3 198.7 262.0 199.0 C263.7 199.3 265.3 197.3 266.0 197.0" fill="none" stroke="#a44c8a" stroke-width="1.5" stroke-linecap="round"/>
<path d="M222.0 203.0 C223.2 202.3 226.7 199.2 229.0 199.0 C231.3 198.8 233.8 202.0 236.0 202.0 C238.2 202.0 240.0 198.8 242.0 199.0 C244.0 199.2 245.8 202.5 248.0 203.0 C250.2 203.5 253.0 201.5 255.0 202.0 C257.0 202.5 257.8 205.7 260.0 206.0 C262.2 206.3 266.7 204.3 268.0 204.0" fill="none" stroke="#a44c8a" stroke-width="1.5" stroke-linecap="round"/>
<path d="M186.0 223.0 C186.8 222.3 189.3 218.8 191.0 219.0 C192.7 219.2 194.3 223.8 196.0 224.0 C197.7 224.2 199.5 220.3 201.0 220.0 C202.5 219.7 204.3 221.7 205.0 222.0" fill="none" stroke="#a44c8a" stroke-width="1.5" stroke-linecap="round"/>
<path d="M189.0 230.0 C190.0 229.7 193.2 227.5 195.0 228.0 C196.8 228.5 198.0 232.5 200.0 233.0 C202.0 233.5 205.2 230.8 207.0 231.0 C208.8 231.2 210.3 233.5 211.0 234.0" fill="none" stroke="#a44c8a" stroke-width="1.5" stroke-linecap="round"/>
<path d="M262.0 212.0 C262.8 211.7 265.5 209.3 267.0 210.0 C268.5 210.7 269.5 214.7 271.0 216.0 C272.5 217.3 275.2 217.7 276.0 218.0" fill="none" stroke="#a44c8a" stroke-width="1.5" stroke-linecap="round"/>
<path d="M258.0 222.0 C258.8 221.5 261.3 218.5 263.0 219.0 C264.7 219.5 266.2 223.7 268.0 225.0 C269.8 226.3 273.0 226.7 274.0 227.0" fill="none" stroke="#a44c8a" stroke-width="1.5" stroke-linecap="round"/>
<path d="M246.0 209.0 C247.0 209.7 250.0 212.3 252.0 213.0 C254.0 213.7 256.3 212.2 258.0 213.0 C259.7 213.8 260.7 216.7 262.0 218.0 C263.3 219.3 265.3 220.5 266.0 221.0" fill="none" stroke="#a44c8a" stroke-width="1.5" stroke-linecap="round"/>
<path d="M210.0 216.0 C211.0 215.2 214.0 211.5 216.0 211.0 C218.0 210.5 219.8 213.3 222.0 213.0 C224.2 212.7 226.7 209.5 229.0 209.0 C231.3 208.5 233.8 210.3 236.0 210.0 C238.2 209.7 241.0 207.5 242.0 207.0" fill="none" stroke="#a44c8a" stroke-width="1.5" stroke-linecap="round"/>
<path d="M268.0 232.0 C268.7 231.3 270.5 228.2 272.0 228.0 C273.5 227.8 276.2 230.5 277.0 231.0" fill="none" stroke="#a44c8a" stroke-width="1.5" stroke-linecap="round"/>
<path d="M274.0 205.0 C274.3 205.8 275.7 209.2 276.0 210.0" fill="none" stroke="#a44c8a" stroke-width="1.5" stroke-linecap="round"/>
<path d="M196.0 203.0 C196.7 203.5 198.8 206.0 200.0 206.0 C201.2 206.0 202.5 203.5 203.0 203.0" fill="none" stroke="#a44c8a" stroke-width="1.5" stroke-linecap="round"/>
<circle cx="209" cy="203" r="1.1" fill="#6a2a60"/>
<circle cx="236" cy="198" r="1.1" fill="#6a2a60"/>
<circle cx="251" cy="206" r="1.1" fill="#6a2a60"/>
<circle cx="262" cy="208" r="1.1" fill="#6a2a60"/>
<circle cx="241" cy="213" r="1.1" fill="#6a2a60"/>
<circle cx="228" cy="218" r="1.1" fill="#6a2a60"/>
<circle cx="197" cy="226" r="1.1" fill="#6a2a60"/>
<circle cx="277" cy="226" r="1.1" fill="#6a2a60"/>
<circle cx="270" cy="219" r="1.1" fill="#6a2a60"/>
<path d="M210.0 230.0 C209.3 228.7 211.2 224.8 213.0 223.0 C214.8 221.2 217.8 220.1 221.0 219.5 C224.2 218.9 228.8 219.0 232.0 219.5 C235.2 220.0 238.1 220.9 240.0 222.5 C241.9 224.1 244.2 227.6 243.5 229.0 C242.8 230.4 238.9 231.0 236.0 231.0 C233.1 231.0 229.2 229.0 226.0 229.0 C222.8 229.0 219.7 230.8 217.0 231.0 C214.3 231.2 210.7 231.3 210.0 230.0 Z" fill="#f3e3bc" stroke="none"/>
<path d="M205.0 226.0 C205.2 224.8 204.8 220.9 206.0 219.0 C207.2 217.1 209.3 215.7 212.0 214.5 C214.7 213.3 218.3 212.3 222.0 212.0 C225.7 211.7 230.5 211.9 234.0 212.5 C237.5 213.1 240.8 214.4 243.0 215.5 C245.2 216.6 246.5 217.4 247.5 219.0 C248.5 220.6 249.1 223.3 249.0 225.0 C248.9 226.7 247.3 228.3 247.0 229.0 L242.0 229.0 C241.8 228.0 241.7 224.6 240.5 223.0 C239.3 221.4 237.4 220.2 235.0 219.5 C232.6 218.8 229.2 218.8 226.0 219.0 C222.8 219.2 218.5 219.5 216.0 220.5 C213.5 221.5 212.0 223.4 211.0 225.0 C210.0 226.6 210.7 229.0 210.0 230.0 C209.3 231.0 207.5 230.8 207.0 231.0 Z" fill="#d8ec7c" stroke="#7a8a2a" stroke-width="1.2"/>
<path d="M208.0 226.0 C208.7 224.7 209.7 219.8 212.0 218.0 C214.3 216.2 218.3 215.6 222.0 215.2 C225.7 214.8 230.7 215.0 234.0 215.5 C237.3 216.0 240.1 216.6 242.0 218.0 C243.9 219.4 244.9 223.0 245.5 224.0" fill="none" stroke="#a6bc4a" stroke-width="1"/>
<path d="M234.0 234.0 C234.7 232.4 237.2 231.0 239.0 230.5 C240.8 230.0 243.2 231.3 245.0 231.0 C246.8 230.7 248.2 228.8 250.0 228.5 C251.8 228.2 254.0 229.4 256.0 229.5 C258.0 229.6 260.2 228.6 262.0 229.0 C263.8 229.4 265.3 231.0 267.0 232.0 C268.7 233.0 270.7 233.7 272.0 235.0 C273.3 236.3 274.3 238.2 275.0 240.0 C275.7 241.8 276.2 244.0 276.0 246.0 C275.8 248.0 275.0 250.2 274.0 252.0 C273.0 253.8 271.7 255.6 270.0 257.0 C268.3 258.4 266.2 259.8 264.0 260.5 C261.8 261.2 259.3 261.6 257.0 261.5 C254.7 261.4 252.2 260.6 250.0 260.0 C247.8 259.4 245.7 259.2 244.0 258.0 C242.3 256.8 241.2 255.0 240.0 253.0 C238.8 251.0 237.8 248.2 237.0 246.0 C236.2 243.8 235.5 242.0 235.0 240.0 C234.5 238.0 233.3 235.6 234.0 234.0 Z" fill="#a8224e" stroke="#7a1432" stroke-width="1"/>
<circle cx="246.8" cy="246.3" r="1.3" fill="#8e1a40"/>
<circle cx="255.5" cy="247.4" r="0.5" fill="#6a0c28"/>
<circle cx="269.0" cy="237.8" r="0.7" fill="#c8487a"/>
<circle cx="264.5" cy="246.2" r="0.9" fill="#6a0c28"/>
<circle cx="261.6" cy="234.5" r="1.3" fill="#c8487a"/>
<circle cx="257.4" cy="252.2" r="0.6" fill="#7a1030"/>
<circle cx="266.9" cy="254.7" r="0.9" fill="#8e1a40"/>
<circle cx="264.6" cy="256.4" r="0.9" fill="#d46890"/>
<circle cx="267.6" cy="243.3" r="1.3" fill="#c8487a"/>
<circle cx="254.1" cy="248.8" r="0.9" fill="#8e1a40"/>
<circle cx="268.8" cy="247.2" r="1.0" fill="#6a0c28"/>
<circle cx="259.6" cy="257.1" r="1.3" fill="#7a1030"/>
<circle cx="259.1" cy="251.4" r="1.1" fill="#c8487a"/>
<circle cx="242.6" cy="244.5" r="0.6" fill="#d46890"/>
<circle cx="267.6" cy="242.3" r="0.5" fill="#c8487a"/>
<circle cx="253.8" cy="242.5" r="0.5" fill="#7a1030"/>
<circle cx="264.6" cy="239.9" r="1.0" fill="#8e1a40"/>
<circle cx="240.8" cy="248.0" r="1.4" fill="#7a1030"/>
<circle cx="247.7" cy="250.7" r="0.8" fill="#8e1a40"/>
<circle cx="252.0" cy="243.8" r="0.8" fill="#6a0c28"/>
<circle cx="270.1" cy="250.4" r="1.1" fill="#7a1030"/>
<circle cx="272.8" cy="245.2" r="1.1" fill="#d46890"/>
<circle cx="254.2" cy="237.7" r="1.0" fill="#8e1a40"/>
<circle cx="260.8" cy="249.0" r="1.1" fill="#7a1030"/>
<circle cx="250.3" cy="240.6" r="1.0" fill="#8e1a40"/>
<circle cx="248.3" cy="244.7" r="0.6" fill="#6a0c28"/>
<circle cx="247.3" cy="243.7" r="1.0" fill="#6a0c28"/>
<circle cx="244.6" cy="235.6" r="1.3" fill="#8e1a40"/>
<circle cx="247.8" cy="253.6" r="1.2" fill="#7a1030"/>
<circle cx="265.2" cy="239.3" r="1.1" fill="#c8487a"/>
<circle cx="248.0" cy="239.8" r="1.1" fill="#d46890"/>
<circle cx="241.6" cy="248.0" r="1.1" fill="#8e1a40"/>
<circle cx="246.3" cy="254.3" r="0.6" fill="#c8487a"/>
<circle cx="265.5" cy="236.5" r="0.9" fill="#6a0c28"/>
<circle cx="257.6" cy="235.7" r="0.7" fill="#6a0c28"/>
<circle cx="248.3" cy="254.2" r="1.2" fill="#7a1030"/>
<circle cx="250.8" cy="233.9" r="1.0" fill="#8e1a40"/>
<circle cx="269.4" cy="243.9" r="0.8" fill="#d46890"/>
<circle cx="253.3" cy="236.0" r="1.3" fill="#d46890"/>
<circle cx="254.1" cy="258.5" r="0.5" fill="#c8487a"/>
<circle cx="254.9" cy="252.6" r="1.4" fill="#6a0c28"/>
<circle cx="258.1" cy="256.7" r="1.3" fill="#7a1030"/>
<circle cx="267.7" cy="245.4" r="1.3" fill="#c8487a"/>
<circle cx="271.3" cy="247.3" r="0.9" fill="#7a1030"/>
<circle cx="242.5" cy="245.1" r="1.1" fill="#c8487a"/>
<circle cx="257.4" cy="242.4" r="0.6" fill="#6a0c28"/>
<circle cx="258.0" cy="254.3" r="0.8" fill="#7a1030"/>
<circle cx="245.3" cy="246.0" r="0.7" fill="#7a1030"/>
<circle cx="267.8" cy="254.7" r="0.9" fill="#7a1030"/>
<circle cx="259.1" cy="242.0" r="0.7" fill="#8e1a40"/>
<circle cx="260.9" cy="245.6" r="0.9" fill="#7a1030"/>
<circle cx="241.2" cy="245.1" r="0.6" fill="#8e1a40"/>
<circle cx="240.7" cy="241.6" r="1.0" fill="#d46890"/>
<circle cx="251.4" cy="235.7" r="0.9" fill="#8e1a40"/>
<circle cx="264.8" cy="253.9" r="0.7" fill="#6a0c28"/>
<circle cx="251.8" cy="248.1" r="0.8" fill="#6a0c28"/>
<circle cx="267.6" cy="248.7" r="0.5" fill="#d46890"/>
<circle cx="261.2" cy="252.8" r="0.9" fill="#8e1a40"/>
<circle cx="263.7" cy="243.8" r="0.7" fill="#c8487a"/>
<circle cx="248.0" cy="247.7" r="0.7" fill="#d46890"/>
<path d="M219.0 226.0 C220.0 224.9 222.3 223.7 224.0 223.5 C225.7 223.3 227.5 223.9 229.0 225.0 C230.5 226.1 231.8 228.2 233.0 230.0 C234.2 231.8 235.5 234.0 236.5 236.0 C237.5 238.0 238.2 240.0 239.0 242.0 C239.8 244.0 240.3 246.0 241.0 248.0 C241.7 250.0 242.2 251.7 243.0 254.0 C243.8 256.3 246.7 260.7 245.5 262.0 C244.3 263.3 238.2 262.8 236.0 262.0 C233.8 261.2 233.5 258.4 232.0 257.0 C230.5 255.6 228.2 255.2 227.0 253.5 C225.8 251.8 225.2 249.2 225.0 247.0 C224.8 244.8 226.5 242.2 226.0 240.0 C225.5 237.8 223.3 235.7 222.0 234.0 C220.7 232.3 218.5 231.3 218.0 230.0 C217.5 228.7 218.0 227.1 219.0 226.0 Z" fill="#e8784e" stroke="#a8462a" stroke-width="0.9"/>
<ellipse cx="232" cy="247" rx="6.5" ry="7.5" fill="#f09a72" stroke="#b8603a" stroke-width="0.8"/>
<ellipse cx="222.8" cy="227.3" rx="4.8" ry="4.2" fill="#eab070" stroke="#b8702e" stroke-width="0.8"/>
<circle cx="214" cy="241.8" r="3.6" fill="#e4e4ee" stroke="#6a6a7a" stroke-width="1.2"/>
<circle cx="213" cy="241" r="1.1" fill="#3a3a4a"/>
<text class="li" x="78.2" y="180.8">Body of Fornix</text>
<text class="li" x="72.0" y="229.8">Pituitary Gland</text>
<text class="li" x="85.5" y="284.4">Pons Varolii</text>
<text class="li" x="300.6" y="159.4">Cerebrum</text>
<text class="li" x="325.0" y="192.2">Corpus Callosum</text>
<text class="li" x="335.8" y="231.8">Cerebellum</text>
<text class="li" x="310.3" y="276.4">Brain Stem</text>
<text class="li" x="92.7" y="414.0">Vertebral Column</text>
<text class="li" x="331.7" y="450.0">Spinal Cord</text>
<text class="li" x="84.0" y="527.3">Cauda Equina</text>
<text class="li" x="330.7" y="561.7">Dura Mater</text>
<path d="M149.8 178.0 L159.5 178.0 L213.0 219.0" fill="none" stroke="#3e3a36" stroke-width="1"/>
<path d="M147.0 226.5 L156.0 226.5 L212.0 240.0" fill="none" stroke="#3e3a36" stroke-width="1"/>
<path d="M142.5 281.5 L150.6 281.5 L229.5 245.5" fill="none" stroke="#3e3a36" stroke-width="1"/>
<path d="M298.2 155.8 L288.0 155.8 L251.5 198.0" fill="none" stroke="#3e3a36" stroke-width="1"/>
<path d="M322.5 189.8 L311.6 189.8 L240.0 218.0" fill="none" stroke="#3e3a36" stroke-width="1"/>
<path d="M333.4 228.6 L322.5 228.6 L271.0 238.0" fill="none" stroke="#3e3a36" stroke-width="1"/>
<path d="M308.0 274.7 L297.8 274.7 L254.0 261.3" fill="none" stroke="#3e3a36" stroke-width="1"/>
<path d="M176.7 413.3 L250.0 405.0" fill="none" stroke="#3e3a36" stroke-width="1"/>
<path d="M328.0 447.3 L318.0 447.3 L270.0 431.7" fill="none" stroke="#3e3a36" stroke-width="1"/>
<path d="M156.7 526.7 L236.7 520.0" fill="none" stroke="#3e3a36" stroke-width="1"/>
<path d="M326.7 559.3 L253.0 550.0" fill="none" stroke="#3e3a36" stroke-width="1"/>
</g>
</svg>
</body></html>
